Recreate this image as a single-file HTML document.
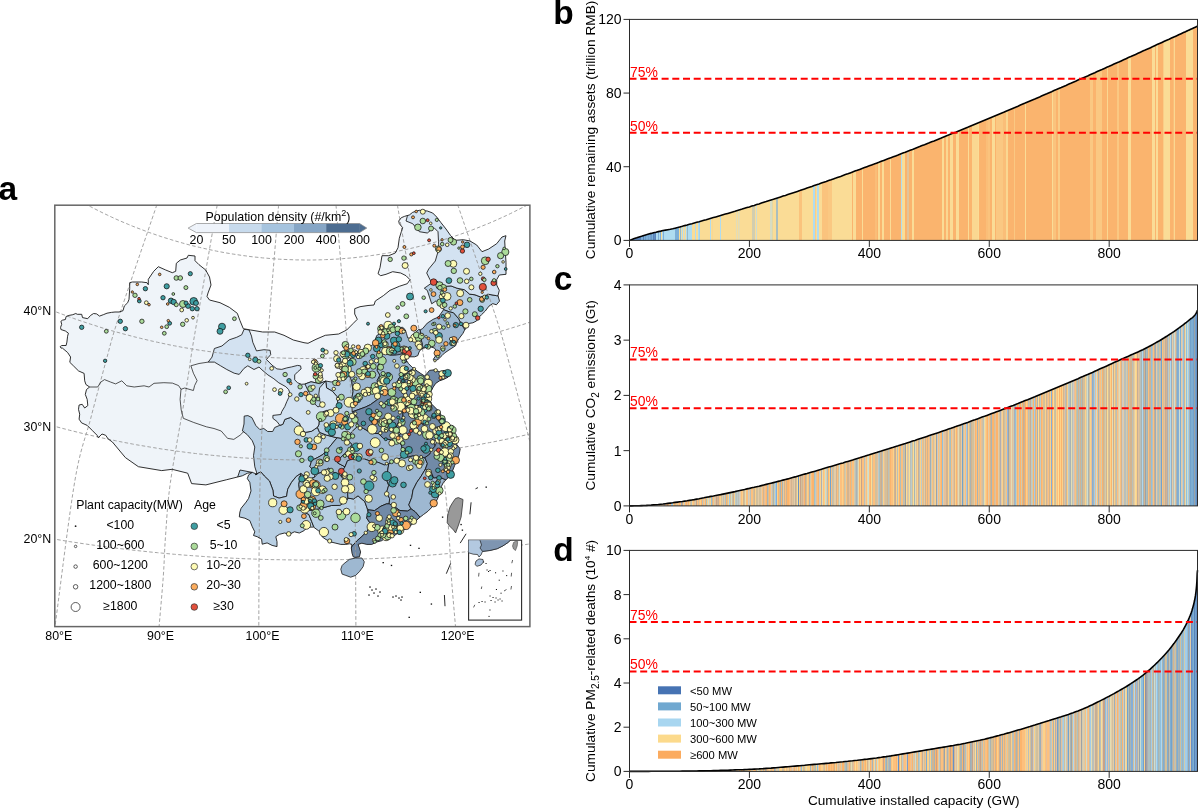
<!DOCTYPE html>
<html><head><meta charset="utf-8"><style>
html,body{margin:0;padding:0;background:#fff;}
svg{display:block;font-family:"Liberation Sans",sans-serif;will-change:transform;}
</style></head><body>
<svg width="1200" height="808" viewBox="0 0 1200 808">
<defs><clipPath id="frameclip"><rect x="54.8" y="205.2" width="475.1" height="421.4"/></clipPath>
<clipPath id="chinaclip"><path d="M61.0,348.1 L60.2,346.6 L61.7,345.5 L66.1,345.5 L66.9,342.1 L67.6,336.2 L68.4,333.2 L65.4,331.0 L60.9,329.5 L60.6,327.3 L61.7,324.3 L60.9,321.3 L62.4,320.2 L65.4,319.5 L66.1,316.5 L69.1,315.4 L72.8,314.7 L75.8,313.5 L77.3,314.3 L81.7,314.3 L82.5,317.6 L87.7,318.7 L90.6,315.4 L93.6,313.5 L96.6,313.9 L99.5,316.1 L103.3,314.7 L107.0,313.2 L111.4,312.4 L115.0,312.0 L119.0,312.0 L123.0,310.7 L124.3,306.0 L127.7,302.7 L129.0,299.3 L129.7,288.7 L129.7,282.7 L132.3,282.0 L141.7,282.0 L147.0,282.7 L148.3,284.7 L148.3,279.3 L153.7,271.3 L158.3,266.7 L165.7,270.0 L172.3,272.7 L175.7,271.3 L176.3,263.3 L180.3,260.0 L187.0,258.0 L188.3,255.3 L195.0,256.0 L195.0,260.7 L199.0,264.7 L205.7,270.0 L209.5,277.0 L211.0,285.0 L208.0,293.0 L207.0,296.5 L209.5,300.0 L220.0,302.7 L229.3,307.3 L237.3,313.3 L240.0,320.7 L243.3,328.7 L250.7,330.0 L262.7,332.0 L274.7,332.0 L284.0,335.3 L293.3,340.0 L304.0,342.7 L308.0,343.3 L316.0,339.3 L325.3,335.3 L338.7,334.0 L346.7,330.0 L353.3,323.3 L357.3,319.3 L354.7,314.0 L354.7,308.7 L360.0,306.7 L368.0,305.5 L374.0,305.0 L375.3,301.0 L383.3,295.7 L390.0,290.3 L399.3,286.3 L407.3,283.7 L410.0,279.7 L406.0,275.7 L400.7,273.0 L392.7,271.7 L386.0,274.3 L380.7,275.7 L378.0,273.7 L380.0,267.7 L382.0,255.7 L388.7,255.7 L395.3,253.0 L398.0,247.7 L399.3,238.3 L401.3,231.7 L402.7,227.7 L399.3,223.7 L398.7,221.0 L401.3,217.7 L404.7,216.3 L409.3,215.0 L412.7,212.3 L419.3,210.3 L427.3,211.0 L432.7,213.0 L436.7,217.0 L440.7,222.3 L446.0,229.0 L450.7,235.7 L455.3,240.3 L463.3,239.7 L470.0,241.0 L476.7,245.0 L482.0,251.7 L488.7,249.0 L496.7,243.7 L502.0,237.0 L506.0,235.7 L504.7,241.0 L505.3,251.7 L506.0,262.3 L506.0,274.3 L499.3,275.0 L496.7,279.7 L496.7,285.0 L499.3,290.3 L498.0,295.7 L499.5,301.1 L496.4,304.8 L492.7,303.6 L489.0,306.1 L485.3,311.0 L481.5,314.7 L479.1,317.2 L476.6,320.9 L472.9,322.8 L469.2,323.4 L466.7,327.1 L464.2,330.8 L463.0,333.3 L459.3,338.2 L456.8,342.0 L455.6,345.7 L451.9,348.1 L448.1,350.6 L444.4,353.1 L442.0,355.6 L438.2,359.3 L434.5,361.1 L433.3,359.3 L435.8,355.6 L437.0,351.9 L434.5,348.1 L430.8,346.9 L427.1,346.9 L423.4,348.1 L420.9,349.4 L419.1,351.9 L417.8,355.6 L414.7,356.8 L409.8,356.8 L406.1,357.4 L406.5,360.5 L408.5,363.6 L412.2,367.3 L417.1,371.0 L420.8,373.5 L424.5,376.0 L427.0,373.5 L429.5,370.4 L434.4,369.8 L439.4,371.7 L444.3,370.4 L448.0,372.9 L448.0,377.2 L444.3,379.1 L439.4,380.9 L435.7,383.4 L433.2,387.1 L430.7,392.1 L429.5,397.0 L430.7,402.0 L432.0,404.4 L435.7,408.1 L439.4,411.9 L441.9,416.8 L444.3,421.8 L449.3,424.2 L453.0,429.2 L454.2,436.6 L455.5,441.5 L456.8,444.5 L460.2,448.9 L459.1,454.5 L456.8,460.0 L454.6,465.6 L452.4,471.2 L450.1,475.6 L446.8,479.0 L443.5,482.3 L441.2,486.8 L440.1,492.3 L437.9,497.9 L435.7,502.4 L432.3,506.8 L427.9,511.3 L423.4,514.6 L419.0,518.0 L414.5,522.4 L408.9,526.9 L403.9,529.6 L397.7,533.3 L394.0,535.8 L386.6,537.0 L381.7,540.7 L376.7,542.0 L371.8,544.4 L366.8,544.4 L361.9,543.2 L358.1,544.4 L359.4,548.1 L360.6,551.9 L359.4,556.8 L355.1,557.4 L353.2,556.8 L352.0,553.1 L351.3,548.1 L352.0,544.4 L349.5,543.8 L345.8,544.4 L340.8,544.4 L335.9,543.2 L330.9,542.0 L326.0,539.5 L322.3,537.0 L321.7,533.3 L318.6,530.8 L313.6,527.1 L307.4,527.1 L304.3,530.5 L299.3,533.0 L294.4,531.8 L289.4,534.3 L284.5,533.0 L279.5,534.3 L275.8,536.7 L277.0,541.7 L277.0,546.6 L272.1,545.4 L267.1,542.9 L262.2,544.2 L261.6,539.2 L257.2,536.7 L253.5,535.5 L254.8,531.8 L252.3,526.8 L249.8,520.6 L244.9,518.2 L239.3,516.9 L239.9,512.0 L241.1,508.3 L246.1,502.1 L248.6,498.4 L251.0,490.9 L249.8,482.3 L247.3,478.6 L248.6,474.9 L252.3,472.4 L247.5,473.2 L242.3,475.8 L226.7,479.7 L205.9,484.9 L191.6,483.6 L187.7,473.2 L172.1,469.3 L161.7,470.6 L138.4,466.7 L125.4,457.6 L112.4,442.0 L108.2,439.0 L105.7,435.3 L102.0,434.0 L98.3,437.7 L97.1,435.3 L92.1,430.3 L87.2,425.4 L81.6,422.9 L79.1,419.2 L79.7,414.2 L78.5,409.3 L79.1,405.0 L82.2,404.3 L84.7,408.0 L87.8,405.6 L87.2,399.4 L85.3,394.4 L86.5,389.5 L89.6,387.0 L85.9,384.5 L84.7,380.8 L84.1,373.4 L78.5,370.9 L73.6,366.0 L69.8,362.3 L70.6,357.0 L67.6,352.5 L62.4,348.1 Z"/></clipPath></defs>
<path d="M61.0,348.1 L60.2,346.6 L61.7,345.5 L66.1,345.5 L66.9,342.1 L67.6,336.2 L68.4,333.2 L65.4,331.0 L60.9,329.5 L60.6,327.3 L61.7,324.3 L60.9,321.3 L62.4,320.2 L65.4,319.5 L66.1,316.5 L69.1,315.4 L72.8,314.7 L75.8,313.5 L77.3,314.3 L81.7,314.3 L82.5,317.6 L87.7,318.7 L90.6,315.4 L93.6,313.5 L96.6,313.9 L99.5,316.1 L103.3,314.7 L107.0,313.2 L111.4,312.4 L115.0,312.0 L119.0,312.0 L123.0,310.7 L124.3,306.0 L127.7,302.7 L129.0,299.3 L129.7,288.7 L129.7,282.7 L132.3,282.0 L141.7,282.0 L147.0,282.7 L148.3,284.7 L148.3,279.3 L153.7,271.3 L158.3,266.7 L165.7,270.0 L172.3,272.7 L175.7,271.3 L176.3,263.3 L180.3,260.0 L187.0,258.0 L188.3,255.3 L195.0,256.0 L195.0,260.7 L199.0,264.7 L205.7,270.0 L209.5,277.0 L211.0,285.0 L208.0,293.0 L207.0,296.5 L209.5,300.0 L220.0,302.7 L229.3,307.3 L237.3,313.3 L240.0,320.7 L243.3,328.7 L250.7,330.0 L262.7,332.0 L274.7,332.0 L284.0,335.3 L293.3,340.0 L304.0,342.7 L308.0,343.3 L316.0,339.3 L325.3,335.3 L338.7,334.0 L346.7,330.0 L353.3,323.3 L357.3,319.3 L354.7,314.0 L354.7,308.7 L360.0,306.7 L368.0,305.5 L374.0,305.0 L375.3,301.0 L383.3,295.7 L390.0,290.3 L399.3,286.3 L407.3,283.7 L410.0,279.7 L406.0,275.7 L400.7,273.0 L392.7,271.7 L386.0,274.3 L380.7,275.7 L378.0,273.7 L380.0,267.7 L382.0,255.7 L388.7,255.7 L395.3,253.0 L398.0,247.7 L399.3,238.3 L401.3,231.7 L402.7,227.7 L399.3,223.7 L398.7,221.0 L401.3,217.7 L404.7,216.3 L409.3,215.0 L412.7,212.3 L419.3,210.3 L427.3,211.0 L432.7,213.0 L436.7,217.0 L440.7,222.3 L446.0,229.0 L450.7,235.7 L455.3,240.3 L463.3,239.7 L470.0,241.0 L476.7,245.0 L482.0,251.7 L488.7,249.0 L496.7,243.7 L502.0,237.0 L506.0,235.7 L504.7,241.0 L505.3,251.7 L506.0,262.3 L506.0,274.3 L499.3,275.0 L496.7,279.7 L496.7,285.0 L499.3,290.3 L498.0,295.7 L499.5,301.1 L496.4,304.8 L492.7,303.6 L489.0,306.1 L485.3,311.0 L481.5,314.7 L479.1,317.2 L476.6,320.9 L472.9,322.8 L469.2,323.4 L466.7,327.1 L464.2,330.8 L463.0,333.3 L459.3,338.2 L456.8,342.0 L455.6,345.7 L451.9,348.1 L448.1,350.6 L444.4,353.1 L442.0,355.6 L438.2,359.3 L434.5,361.1 L433.3,359.3 L435.8,355.6 L437.0,351.9 L434.5,348.1 L430.8,346.9 L427.1,346.9 L423.4,348.1 L420.9,349.4 L419.1,351.9 L417.8,355.6 L414.7,356.8 L409.8,356.8 L406.1,357.4 L406.5,360.5 L408.5,363.6 L412.2,367.3 L417.1,371.0 L420.8,373.5 L424.5,376.0 L427.0,373.5 L429.5,370.4 L434.4,369.8 L439.4,371.7 L444.3,370.4 L448.0,372.9 L448.0,377.2 L444.3,379.1 L439.4,380.9 L435.7,383.4 L433.2,387.1 L430.7,392.1 L429.5,397.0 L430.7,402.0 L432.0,404.4 L435.7,408.1 L439.4,411.9 L441.9,416.8 L444.3,421.8 L449.3,424.2 L453.0,429.2 L454.2,436.6 L455.5,441.5 L456.8,444.5 L460.2,448.9 L459.1,454.5 L456.8,460.0 L454.6,465.6 L452.4,471.2 L450.1,475.6 L446.8,479.0 L443.5,482.3 L441.2,486.8 L440.1,492.3 L437.9,497.9 L435.7,502.4 L432.3,506.8 L427.9,511.3 L423.4,514.6 L419.0,518.0 L414.5,522.4 L408.9,526.9 L403.9,529.6 L397.7,533.3 L394.0,535.8 L386.6,537.0 L381.7,540.7 L376.7,542.0 L371.8,544.4 L366.8,544.4 L361.9,543.2 L358.1,544.4 L359.4,548.1 L360.6,551.9 L359.4,556.8 L355.1,557.4 L353.2,556.8 L352.0,553.1 L351.3,548.1 L352.0,544.4 L349.5,543.8 L345.8,544.4 L340.8,544.4 L335.9,543.2 L330.9,542.0 L326.0,539.5 L322.3,537.0 L321.7,533.3 L318.6,530.8 L313.6,527.1 L307.4,527.1 L304.3,530.5 L299.3,533.0 L294.4,531.8 L289.4,534.3 L284.5,533.0 L279.5,534.3 L275.8,536.7 L277.0,541.7 L277.0,546.6 L272.1,545.4 L267.1,542.9 L262.2,544.2 L261.6,539.2 L257.2,536.7 L253.5,535.5 L254.8,531.8 L252.3,526.8 L249.8,520.6 L244.9,518.2 L239.3,516.9 L239.9,512.0 L241.1,508.3 L246.1,502.1 L248.6,498.4 L251.0,490.9 L249.8,482.3 L247.3,478.6 L248.6,474.9 L252.3,472.4 L247.5,473.2 L242.3,475.8 L226.7,479.7 L205.9,484.9 L191.6,483.6 L187.7,473.2 L172.1,469.3 L161.7,470.6 L138.4,466.7 L125.4,457.6 L112.4,442.0 L108.2,439.0 L105.7,435.3 L102.0,434.0 L98.3,437.7 L97.1,435.3 L92.1,430.3 L87.2,425.4 L81.6,422.9 L79.1,419.2 L79.7,414.2 L78.5,409.3 L79.1,405.0 L82.2,404.3 L84.7,408.0 L87.8,405.6 L87.2,399.4 L85.3,394.4 L86.5,389.5 L89.6,387.0 L85.9,384.5 L84.7,380.8 L84.1,373.4 L78.5,370.9 L73.6,366.0 L69.8,362.3 L70.6,357.0 L67.6,352.5 L62.4,348.1 Z" fill="#eff4f9" stroke="none" stroke-width="0" stroke-linejoin="round"/>
<g clip-path="url(#chinaclip)">
<path d="M244.2,416.1 L247.9,415.6 L251.9,417.6 L255.8,425.5 L259.8,429.5 L263.8,428.5 L267.7,431.5 L272.7,431.5 L274.7,427.5 L279.8,425.3 L282.8,424.4 L284.8,419.4 L290.7,417.4 L294.7,420.4 L299.6,423.4 L301.6,429.3 L305.6,432.3 L311.5,431.3 L314.5,429.3 L317.4,427.3 L319.5,432.3 L326.5,435.1 L337.0,437.8 L330.2,446.1 L323.2,454.3 L317.9,457.4 L311.7,460.4 L309.9,466.5 L315.3,472.4 L314.4,477.4 L308.0,479.5 L300.8,473.5 L296.2,476.5 L291.5,482.4 L287.7,489.3 L286.6,496.3 L279.1,498.1 L273.6,496.0 L272.9,490.1 L269.5,481.0 L264.3,476.0 L260.8,471.9 L255.2,474.7 L257.2,474.3 L254.8,466.8 L253.5,455.7 L254.8,447.0 L252.3,440.8 L247.3,434.7 L242.4,430.9 L244.0,424.0 Z" fill="#b8cfe3" stroke="#151515" stroke-width="0.85" stroke-linejoin="round"/>
<path d="M252.3,472.4 L257.2,474.3 L255.2,474.7 L260.8,471.9 L264.3,476.0 L269.5,481.0 L272.9,490.1 L273.6,496.0 L279.1,498.1 L286.6,496.3 L287.7,489.3 L291.5,482.4 L296.2,476.5 L300.8,473.5 L298.8,484.5 L299.7,491.5 L301.4,498.5 L301.4,504.5 L303.2,511.5 L308.9,514.5 L311.7,521.6 L313.7,526.6 L315.7,539.7 L280.0,560.0 L240.0,530.0 L230.0,500.0 L240.0,470.0 Z" fill="#b8cfe3" stroke="#151515" stroke-width="0.85" stroke-linejoin="round"/>
<path d="M325.7,381.0 L331.3,382.0 L337.3,380.3 L339.9,373.3 L342.5,369.0 L348.6,373.3 L351.8,381.5 L353.1,391.6 L351.1,401.8 L352.4,411.8 L357.8,417.6 L356.3,421.8 L358.2,425.7 L351.6,432.1 L346.7,439.4 L337.0,437.8 L326.5,435.1 L319.5,432.3 L317.4,427.3 L318.8,425.0 L319.6,415.6 L322.2,412.1 L326.6,410.4 L331.8,410.4 L337.0,408.7 L337.8,403.5 L337.0,396.6 L332.6,391.4 L326.6,387.9 Z" fill="#b8cfe3" stroke="#151515" stroke-width="0.85" stroke-linejoin="round"/>
<path d="M431.7,283.0 L437.7,281.5 L442.1,286.7 L451.0,285.9 L457.0,288.2 L464.4,289.7 L469.6,294.1 L475.0,294.8 L480.7,297.0 L488.7,294.3 L496.7,295.7 L503.0,296.0 L503.0,306.0 L485.0,318.0 L472.0,328.0 L467.0,333.0 L464.4,329.0 L461.4,324.5 L458.5,318.6 L453.3,312.7 L449.5,311.9 L443.6,309.7 L439.9,304.5 L436.2,300.8 L431.7,303.8 L429.5,297.1 L427.3,290.4 L424.3,288.2 Z" fill="#b8cfe3" stroke="#151515" stroke-width="0.85" stroke-linejoin="round"/>
<path d="M303.2,511.5 L307.9,510.5 L316.4,509.5 L323.9,507.5 L331.4,505.5 L339.8,505.4 L346.2,501.2 L347.9,498.1 L353.5,499.0 L358.0,495.8 L364.8,501.7 L367.0,507.8 L368.2,512.8 L366.6,518.0 L370.7,524.0 L367.3,531.2 L361.8,536.5 L357.2,540.6 L352.5,545.7 L349.9,551.9 L335.2,551.9 L318.6,546.7 L308.9,534.6 L313.7,526.6 L311.7,521.6 L308.9,514.5 Z" fill="#b8cfe3" stroke="#151515" stroke-width="0.85" stroke-linejoin="round"/>
<path d="M244.1,329.3 L249.1,329.9 L251.5,336.1 L252.8,342.3 L256.5,350.9 L263.9,349.7 L270.1,350.3 L270.7,354.6 L266.4,359.6 L268.0,361.0 L271.9,365.0 L276.9,368.9 L281.8,369.4 L286.8,367.9 L291.7,366.9 L297.6,365.4 L300.6,365.9 L301.1,368.9 L297.6,371.9 L294.7,374.9 L294.7,379.8 L297.6,382.8 L301.6,384.3 L305.0,384.0 L311.0,381.8 L319.6,383.6 L325.7,381.0 L326.6,387.9 L332.6,391.4 L337.0,396.6 L337.8,403.5 L337.0,408.7 L331.8,410.4 L326.6,410.4 L322.2,412.1 L319.6,415.6 L318.8,425.0 L317.4,427.3 L314.5,429.3 L311.5,431.3 L305.6,432.3 L301.6,429.3 L299.6,423.4 L294.7,420.4 L290.7,417.4 L284.8,419.4 L282.8,424.4 L279.8,425.3 L276.9,421.4 L272.9,418.4 L272.9,415.4 L280.8,414.5 L281.8,411.5 L284.8,406.5 L286.8,401.6 L288.7,397.6 L289.7,392.7 L288.7,389.7 L285.8,386.7 L278.8,382.8 L273.9,378.8 L267.9,374.9 L262.0,369.9 L259.0,367.0 L254.0,369.5 L247.8,365.8 L244.1,368.3 L239.2,374.4 L234.2,373.2 L226.8,369.5 L220.6,365.8 L214.4,362.1 L208.2,362.1 L212.0,357.1 L214.4,348.5 L221.9,346.0 L229.3,339.8 L236.7,337.3 L241.7,334.8 Z" fill="#d3e2f1" stroke="#151515" stroke-width="0.85" stroke-linejoin="round"/>
<path d="M407.3,216.3 L406.0,221.0 L412.7,223.7 L419.3,231.7 L427.3,233.0 L434.0,227.7 L438.0,231.7 L438.7,245.0 L438.0,251.7 L435.3,261.0 L428.7,269.0 L426.7,273.0 L430.0,279.7 L431.7,283.0 L437.7,281.5 L442.1,286.7 L451.0,285.9 L457.0,288.2 L464.4,289.7 L469.6,294.1 L475.0,294.8 L480.7,297.0 L488.7,294.3 L496.7,295.7 L503.0,296.0 L510.0,280.0 L510.0,230.0 L500.0,232.0 L480.0,245.0 L460.0,236.0 L440.0,215.0 L425.0,205.0 L405.0,210.0 Z" fill="#d3e2f1" stroke="#151515" stroke-width="0.85" stroke-linejoin="round"/>
<path d="M305.0,384.0 L311.0,381.8 L319.6,383.6 L325.7,381.0 L319.6,387.9 L318.8,394.0 L319.6,400.0 L321.4,405.2 L317.9,407.0 L314.4,403.5 L311.0,399.2 L310.1,394.0 L307.5,389.6 Z" fill="#b8cfe3" stroke="#151515" stroke-width="0.85" stroke-linejoin="round"/>
<path d="M443.6,309.7 L449.5,311.9 L453.3,312.7 L458.5,318.6 L461.4,324.5 L464.4,329.0 L467.0,333.0 L472.0,334.0 L465.0,342.0 L450.0,356.0 L438.0,366.0 L428.0,358.0 L423.8,350.9 L422.6,346.0 L421.5,341.0 L421.0,335.0 L420.0,330.0 L422.6,328.6 L427.3,323.1 L433.2,319.3 L438.4,317.1 Z" fill="#9eb8d1" stroke="#151515" stroke-width="0.85" stroke-linejoin="round"/>
<path d="M374.3,342.2 L376.8,335.4 L379.3,334.2 L382.4,335.4 L385.5,336.6 L389.2,332.9 L393.5,331.7 L396.0,329.2 L399.7,327.4 L402.8,327.4 L405.3,329.8 L406.5,333.6 L407.7,337.9 L413.3,338.5 L414.5,333.6 L417.0,331.1 L418.9,329.2 L420.0,330.0 L421.0,335.0 L421.5,341.0 L422.6,346.0 L423.8,350.9 L428.0,356.0 L420.0,362.0 L424.0,372.0 L411.6,369.6 L405.5,373.4 L398.8,378.3 L396.3,385.8 L392.9,393.4 L389.7,393.7 L384.6,393.2 L381.1,390.4 L378.2,385.6 L377.0,380.6 L379.8,375.2 L377.0,370.3 L378.1,365.1 L382.3,358.6 L378.6,351.8 L376.0,346.0 Z" fill="#9eb8d1" stroke="#151515" stroke-width="0.85" stroke-linejoin="round"/>
<path d="M342.5,369.0 L348.0,362.0 L352.0,356.0 L356.0,352.0 L360.7,351.7 L365.0,347.3 L372.0,345.6 L374.3,342.2 L376.0,346.0 L378.6,351.8 L382.3,358.6 L378.1,365.1 L377.0,370.3 L379.8,375.2 L377.0,380.6 L378.2,385.6 L381.1,390.4 L378.4,398.8 L370.5,404.6 L365.6,407.0 L359.0,409.4 L352.4,411.8 L351.1,401.8 L353.1,391.6 L351.8,381.5 L348.6,373.3 Z" fill="#9eb8d1" stroke="#151515" stroke-width="0.85" stroke-linejoin="round"/>
<path d="M309.9,466.5 L311.7,460.4 L317.9,457.4 L323.2,454.3 L330.2,446.1 L337.0,437.8 L346.7,439.4 L352.1,444.3 L348.8,449.5 L344.5,453.7 L339.4,458.9 L337.7,463.0 L345.0,466.8 L342.4,470.9 L341.7,477.0 L338.9,474.1 L333.4,472.2 L328.8,468.2 L322.5,472.3 L318.0,473.4 L315.3,472.4 Z" fill="#9eb8d1" stroke="#151515" stroke-width="0.85" stroke-linejoin="round"/>
<path d="M300.8,473.5 L308.0,479.5 L314.4,477.4 L318.0,473.4 L322.5,472.3 L328.8,468.2 L333.4,472.2 L338.9,474.1 L341.7,477.0 L346.4,481.9 L345.6,486.0 L347.7,493.1 L347.9,498.1 L346.2,501.2 L339.8,505.4 L331.4,505.5 L323.9,507.5 L316.4,509.5 L307.9,510.5 L303.2,511.5 L301.4,504.5 L301.4,498.5 L299.7,491.5 L298.8,484.5 Z" fill="#9eb8d1" stroke="#151515" stroke-width="0.85" stroke-linejoin="round"/>
<path d="M337.7,463.0 L339.4,458.9 L344.5,453.7 L348.8,449.5 L352.1,444.3 L346.7,439.4 L351.6,432.1 L358.2,425.7 L363.5,428.5 L371.6,433.1 L378.6,433.6 L383.3,438.4 L391.3,439.9 L397.2,438.4 L401.4,445.2 L402.9,451.3 L404.1,455.4 L401.7,457.6 L395.7,460.1 L388.8,463.7 L384.4,465.0 L378.0,462.3 L371.6,461.6 L364.3,458.9 L355.4,458.3 L347.5,460.7 L345.0,466.8 Z" fill="#9eb8d1" stroke="#151515" stroke-width="0.85" stroke-linejoin="round"/>
<path d="M345.0,466.8 L347.5,460.7 L355.4,458.3 L364.3,458.9 L371.6,461.6 L378.0,462.3 L384.4,465.0 L388.8,463.7 L387.6,471.0 L386.4,479.3 L388.7,485.3 L386.5,492.6 L389.7,498.6 L389.1,503.8 L386.4,503.9 L380.9,506.2 L374.6,510.6 L368.0,509.8 L367.0,507.8 L364.8,501.7 L358.0,495.8 L353.5,499.0 L347.9,498.1 L347.7,493.1 L345.6,486.0 L346.4,481.9 L341.7,477.0 L342.4,470.9 Z" fill="#9eb8d1" stroke="#151515" stroke-width="0.85" stroke-linejoin="round"/>
<path d="M388.8,463.7 L395.7,460.1 L401.7,457.6 L404.1,455.4 L407.9,457.1 L413.1,455.7 L418.6,457.3 L424.9,457.7 L427.4,463.7 L425.3,469.2 L420.7,476.9 L416.8,482.4 L413.0,490.0 L411.8,497.3 L408.8,504.8 L411.0,508.8 L407.5,511.1 L399.9,510.5 L393.0,505.7 L389.1,503.8 L389.7,498.6 L386.5,492.6 L388.7,485.3 L386.4,479.3 L387.6,471.0 Z" fill="#9eb8d1" stroke="#151515" stroke-width="0.85" stroke-linejoin="round"/>
<path d="M411.0,508.8 L415.1,511.7 L420.3,517.6 L422.5,520.6 L429.4,523.3 L442.3,511.8 L449.8,497.4 L452.7,484.4 L449.7,482.6 L445.7,479.8 L439.9,477.3 L433.6,477.9 L431.1,471.8 L428.2,471.0 L425.3,469.2 L420.7,476.9 L416.8,482.4 L413.0,490.0 L411.8,497.3 L408.8,504.8 Z" fill="#9eb8d1" stroke="#151515" stroke-width="0.85" stroke-linejoin="round"/>
<path d="M352.4,411.8 L359.0,409.4 L365.6,407.0 L370.5,404.6 L378.4,398.8 L381.1,390.4 L384.6,393.2 L389.7,393.7 L392.9,393.4 L394.4,399.4 L399.8,403.0 L404.1,404.6 L402.9,408.9 L403.0,418.2 L397.6,423.9 L395.5,429.2 L401.1,432.9 L397.2,438.4 L391.3,439.9 L383.3,438.4 L378.6,433.6 L371.6,433.1 L363.5,428.5 L358.2,425.7 L356.3,421.8 L357.8,417.6 Z" fill="#718aa7" stroke="#151515" stroke-width="0.85" stroke-linejoin="round"/>
<path d="M392.9,393.4 L396.3,385.8 L398.8,378.3 L405.5,373.4 L411.6,369.6 L418.4,366.5 L431.4,366.8 L451.8,367.7 L454.0,380.1 L437.6,391.1 L428.8,399.7 L426.6,402.1 L421.0,404.8 L414.5,406.6 L408.4,405.2 L402.9,408.9 L404.1,404.6 L399.8,403.0 L394.4,399.4 Z" fill="#718aa7" stroke="#151515" stroke-width="0.85" stroke-linejoin="round"/>
<path d="M402.9,408.9 L409.1,411.4 L413.5,413.0 L418.1,415.6 L420.7,422.6 L425.5,426.3 L423.7,432.7 L427.1,439.7 L430.3,437.2 L433.3,440.1 L435.0,446.2 L431.9,449.7 L429.8,454.1 L424.9,457.7 L418.6,457.3 L413.1,455.7 L407.9,457.1 L404.1,455.4 L402.9,451.3 L401.4,445.2 L397.2,438.4 L401.1,432.9 L395.5,429.2 L397.6,423.9 L403.0,418.2 Z" fill="#718aa7" stroke="#151515" stroke-width="0.85" stroke-linejoin="round"/>
<path d="M402.9,408.9 L408.4,405.2 L414.5,406.6 L421.0,404.8 L426.6,402.1 L433.9,400.0 L443.7,409.3 L455.7,425.6 L453.3,432.3 L448.3,434.0 L445.6,439.7 L442.4,442.2 L436.9,440.7 L433.3,440.1 L430.3,437.2 L427.1,439.7 L423.7,432.7 L425.5,426.3 L420.7,422.6 L418.1,415.6 L413.5,413.0 L409.1,411.4 Z" fill="#718aa7" stroke="#151515" stroke-width="0.85" stroke-linejoin="round"/>
<path d="M424.9,457.7 L429.8,454.1 L431.9,449.7 L435.0,446.2 L436.9,440.7 L442.4,442.2 L446.9,442.7 L449.6,443.4 L459.7,440.0 L465.5,454.2 L460.2,466.6 L454.6,477.8 L449.7,482.6 L445.7,479.8 L439.9,477.3 L433.6,477.9 L431.1,471.8 L428.2,471.0 L425.3,469.2 L427.4,463.7 Z" fill="#718aa7" stroke="#151515" stroke-width="0.85" stroke-linejoin="round"/>
<path d="M352.5,545.7 L357.2,540.6 L361.8,536.5 L367.3,531.2 L370.7,524.0 L366.6,518.0 L368.2,512.8 L368.0,509.8 L374.6,510.6 L380.9,506.2 L386.4,503.9 L389.1,503.8 L393.0,505.7 L399.9,510.5 L407.5,511.1 L411.0,508.8 L415.1,511.7 L420.3,517.6 L422.5,520.6 L427.8,526.5 L411.8,537.9 L393.0,543.9 L374.0,549.5 L362.6,554.8 L359.0,561.0 L350.0,556.9 L349.8,549.8 Z" fill="#718aa7" stroke="#151515" stroke-width="0.85" stroke-linejoin="round"/>
<path d="M445.6,439.7 L448.3,434.0 L453.3,432.3 L456.1,439.4 L449.6,443.4 L446.9,442.7 Z" fill="#718aa7" stroke="#151515" stroke-width="0.85" stroke-linejoin="round"/>
<path d="M389.2,349.6 L393.5,344.7 L396.0,344.1 L398.4,346.5 L400.9,347.2 L402.2,349.6 L403.4,353.3 L399.1,354.6 L394.7,355.2 L390.4,355.2 L388.6,352.7 Z" fill="#718aa7" stroke="#151515" stroke-width="0.85" stroke-linejoin="round"/>
<path d="M402.2,349.6 L405.0,349.0 L407.0,352.0 L409.8,356.8 L406.1,357.4 L406.5,362.0 L404.0,363.0 L401.5,358.0 L403.4,353.3 Z" fill="#718aa7" stroke="#151515" stroke-width="0.85" stroke-linejoin="round"/>
</g>
<path d="M40.0,176.0 L44.2,178.9 L48.4,181.8 L52.6,184.5 L56.8,187.2 L61.0,189.9 L65.2,192.4 L69.4,194.9 L73.6,197.4 L77.8,199.8 L82.0,202.1 L86.2,204.4 L90.4,206.6 L94.6,208.8 L98.8,210.9 L103.0,213.0 L107.2,215.0 L111.4,217.0 L115.6,218.9 L119.8,220.8 L124.0,222.6 L128.2,224.3 L132.4,226.1 L136.6,227.7 L140.8,229.3 L145.0,230.9 L149.2,232.5 L153.4,233.9 L157.6,235.4 L161.8,236.8 L166.0,238.1 L170.2,239.4 L174.4,240.7 L178.6,241.9 L182.8,243.1 L187.0,244.3 L191.2,245.4 L195.4,246.4 L199.6,247.4 L203.8,248.4 L208.0,249.3 L212.2,250.2 L216.4,251.1 L220.6,251.9 L224.8,252.7 L229.0,253.4 L233.2,254.1 L237.4,254.7 L241.6,255.4 L245.8,255.9 L250.0,256.5 L254.2,257.0 L258.4,257.4 L262.6,257.9 L266.8,258.2 L271.0,258.6 L275.2,258.9 L279.4,259.2 L283.6,259.4 L287.8,259.6 L292.0,259.7 L296.2,259.9 L300.4,259.9 L304.6,260.0 L308.8,260.0 L313.0,260.0 L317.2,259.9 L321.4,259.8 L325.6,259.6 L329.8,259.5 L334.0,259.2 L338.2,259.0 L342.4,258.7 L346.6,258.3 L350.8,258.0 L355.0,257.6 L359.2,257.1 L363.4,256.6 L367.6,256.1 L371.8,255.5 L376.0,254.9 L380.2,254.3 L384.4,253.6 L388.6,252.9 L392.8,252.1 L397.0,251.3 L401.2,250.5 L405.4,249.6 L409.6,248.7 L413.8,247.7 L418.0,246.7 L422.2,245.7 L426.4,244.6 L430.6,243.4 L434.8,242.3 L439.0,241.1 L443.2,239.8 L447.4,238.5 L451.6,237.2 L455.8,235.8 L460.0,234.4 L464.2,232.9 L468.4,231.4 L472.6,229.8 L476.8,228.2 L481.0,226.5 L485.2,224.8 L489.4,223.1 L493.6,221.3 L497.8,219.4 L502.0,217.5 L506.2,215.6 L510.4,213.6 L514.6,211.5 L518.8,209.4 L523.0,207.3 L527.2,205.1 L531.4,202.8 L535.6,200.5 L539.8,198.1 L544.0,195.6 M40.0,305.5 L44.2,307.2 L48.4,308.9 L52.6,310.6 L56.8,312.2 L61.0,313.8 L65.2,315.3 L69.4,316.9 L73.6,318.4 L77.8,319.9 L82.0,321.3 L86.2,322.7 L90.4,324.1 L94.6,325.4 L98.8,326.8 L103.0,328.1 L107.2,329.3 L111.4,330.6 L115.6,331.8 L119.8,332.9 L124.0,334.1 L128.2,335.2 L132.4,336.3 L136.6,337.4 L140.8,338.4 L145.0,339.4 L149.2,340.4 L153.4,341.4 L157.6,342.3 L161.8,343.2 L166.0,344.1 L170.2,345.0 L174.4,345.8 L178.6,346.6 L182.8,347.4 L187.0,348.1 L191.2,348.8 L195.4,349.5 L199.6,350.2 L203.8,350.8 L208.0,351.4 L212.2,352.0 L216.4,352.6 L220.6,353.1 L224.8,353.6 L229.0,354.1 L233.2,354.6 L237.4,355.0 L241.6,355.4 L245.8,355.8 L250.0,356.2 L254.2,356.5 L258.4,356.8 L262.6,357.1 L266.8,357.3 L271.0,357.6 L275.2,357.8 L279.4,357.9 L283.6,358.1 L287.8,358.2 L292.0,358.3 L296.2,358.4 L300.4,358.5 L304.6,358.5 L308.8,358.5 L313.0,358.5 L317.2,358.4 L321.4,358.4 L325.6,358.3 L329.8,358.1 L334.0,358.0 L338.2,357.8 L342.4,357.6 L346.6,357.4 L350.8,357.1 L355.0,356.9 L359.2,356.6 L363.4,356.3 L367.6,355.9 L371.8,355.5 L376.0,355.1 L380.2,354.7 L384.4,354.2 L388.6,353.8 L392.8,353.3 L397.0,352.7 L401.2,352.2 L405.4,351.6 L409.6,351.0 L413.8,350.4 L418.0,349.7 L422.2,349.0 L426.4,348.3 L430.6,347.6 L434.8,346.8 L439.0,346.0 L443.2,345.2 L447.4,344.4 L451.6,343.5 L455.8,342.6 L460.0,341.7 L464.2,340.7 L468.4,339.7 L472.6,338.7 L476.8,337.7 L481.0,336.6 L485.2,335.5 L489.4,334.4 L493.6,333.3 L497.8,332.1 L502.0,330.9 L506.2,329.7 L510.4,328.4 L514.6,327.1 L518.8,325.8 L523.0,324.5 L527.2,323.1 L531.4,321.7 L535.6,320.3 L539.8,318.8 L544.0,317.3 M40.0,422.2 L44.2,423.4 L48.4,424.6 L52.6,425.7 L56.8,426.9 L61.0,428.0 L65.2,429.1 L69.4,430.2 L73.6,431.2 L77.8,432.3 L82.0,433.3 L86.2,434.3 L90.4,435.3 L94.6,436.2 L98.8,437.2 L103.0,438.1 L107.2,439.0 L111.4,439.9 L115.6,440.7 L119.8,441.6 L124.0,442.4 L128.2,443.2 L132.4,444.0 L136.6,444.8 L140.8,445.5 L145.0,446.2 L149.2,446.9 L153.4,447.6 L157.6,448.3 L161.8,449.0 L166.0,449.6 L170.2,450.2 L174.4,450.8 L178.6,451.4 L182.8,451.9 L187.0,452.5 L191.2,453.0 L195.4,453.5 L199.6,454.0 L203.8,454.4 L208.0,454.9 L212.2,455.3 L216.4,455.7 L220.6,456.1 L224.8,456.5 L229.0,456.8 L233.2,457.1 L237.4,457.5 L241.6,457.8 L245.8,458.0 L250.0,458.3 L254.2,458.5 L258.4,458.8 L262.6,459.0 L266.8,459.1 L271.0,459.3 L275.2,459.5 L279.4,459.6 L283.6,459.7 L287.8,459.8 L292.0,459.9 L296.2,459.9 L300.4,460.0 L304.6,460.0 L308.8,460.0 L313.0,460.0 L317.2,459.9 L321.4,459.9 L325.6,459.8 L329.8,459.7 L334.0,459.6 L338.2,459.5 L342.4,459.4 L346.6,459.2 L350.8,459.0 L355.0,458.8 L359.2,458.6 L363.4,458.4 L367.6,458.1 L371.8,457.8 L376.0,457.5 L380.2,457.2 L384.4,456.9 L388.6,456.6 L392.8,456.2 L397.0,455.8 L401.2,455.4 L405.4,455.0 L409.6,454.6 L413.8,454.1 L418.0,453.6 L422.2,453.1 L426.4,452.6 L430.6,452.1 L434.8,451.5 L439.0,451.0 L443.2,450.4 L447.4,449.8 L451.6,449.1 L455.8,448.5 L460.0,447.8 L464.2,447.1 L468.4,446.4 L472.6,445.7 L476.8,445.0 L481.0,444.2 L485.2,443.4 L489.4,442.6 L493.6,441.8 L497.8,441.0 L502.0,440.1 L506.2,439.3 L510.4,438.4 L514.6,437.4 L518.8,436.5 L523.0,435.6 L527.2,434.6 L531.4,433.6 L535.6,432.6 L539.8,431.5 L544.0,430.5 M40.0,536.7 L44.2,537.4 L48.4,538.1 L52.6,538.8 L56.8,539.5 L61.0,540.2 L65.2,540.9 L69.4,541.6 L73.6,542.2 L77.8,542.8 L82.0,543.5 L86.2,544.1 L90.4,544.7 L94.6,545.3 L98.8,545.9 L103.0,546.4 L107.2,547.0 L111.4,547.5 L115.6,548.1 L119.8,548.6 L124.0,549.1 L128.2,549.6 L132.4,550.1 L136.6,550.5 L140.8,551.0 L145.0,551.4 L149.2,551.9 L153.4,552.3 L157.6,552.7 L161.8,553.1 L166.0,553.5 L170.2,553.9 L174.4,554.3 L178.6,554.6 L182.8,555.0 L187.0,555.3 L191.2,555.6 L195.4,555.9 L199.6,556.2 L203.8,556.5 L208.0,556.8 L212.2,557.1 L216.4,557.3 L220.6,557.6 L224.8,557.8 L229.0,558.0 L233.2,558.2 L237.4,558.4 L241.6,558.6 L245.8,558.8 L250.0,558.9 L254.2,559.1 L258.4,559.2 L262.6,559.4 L266.8,559.5 L271.0,559.6 L275.2,559.7 L279.4,559.7 L283.6,559.8 L287.8,559.9 L292.0,559.9 L296.2,560.0 L300.4,560.0 L304.6,560.0 L308.8,560.0 L313.0,560.0 L317.2,560.0 L321.4,559.9 L325.6,559.9 L329.8,559.8 L334.0,559.8 L338.2,559.7 L342.4,559.6 L346.6,559.5 L350.8,559.4 L355.0,559.3 L359.2,559.1 L363.4,559.0 L367.6,558.8 L371.8,558.7 L376.0,558.5 L380.2,558.3 L384.4,558.1 L388.6,557.9 L392.8,557.6 L397.0,557.4 L401.2,557.1 L405.4,556.9 L409.6,556.6 L413.8,556.3 L418.0,556.0 L422.2,555.7 L426.4,555.4 L430.6,555.1 L434.8,554.7 L439.0,554.4 L443.2,554.0 L447.4,553.6 L451.6,553.2 L455.8,552.8 L460.0,552.4 L464.2,552.0 L468.4,551.6 L472.6,551.1 L476.8,550.7 L481.0,550.2 L485.2,549.7 L489.4,549.2 L493.6,548.7 L497.8,548.2 L502.0,547.7 L506.2,547.1 L510.4,546.6 L514.6,546.0 L518.8,545.4 L523.0,544.9 L527.2,544.3 L531.4,543.7 L535.6,543.0 L539.8,542.4 L544.0,541.7 M156.8,205.0 C152.4,217.9 137.4,261.8 130.4,282.4 C123.4,303.0 119.2,315.4 115.0,328.8 C110.8,342.2 109.6,347.9 105.5,362.9 C101.4,377.9 95.7,399.3 90.6,418.8 C85.5,438.3 80.8,446.6 75.0,480.0 C69.2,513.4 59.3,594.6 56.0,619.0 C52.7,643.4 55.2,625.2 55.0,626.5 M217.2,205.0 C214.4,220.8 204.8,276.6 200.7,300.0 C196.6,323.4 194.8,333.6 192.8,345.5 C190.8,357.4 190.4,361.7 188.9,371.3 C187.4,380.9 187.0,384.5 183.9,403.0 C180.8,421.5 173.5,460.5 170.4,482.5 C167.3,504.5 166.8,519.4 165.6,535.0 C164.4,550.6 164.4,561.0 163.3,576.3 C162.2,591.5 159.8,618.1 159.1,626.5 M278.6,205.0 C277.2,222.5 272.5,277.5 270.0,310.0 C267.5,342.5 265.1,368.5 263.4,400.0 C261.7,431.5 260.5,461.2 259.7,499.0 C258.9,536.8 258.9,605.2 258.8,626.5 M336.0,205.0 C337.4,222.5 342.1,277.5 344.6,310.0 C347.1,342.5 349.5,368.5 351.2,400.0 C352.9,431.5 354.1,461.2 354.9,499.0 C355.7,536.8 355.7,605.2 355.9,626.5 M397.4,205.0 C400.1,220.8 409.8,276.6 413.9,300.0 C418.0,323.4 419.8,333.6 421.8,345.5 C423.8,357.4 424.2,361.7 425.7,371.3 C427.2,380.9 427.6,384.5 430.7,403.0 C433.8,421.5 441.1,460.5 444.2,482.5 C447.2,504.5 447.8,519.4 449.0,535.0 C450.2,550.6 450.2,561.0 451.3,576.3 C452.4,591.5 454.8,618.1 455.5,626.5 M457.8,205.0 C462.2,217.9 477.2,261.8 484.2,282.4 C491.2,303.0 495.5,315.4 499.6,328.8 C503.8,342.2 505.0,347.9 509.1,362.9 C513.2,377.9 518.9,399.3 524.0,418.8 C529.1,438.3 537.0,469.8 539.6,480.0" fill="none" stroke="#9a9a9a" stroke-width="0.9" stroke-dasharray="3.6 2.2" clip-path="url(#frameclip)"/>
<path d="M89.6,387.0 L97.7,387.0 L100.8,382.1 L104.5,379.6 L110.7,382.1 L115.6,383.9 L121.8,380.8 L126.8,385.8 L134.2,387.0 L144.1,385.8 L149.0,387.0 L154.0,383.3 L163.9,382.7 L172.4,383.1 L178.6,385.6 L181.0,389.3" fill="none" stroke="#1e1e1e" stroke-width="0.75"/>
<path d="M181.0,389.3 L184.7,388.0 L193.4,390.5 L194.6,385.6 L197.1,380.6 L193.4,373.2 L190.9,365.8 L199.0,363.5 L208.2,362.1" fill="none" stroke="#1e1e1e" stroke-width="0.75"/>
<path d="M181.0,389.3 L180.1,399.4 L181.2,409.9 L183.3,418.3 L193.8,422.5 L206.4,426.8 L214.0,428.5 L221.2,431.0 L227.5,438.3 L233.8,439.4 L240.1,435.2 L244.3,431.0" fill="none" stroke="#1e1e1e" stroke-width="0.75"/>
<path d="M61.0,348.1 L60.2,346.6 L61.7,345.5 L66.1,345.5 L66.9,342.1 L67.6,336.2 L68.4,333.2 L65.4,331.0 L60.9,329.5 L60.6,327.3 L61.7,324.3 L60.9,321.3 L62.4,320.2 L65.4,319.5 L66.1,316.5 L69.1,315.4 L72.8,314.7 L75.8,313.5 L77.3,314.3 L81.7,314.3 L82.5,317.6 L87.7,318.7 L90.6,315.4 L93.6,313.5 L96.6,313.9 L99.5,316.1 L103.3,314.7 L107.0,313.2 L111.4,312.4 L115.0,312.0 L119.0,312.0 L123.0,310.7 L124.3,306.0 L127.7,302.7 L129.0,299.3 L129.7,288.7 L129.7,282.7 L132.3,282.0 L141.7,282.0 L147.0,282.7 L148.3,284.7 L148.3,279.3 L153.7,271.3 L158.3,266.7 L165.7,270.0 L172.3,272.7 L175.7,271.3 L176.3,263.3 L180.3,260.0 L187.0,258.0 L188.3,255.3 L195.0,256.0 L195.0,260.7 L199.0,264.7 L205.7,270.0 L209.5,277.0 L211.0,285.0 L208.0,293.0 L207.0,296.5 L209.5,300.0 L220.0,302.7 L229.3,307.3 L237.3,313.3 L240.0,320.7 L243.3,328.7 L250.7,330.0 L262.7,332.0 L274.7,332.0 L284.0,335.3 L293.3,340.0 L304.0,342.7 L308.0,343.3 L316.0,339.3 L325.3,335.3 L338.7,334.0 L346.7,330.0 L353.3,323.3 L357.3,319.3 L354.7,314.0 L354.7,308.7 L360.0,306.7 L368.0,305.5 L374.0,305.0 L375.3,301.0 L383.3,295.7 L390.0,290.3 L399.3,286.3 L407.3,283.7 L410.0,279.7 L406.0,275.7 L400.7,273.0 L392.7,271.7 L386.0,274.3 L380.7,275.7 L378.0,273.7 L380.0,267.7 L382.0,255.7 L388.7,255.7 L395.3,253.0 L398.0,247.7 L399.3,238.3 L401.3,231.7 L402.7,227.7 L399.3,223.7 L398.7,221.0 L401.3,217.7 L404.7,216.3 L409.3,215.0 L412.7,212.3 L419.3,210.3 L427.3,211.0 L432.7,213.0 L436.7,217.0 L440.7,222.3 L446.0,229.0 L450.7,235.7 L455.3,240.3 L463.3,239.7 L470.0,241.0 L476.7,245.0 L482.0,251.7 L488.7,249.0 L496.7,243.7 L502.0,237.0 L506.0,235.7 L504.7,241.0 L505.3,251.7 L506.0,262.3 L506.0,274.3 L499.3,275.0 L496.7,279.7 L496.7,285.0 L499.3,290.3 L498.0,295.7 L499.5,301.1 L496.4,304.8 L492.7,303.6 L489.0,306.1 L485.3,311.0 L481.5,314.7 L479.1,317.2 L476.6,320.9 L472.9,322.8 L469.2,323.4 L466.7,327.1 L464.2,330.8 L463.0,333.3 L459.3,338.2 L456.8,342.0 L455.6,345.7 L451.9,348.1 L448.1,350.6 L444.4,353.1 L442.0,355.6 L438.2,359.3 L434.5,361.1 L433.3,359.3 L435.8,355.6 L437.0,351.9 L434.5,348.1 L430.8,346.9 L427.1,346.9 L423.4,348.1 L420.9,349.4 L419.1,351.9 L417.8,355.6 L414.7,356.8 L409.8,356.8 L406.1,357.4 L406.5,360.5 L408.5,363.6 L412.2,367.3 L417.1,371.0 L420.8,373.5 L424.5,376.0 L427.0,373.5 L429.5,370.4 L434.4,369.8 L439.4,371.7 L444.3,370.4 L448.0,372.9 L448.0,377.2 L444.3,379.1 L439.4,380.9 L435.7,383.4 L433.2,387.1 L430.7,392.1 L429.5,397.0 L430.7,402.0 L432.0,404.4 L435.7,408.1 L439.4,411.9 L441.9,416.8 L444.3,421.8 L449.3,424.2 L453.0,429.2 L454.2,436.6 L455.5,441.5 L456.8,444.5 L460.2,448.9 L459.1,454.5 L456.8,460.0 L454.6,465.6 L452.4,471.2 L450.1,475.6 L446.8,479.0 L443.5,482.3 L441.2,486.8 L440.1,492.3 L437.9,497.9 L435.7,502.4 L432.3,506.8 L427.9,511.3 L423.4,514.6 L419.0,518.0 L414.5,522.4 L408.9,526.9 L403.9,529.6 L397.7,533.3 L394.0,535.8 L386.6,537.0 L381.7,540.7 L376.7,542.0 L371.8,544.4 L366.8,544.4 L361.9,543.2 L358.1,544.4 L359.4,548.1 L360.6,551.9 L359.4,556.8 L355.1,557.4 L353.2,556.8 L352.0,553.1 L351.3,548.1 L352.0,544.4 L349.5,543.8 L345.8,544.4 L340.8,544.4 L335.9,543.2 L330.9,542.0 L326.0,539.5 L322.3,537.0 L321.7,533.3 L318.6,530.8 L313.6,527.1 L307.4,527.1 L304.3,530.5 L299.3,533.0 L294.4,531.8 L289.4,534.3 L284.5,533.0 L279.5,534.3 L275.8,536.7 L277.0,541.7 L277.0,546.6 L272.1,545.4 L267.1,542.9 L262.2,544.2 L261.6,539.2 L257.2,536.7 L253.5,535.5 L254.8,531.8 L252.3,526.8 L249.8,520.6 L244.9,518.2 L239.3,516.9 L239.9,512.0 L241.1,508.3 L246.1,502.1 L248.6,498.4 L251.0,490.9 L249.8,482.3 L247.3,478.6 L248.6,474.9 L252.3,472.4 L247.5,473.2 L242.3,475.8 L226.7,479.7 L205.9,484.9 L191.6,483.6 L187.7,473.2 L172.1,469.3 L161.7,470.6 L138.4,466.7 L125.4,457.6 L112.4,442.0 L108.2,439.0 L105.7,435.3 L102.0,434.0 L98.3,437.7 L97.1,435.3 L92.1,430.3 L87.2,425.4 L81.6,422.9 L79.1,419.2 L79.7,414.2 L78.5,409.3 L79.1,405.0 L82.2,404.3 L84.7,408.0 L87.8,405.6 L87.2,399.4 L85.3,394.4 L86.5,389.5 L89.6,387.0 L85.9,384.5 L84.7,380.8 L84.1,373.4 L78.5,370.9 L73.6,366.0 L69.8,362.3 L70.6,357.0 L67.6,352.5 L62.4,348.1 Z" fill="none" stroke="#1a1a1a" stroke-width="0.9" stroke-linejoin="round"/>
<path d="M343.3,564.2 L349.5,559.3 L355.7,558.0 L361.9,558.0 L364.3,561.8 L363.1,566.7 L359.4,571.7 L355.7,575.4 L350.7,577.2 L345.8,575.4 L342.1,574.1 L340.8,569.2 L342.1,565.5 Z" fill="#9eb8d1" stroke="#1a1a1a" stroke-width="0.8" stroke-linejoin="round"/>
<path d="M458.3,497.6 L463.0,499.5 L462.5,505.0 L461.1,517.1 L458.5,525.0 L455.6,532.9 L453.5,530.0 L449.5,526.0 L447.2,522.7 L447.5,517.0 L448.1,513.4 L450.0,507.0 L452.8,502.3 L455.5,498.5 Z" fill="#999999" stroke="#333" stroke-width="0.8" stroke-linejoin="round"/>
<rect x="485.5" y="486.5" width="1.4" height="1.3" fill="#111"/>
<rect x="441.9" y="516.5" width="1.4" height="1.3" fill="#111"/>
<rect x="460.4" y="523.9" width="1.4" height="1.3" fill="#111"/>
<rect x="461.7" y="529.5" width="1.4" height="1.3" fill="#111"/>
<rect x="409.8" y="544.7" width="1.4" height="1.3" fill="#111"/>
<rect x="418.3" y="547.7" width="1.4" height="1.3" fill="#111"/>
<rect x="382.5" y="562.0" width="1.4" height="1.3" fill="#111"/>
<rect x="390.8" y="564.8" width="1.4" height="1.3" fill="#111"/>
<rect x="369.3" y="586.4" width="1.4" height="1.3" fill="#111"/>
<rect x="371.3" y="589.4" width="1.4" height="1.3" fill="#111"/>
<rect x="375.3" y="588.4" width="1.4" height="1.3" fill="#111"/>
<rect x="373.3" y="592.4" width="1.4" height="1.3" fill="#111"/>
<rect x="377.3" y="595.4" width="1.4" height="1.3" fill="#111"/>
<rect x="379.3" y="591.4" width="1.4" height="1.3" fill="#111"/>
<rect x="368.3" y="594.4" width="1.4" height="1.3" fill="#111"/>
<rect x="392.3" y="596.4" width="1.4" height="1.3" fill="#111"/>
<rect x="395.3" y="595.4" width="1.4" height="1.3" fill="#111"/>
<rect x="398.3" y="597.4" width="1.4" height="1.3" fill="#111"/>
<rect x="401.3" y="596.4" width="1.4" height="1.3" fill="#111"/>
<rect x="400.3" y="599.4" width="1.4" height="1.3" fill="#111"/>
<rect x="419.6" y="591.7" width="1.4" height="1.3" fill="#111"/>
<rect x="430.7" y="603.4" width="1.4" height="1.3" fill="#111"/>
<rect x="408.5" y="616.7" width="1.4" height="1.3" fill="#111"/>
<line x1="475.5" y1="488.8" x2="478.0" y2="487.6" stroke="#111" stroke-width="0.9"/>
<line x1="471.1" y1="502.3" x2="469.9" y2="514.3" stroke="#111" stroke-width="0.9"/>
<line x1="466.1" y1="533.8" x2="460.2" y2="543.1" stroke="#111" stroke-width="0.9"/>
<line x1="450.6" y1="563.5" x2="446.3" y2="573.7" stroke="#111" stroke-width="0.9"/>
<line x1="444.4" y1="595.0" x2="445.0" y2="606.2" stroke="#111" stroke-width="0.9"/>
<g stroke="#141414" stroke-width="0.75"><circle cx="309.6" cy="482.5" r="4.9" fill="#fefbb4"/><circle cx="369.0" cy="485.9" r="4.9" fill="#3f9ea2"/><circle cx="375.2" cy="442.6" r="4.9" fill="#fefbb4"/><circle cx="445.8" cy="426.6" r="4.9" fill="#fefbb4"/><circle cx="304.8" cy="508.2" r="4.9" fill="#fefbb4"/><circle cx="425.1" cy="402.6" r="4.9" fill="#fefbb4"/><circle cx="349.1" cy="402.2" r="4.9" fill="#fefbb4"/><circle cx="315.4" cy="485.3" r="4.8" fill="#fbac5e"/><circle cx="406.6" cy="400.9" r="4.8" fill="#fefbb4"/><circle cx="424.0" cy="418.8" r="4.8" fill="#fefbb4"/><circle cx="413.2" cy="413.6" r="4.8" fill="#fefbb4"/><circle cx="417.3" cy="387.2" r="4.8" fill="#abdb9a"/><circle cx="388.8" cy="529.7" r="4.8" fill="#fbac5e"/><circle cx="387.8" cy="420.2" r="4.8" fill="#abdb9a"/><circle cx="321.2" cy="416.6" r="4.8" fill="#abdb9a"/><circle cx="346.5" cy="369.0" r="4.8" fill="#fefbb4"/><circle cx="343.8" cy="365.8" r="4.8" fill="#fefbb4"/><circle cx="372.3" cy="429.3" r="4.8" fill="#fefbb4"/><circle cx="371.8" cy="526.9" r="4.7" fill="#fefbb4"/><circle cx="447.8" cy="461.2" r="4.7" fill="#fefbb4"/><circle cx="340.2" cy="418.4" r="4.7" fill="#fbac5e"/><circle cx="355.5" cy="517.9" r="4.7" fill="#abdb9a"/><circle cx="381.6" cy="384.2" r="4.7" fill="#fefbb4"/><circle cx="417.1" cy="383.5" r="4.7" fill="#abdb9a"/><circle cx="415.3" cy="410.5" r="4.7" fill="#abdb9a"/><circle cx="415.5" cy="390.5" r="4.7" fill="#fefbb4"/><circle cx="419.3" cy="461.7" r="4.7" fill="#abdb9a"/><circle cx="401.9" cy="401.6" r="4.6" fill="#abdb9a"/><circle cx="316.0" cy="491.2" r="4.6" fill="#fefbb4"/><circle cx="323.9" cy="532.0" r="4.6" fill="#fefbb4"/><circle cx="382.3" cy="530.6" r="4.6" fill="#fefbb4"/><circle cx="386.7" cy="476.1" r="4.6" fill="#3f9ea2"/><circle cx="448.7" cy="461.2" r="4.6" fill="#abdb9a"/><circle cx="298.8" cy="430.5" r="4.6" fill="#fefbb4"/><circle cx="400.6" cy="406.8" r="4.5" fill="#fefbb4"/><circle cx="411.4" cy="408.8" r="4.5" fill="#abdb9a"/><circle cx="381.1" cy="389.9" r="4.5" fill="#3f9ea2"/><circle cx="427.1" cy="434.6" r="4.5" fill="#abdb9a"/><circle cx="386.1" cy="536.2" r="4.5" fill="#fefbb4"/><circle cx="427.3" cy="398.7" r="4.4" fill="#fefbb4"/><circle cx="346.4" cy="435.6" r="4.4" fill="#fefbb4"/><circle cx="345.7" cy="354.8" r="4.4" fill="#abdb9a"/><circle cx="420.9" cy="391.3" r="4.4" fill="#fbac5e"/><circle cx="390.0" cy="522.3" r="4.4" fill="#fefbb4"/><circle cx="306.2" cy="524.9" r="4.4" fill="#fefbb4"/><circle cx="283.4" cy="510.0" r="4.4" fill="#fefbb4"/><circle cx="350.3" cy="488.7" r="4.4" fill="#fefbb4"/><circle cx="300.4" cy="494.1" r="4.4" fill="#fbac5e"/><circle cx="450.2" cy="439.2" r="4.4" fill="#fefbb4"/><circle cx="388.1" cy="377.0" r="4.4" fill="#abdb9a"/><circle cx="444.8" cy="452.1" r="4.3" fill="#fefbb4"/><circle cx="451.8" cy="430.1" r="4.3" fill="#abdb9a"/><circle cx="414.9" cy="337.9" r="4.3" fill="#fefbb4"/><circle cx="341.4" cy="515.6" r="4.3" fill="#abdb9a"/><circle cx="392.8" cy="524.3" r="4.3" fill="#3f9ea2"/><circle cx="425.8" cy="448.9" r="4.3" fill="#3f9ea2"/><circle cx="446.5" cy="436.1" r="4.3" fill="#3f9ea2"/><circle cx="452.8" cy="438.5" r="4.3" fill="#fefbb4"/><circle cx="395.6" cy="345.6" r="4.3" fill="#3f9ea2"/><circle cx="402.9" cy="430.1" r="4.2" fill="#fefbb4"/><circle cx="363.3" cy="370.8" r="4.2" fill="#fefbb4"/><circle cx="382.0" cy="360.7" r="4.2" fill="#abdb9a"/><circle cx="406.2" cy="525.4" r="4.2" fill="#fbac5e"/><circle cx="387.9" cy="535.5" r="4.2" fill="#abdb9a"/><circle cx="427.5" cy="405.0" r="4.2" fill="#fbac5e"/><circle cx="315.9" cy="513.2" r="4.2" fill="#abdb9a"/><circle cx="388.6" cy="530.5" r="4.2" fill="#3f9ea2"/><circle cx="423.7" cy="409.0" r="4.2" fill="#3f9ea2"/><circle cx="356.2" cy="447.2" r="4.2" fill="#3f9ea2"/><circle cx="389.3" cy="350.7" r="4.2" fill="#fbac5e"/><circle cx="414.9" cy="424.4" r="4.2" fill="#fbac5e"/><circle cx="404.5" cy="386.7" r="4.1" fill="#fefbb4"/><circle cx="388.1" cy="325.4" r="4.1" fill="#fefbb4"/><circle cx="403.9" cy="369.9" r="4.1" fill="#fefbb4"/><circle cx="383.2" cy="379.7" r="4.1" fill="#abdb9a"/><circle cx="272.7" cy="502.7" r="4.1" fill="#fefbb4"/><circle cx="428.2" cy="383.4" r="4.1" fill="#fefbb4"/><circle cx="399.7" cy="530.1" r="4.1" fill="#fefbb4"/><circle cx="316.2" cy="367.9" r="4.1" fill="#abdb9a"/><circle cx="455.0" cy="440.0" r="4.0" fill="#fefbb4"/><circle cx="391.8" cy="392.4" r="4.0" fill="#abdb9a"/><circle cx="421.0" cy="412.6" r="3.9" fill="#abdb9a"/><circle cx="447.7" cy="464.4" r="3.9" fill="#fefbb4"/><circle cx="485.2" cy="260.8" r="3.9" fill="#abdb9a"/><circle cx="393.7" cy="400.3" r="3.9" fill="#abdb9a"/><circle cx="311.8" cy="499.9" r="3.9" fill="#fbac5e"/><circle cx="383.9" cy="423.0" r="3.9" fill="#fefbb4"/><circle cx="314.8" cy="470.9" r="3.9" fill="#3f9ea2"/><circle cx="322.4" cy="489.7" r="3.9" fill="#fefbb4"/><circle cx="440.6" cy="302.6" r="3.9" fill="#abdb9a"/><circle cx="380.9" cy="343.8" r="3.9" fill="#3f9ea2"/><circle cx="350.8" cy="354.2" r="3.9" fill="#fefbb4"/><circle cx="425.1" cy="402.6" r="3.9" fill="#abdb9a"/><circle cx="357.0" cy="399.1" r="3.9" fill="#3f9ea2"/><circle cx="404.2" cy="454.5" r="3.9" fill="#3f9ea2"/><circle cx="374.3" cy="419.4" r="3.9" fill="#3f9ea2"/><circle cx="450.6" cy="474.5" r="3.9" fill="#3f9ea2"/><circle cx="345.0" cy="482.6" r="3.9" fill="#fefbb4"/><circle cx="320.2" cy="503.9" r="3.9" fill="#abdb9a"/><circle cx="447.1" cy="296.4" r="3.9" fill="#fefbb4"/><circle cx="342.5" cy="366.1" r="3.9" fill="#fefbb4"/><circle cx="396.4" cy="440.5" r="3.9" fill="#abdb9a"/><circle cx="328.6" cy="428.5" r="3.8" fill="#3f9ea2"/><circle cx="435.1" cy="494.1" r="3.8" fill="#3f9ea2"/><circle cx="439.3" cy="490.5" r="3.8" fill="#abdb9a"/><circle cx="429.5" cy="435.2" r="3.8" fill="#fefbb4"/><circle cx="384.1" cy="380.6" r="3.8" fill="#fefbb4"/><circle cx="385.4" cy="351.1" r="3.8" fill="#fefbb4"/><circle cx="443.0" cy="439.9" r="3.8" fill="#abdb9a"/><circle cx="420.4" cy="389.8" r="3.8" fill="#fefbb4"/><circle cx="356.6" cy="386.7" r="3.8" fill="#fefbb4"/><circle cx="317.7" cy="439.7" r="3.8" fill="#fefbb4"/><circle cx="343.2" cy="500.4" r="3.8" fill="#fefbb4"/><circle cx="392.6" cy="483.3" r="3.8" fill="#3f9ea2"/><circle cx="404.0" cy="349.7" r="3.8" fill="#fefbb4"/><circle cx="390.0" cy="351.2" r="3.8" fill="#abdb9a"/><circle cx="193.7" cy="301.3" r="3.8" fill="#3f9ea2"/><circle cx="368.6" cy="498.6" r="3.8" fill="#fefbb4"/><circle cx="447.1" cy="438.3" r="3.8" fill="#fefbb4"/><circle cx="427.0" cy="403.9" r="3.8" fill="#3f9ea2"/><circle cx="392.4" cy="425.7" r="3.8" fill="#3f9ea2"/><circle cx="428.0" cy="388.8" r="3.8" fill="#abdb9a"/><circle cx="386.0" cy="530.6" r="3.8" fill="#abdb9a"/><circle cx="427.9" cy="405.3" r="3.8" fill="#fefbb4"/><circle cx="372.4" cy="390.6" r="3.8" fill="#abdb9a"/><circle cx="455.7" cy="460.2" r="3.8" fill="#fbac5e"/><circle cx="433.7" cy="503.2" r="3.7" fill="#fbac5e"/><circle cx="420.6" cy="379.2" r="3.7" fill="#abdb9a"/><circle cx="367.8" cy="347.8" r="3.7" fill="#fefbb4"/><circle cx="447.7" cy="373.1" r="3.7" fill="#3f9ea2"/><circle cx="351.0" cy="450.5" r="3.7" fill="#abdb9a"/><circle cx="438.9" cy="439.7" r="3.7" fill="#fefbb4"/><circle cx="441.6" cy="419.0" r="3.7" fill="#abdb9a"/><circle cx="333.4" cy="424.5" r="3.7" fill="#fefbb4"/><circle cx="374.8" cy="386.4" r="3.7" fill="#abdb9a"/><circle cx="359.2" cy="396.7" r="3.7" fill="#abdb9a"/><circle cx="303.4" cy="489.2" r="3.7" fill="#fefbb4"/><circle cx="303.4" cy="506.0" r="3.7" fill="#fbac5e"/><circle cx="382.5" cy="534.4" r="3.7" fill="#abdb9a"/><circle cx="388.2" cy="527.3" r="3.7" fill="#fefbb4"/><circle cx="394.3" cy="480.3" r="3.7" fill="#3f9ea2"/><circle cx="395.5" cy="430.6" r="3.7" fill="#abdb9a"/><circle cx="345.1" cy="489.3" r="3.7" fill="#fefbb4"/><circle cx="439.5" cy="285.4" r="3.7" fill="#abdb9a"/><circle cx="505.3" cy="252.0" r="3.6" fill="#abdb9a"/><circle cx="438.8" cy="336.1" r="3.6" fill="#3f9ea2"/><circle cx="402.0" cy="463.4" r="3.6" fill="#fefbb4"/><circle cx="440.7" cy="457.9" r="3.6" fill="#abdb9a"/><circle cx="364.6" cy="372.6" r="3.6" fill="#abdb9a"/><circle cx="448.9" cy="443.2" r="3.6" fill="#3f9ea2"/><circle cx="313.1" cy="483.3" r="3.6" fill="#fbac5e"/><circle cx="408.8" cy="450.0" r="3.6" fill="#3f9ea2"/><circle cx="361.7" cy="353.4" r="3.6" fill="#abdb9a"/><circle cx="330.6" cy="413.0" r="3.6" fill="#fefbb4"/><circle cx="309.6" cy="397.9" r="3.6" fill="#fefbb4"/><circle cx="413.4" cy="425.5" r="3.6" fill="#fefbb4"/><circle cx="482.8" cy="287.0" r="3.6" fill="#e2503c"/><circle cx="331.9" cy="432.3" r="3.6" fill="#3f9ea2"/><circle cx="372.2" cy="374.6" r="3.6" fill="#abdb9a"/><circle cx="405.3" cy="351.3" r="3.6" fill="#abdb9a"/><circle cx="388.2" cy="416.7" r="3.6" fill="#fefbb4"/><circle cx="375.9" cy="390.8" r="3.6" fill="#fefbb4"/><circle cx="417.9" cy="421.7" r="3.5" fill="#fbac5e"/><circle cx="453.8" cy="340.0" r="3.5" fill="#fbac5e"/><circle cx="449.0" cy="439.1" r="3.5" fill="#fefbb4"/><circle cx="419.3" cy="387.5" r="3.5" fill="#fefbb4"/><circle cx="416.0" cy="461.1" r="3.5" fill="#abdb9a"/><circle cx="437.6" cy="430.2" r="3.5" fill="#abdb9a"/><circle cx="319.8" cy="462.5" r="3.5" fill="#fefbb4"/><circle cx="381.5" cy="423.3" r="3.5" fill="#abdb9a"/><circle cx="352.7" cy="361.9" r="3.5" fill="#abdb9a"/><circle cx="395.8" cy="513.1" r="3.5" fill="#fbac5e"/><circle cx="369.3" cy="452.6" r="3.5" fill="#e2503c"/><circle cx="183.0" cy="304.0" r="3.5" fill="#abdb9a"/><circle cx="222.0" cy="326.7" r="3.5" fill="#3f9ea2"/><circle cx="410.0" cy="296.5" r="3.5" fill="#3f9ea2"/><circle cx="391.5" cy="327.5" r="3.5" fill="#abdb9a"/><circle cx="344.6" cy="369.5" r="3.5" fill="#fefbb4"/><circle cx="329.2" cy="498.1" r="3.5" fill="#fefbb4"/><circle cx="453.3" cy="263.8" r="3.5" fill="#fefbb4"/><circle cx="401.7" cy="422.1" r="3.5" fill="#abdb9a"/><circle cx="345.9" cy="374.1" r="3.5" fill="#3f9ea2"/><circle cx="460.2" cy="293.2" r="3.5" fill="#fefbb4"/><circle cx="385.0" cy="457.1" r="3.5" fill="#fefbb4"/><circle cx="410.7" cy="410.7" r="3.5" fill="#fefbb4"/><circle cx="335.3" cy="476.0" r="3.5" fill="#3f9ea2"/><circle cx="374.2" cy="417.8" r="3.5" fill="#fefbb4"/><circle cx="346.5" cy="511.6" r="3.4" fill="#fefbb4"/><circle cx="412.0" cy="379.5" r="3.4" fill="#fefbb4"/><circle cx="355.4" cy="456.6" r="3.4" fill="#abdb9a"/><circle cx="417.4" cy="416.0" r="3.4" fill="#abdb9a"/><circle cx="408.1" cy="353.5" r="3.4" fill="#e2503c"/><circle cx="378.5" cy="340.5" r="3.4" fill="#3f9ea2"/><circle cx="433.0" cy="489.2" r="3.4" fill="#3f9ea2"/><circle cx="345.4" cy="344.8" r="3.4" fill="#abdb9a"/><circle cx="312.1" cy="506.8" r="3.4" fill="#fbac5e"/><circle cx="418.6" cy="338.0" r="3.4" fill="#abdb9a"/><circle cx="376.9" cy="416.4" r="3.4" fill="#fefbb4"/><circle cx="393.8" cy="340.5" r="3.4" fill="#3f9ea2"/><circle cx="389.6" cy="402.4" r="3.4" fill="#3f9ea2"/><circle cx="362.0" cy="376.4" r="3.4" fill="#fefbb4"/><circle cx="442.5" cy="442.3" r="3.4" fill="#fefbb4"/><circle cx="376.8" cy="348.5" r="3.4" fill="#3f9ea2"/><circle cx="439.1" cy="339.9" r="3.4" fill="#fefbb4"/><circle cx="399.7" cy="439.8" r="3.4" fill="#fefbb4"/><circle cx="443.2" cy="287.7" r="3.3" fill="#abdb9a"/><circle cx="395.2" cy="435.2" r="3.3" fill="#fefbb4"/><circle cx="436.0" cy="431.0" r="3.3" fill="#fefbb4"/><circle cx="333.1" cy="426.2" r="3.3" fill="#3f9ea2"/><circle cx="398.5" cy="384.5" r="3.3" fill="#abdb9a"/><circle cx="417.9" cy="227.3" r="3.3" fill="#abdb9a"/><circle cx="343.6" cy="376.8" r="3.3" fill="#abdb9a"/><circle cx="345.1" cy="369.3" r="3.3" fill="#abdb9a"/><circle cx="380.9" cy="328.7" r="3.3" fill="#abdb9a"/><circle cx="422.2" cy="394.2" r="3.3" fill="#fefbb4"/><circle cx="431.8" cy="343.4" r="3.3" fill="#abdb9a"/><circle cx="367.7" cy="390.7" r="3.3" fill="#fefbb4"/><circle cx="354.9" cy="419.9" r="3.3" fill="#abdb9a"/><circle cx="306.3" cy="483.4" r="3.3" fill="#fefbb4"/><circle cx="418.2" cy="463.0" r="3.3" fill="#abdb9a"/><circle cx="424.5" cy="428.8" r="3.3" fill="#fefbb4"/><circle cx="433.6" cy="282.1" r="3.3" fill="#e2503c"/><circle cx="400.2" cy="528.4" r="3.3" fill="#fefbb4"/><circle cx="382.7" cy="421.8" r="3.3" fill="#fefbb4"/><circle cx="379.2" cy="518.1" r="3.3" fill="#fefbb4"/><circle cx="384.3" cy="389.5" r="3.3" fill="#fefbb4"/><circle cx="403.5" cy="349.8" r="3.2" fill="#fefbb4"/><circle cx="389.0" cy="331.1" r="3.2" fill="#fefbb4"/><circle cx="386.7" cy="381.0" r="3.2" fill="#3f9ea2"/><circle cx="386.7" cy="336.1" r="3.2" fill="#3f9ea2"/><circle cx="418.3" cy="344.2" r="3.2" fill="#fefbb4"/><circle cx="301.9" cy="478.9" r="3.2" fill="#3f9ea2"/><circle cx="367.6" cy="390.5" r="3.2" fill="#fefbb4"/><circle cx="395.2" cy="406.8" r="3.2" fill="#fefbb4"/><circle cx="307.7" cy="494.6" r="3.2" fill="#abdb9a"/><circle cx="413.5" cy="521.2" r="3.2" fill="#fefbb4"/><circle cx="375.6" cy="342.9" r="3.2" fill="#fbac5e"/><circle cx="384.7" cy="392.5" r="3.2" fill="#fbac5e"/><circle cx="410.0" cy="377.5" r="3.2" fill="#fefbb4"/><circle cx="405.7" cy="436.5" r="3.2" fill="#fefbb4"/><circle cx="435.5" cy="485.3" r="3.2" fill="#fefbb4"/><circle cx="336.8" cy="358.7" r="3.2" fill="#fefbb4"/><circle cx="386.2" cy="529.3" r="3.2" fill="#3f9ea2"/><circle cx="368.9" cy="411.7" r="3.2" fill="#3f9ea2"/><circle cx="384.9" cy="425.5" r="3.2" fill="#abdb9a"/><circle cx="386.9" cy="530.1" r="3.1" fill="#fefbb4"/><circle cx="420.7" cy="380.9" r="3.1" fill="#abdb9a"/><circle cx="373.4" cy="461.7" r="3.1" fill="#abdb9a"/><circle cx="344.8" cy="434.5" r="3.1" fill="#abdb9a"/><circle cx="453.5" cy="242.0" r="3.1" fill="#abdb9a"/><circle cx="396.4" cy="430.3" r="3.1" fill="#abdb9a"/><circle cx="428.7" cy="407.2" r="3.1" fill="#fbac5e"/><circle cx="306.1" cy="501.1" r="3.1" fill="#fefbb4"/><circle cx="339.1" cy="405.7" r="3.1" fill="#3f9ea2"/><circle cx="344.8" cy="422.1" r="3.1" fill="#fbac5e"/><circle cx="392.3" cy="401.9" r="3.1" fill="#fefbb4"/><circle cx="397.7" cy="348.9" r="3.1" fill="#3f9ea2"/><circle cx="383.9" cy="429.1" r="3.1" fill="#fefbb4"/><circle cx="394.2" cy="529.7" r="3.1" fill="#3f9ea2"/><circle cx="310.6" cy="505.9" r="3.1" fill="#3f9ea2"/><circle cx="426.4" cy="405.6" r="3.1" fill="#fbac5e"/><circle cx="365.6" cy="351.0" r="3.1" fill="#abdb9a"/><circle cx="347.7" cy="426.8" r="3.1" fill="#3f9ea2"/><circle cx="437.1" cy="353.1" r="3.1" fill="#fbac5e"/><circle cx="377.5" cy="396.1" r="3.1" fill="#fefbb4"/><circle cx="443.4" cy="444.6" r="3.1" fill="#fefbb4"/><circle cx="330.1" cy="476.8" r="3.1" fill="#fefbb4"/><circle cx="350.1" cy="363.2" r="3.1" fill="#3f9ea2"/><circle cx="298.5" cy="453.8" r="3.1" fill="#abdb9a"/><circle cx="500.6" cy="255.7" r="3.1" fill="#abdb9a"/><circle cx="318.4" cy="380.2" r="3.1" fill="#abdb9a"/><circle cx="290.1" cy="509.8" r="3.1" fill="#3f9ea2"/><circle cx="326.3" cy="472.4" r="3.1" fill="#fefbb4"/><circle cx="315.2" cy="485.0" r="3.1" fill="#abdb9a"/><circle cx="412.9" cy="388.5" r="3.1" fill="#3f9ea2"/><circle cx="327.2" cy="478.3" r="3.1" fill="#fefbb4"/><circle cx="340.3" cy="378.1" r="3.1" fill="#fefbb4"/><circle cx="379.5" cy="354.9" r="3.1" fill="#abdb9a"/><circle cx="383.8" cy="332.3" r="3.1" fill="#fefbb4"/><circle cx="351.8" cy="374.3" r="3.0" fill="#fefbb4"/><circle cx="335.0" cy="527.1" r="3.0" fill="#abdb9a"/><circle cx="438.4" cy="248.9" r="3.0" fill="#abdb9a"/><circle cx="441.8" cy="373.8" r="3.0" fill="#fefbb4"/><circle cx="448.1" cy="263.5" r="3.0" fill="#abdb9a"/><circle cx="336.0" cy="410.2" r="3.0" fill="#fefbb4"/><circle cx="377.2" cy="527.4" r="3.0" fill="#abdb9a"/><circle cx="310.7" cy="388.6" r="3.0" fill="#abdb9a"/><circle cx="337.5" cy="459.1" r="3.0" fill="#e2503c"/><circle cx="432.4" cy="426.5" r="3.0" fill="#fefbb4"/><circle cx="326.5" cy="458.4" r="3.0" fill="#abdb9a"/><circle cx="284.1" cy="503.8" r="3.0" fill="#fbac5e"/><circle cx="466.5" cy="271.3" r="3.0" fill="#fefbb4"/><circle cx="220.0" cy="331.3" r="3.0" fill="#3f9ea2"/><circle cx="405.1" cy="265.5" r="3.0" fill="#fefbb4"/><circle cx="413.8" cy="328.2" r="3.0" fill="#fbac5e"/><circle cx="442.4" cy="421.2" r="3.0" fill="#3f9ea2"/><circle cx="385.3" cy="344.3" r="3.0" fill="#abdb9a"/><circle cx="439.0" cy="432.4" r="3.0" fill="#3f9ea2"/><circle cx="403.2" cy="357.5" r="3.0" fill="#fefbb4"/><circle cx="364.0" cy="392.2" r="3.0" fill="#fefbb4"/><circle cx="416.4" cy="335.0" r="3.0" fill="#abdb9a"/><circle cx="413.9" cy="401.8" r="3.0" fill="#abdb9a"/><circle cx="393.7" cy="408.4" r="3.0" fill="#abdb9a"/><circle cx="380.6" cy="367.2" r="3.0" fill="#abdb9a"/><circle cx="459.9" cy="302.6" r="3.0" fill="#fbac5e"/><circle cx="466.0" cy="325.2" r="3.0" fill="#fefbb4"/><circle cx="384.3" cy="421.4" r="3.0" fill="#fefbb4"/><circle cx="341.4" cy="471.3" r="3.0" fill="#e2503c"/><circle cx="407.1" cy="376.4" r="3.0" fill="#abdb9a"/><circle cx="341.3" cy="397.2" r="3.0" fill="#abdb9a"/><circle cx="391.8" cy="443.1" r="3.0" fill="#fefbb4"/><circle cx="440.4" cy="437.8" r="3.0" fill="#3f9ea2"/><circle cx="412.1" cy="396.0" r="2.9" fill="#fefbb4"/><circle cx="343.9" cy="374.3" r="2.9" fill="#fbac5e"/><circle cx="349.8" cy="477.2" r="2.9" fill="#abdb9a"/><circle cx="339.2" cy="450.5" r="2.9" fill="#abdb9a"/><circle cx="448.9" cy="280.6" r="2.9" fill="#3f9ea2"/><circle cx="373.3" cy="366.4" r="2.9" fill="#abdb9a"/><circle cx="445.0" cy="461.9" r="2.9" fill="#3f9ea2"/><circle cx="385.2" cy="331.7" r="2.9" fill="#abdb9a"/><circle cx="451.4" cy="435.3" r="2.9" fill="#e2503c"/><circle cx="419.0" cy="409.9" r="2.9" fill="#fefbb4"/><circle cx="427.5" cy="484.5" r="2.9" fill="#fefbb4"/><circle cx="346.9" cy="354.3" r="2.9" fill="#3f9ea2"/><circle cx="421.3" cy="336.2" r="2.9" fill="#abdb9a"/><circle cx="358.4" cy="397.3" r="2.9" fill="#fefbb4"/><circle cx="313.9" cy="446.9" r="2.9" fill="#fbac5e"/><circle cx="392.9" cy="329.7" r="2.9" fill="#abdb9a"/><circle cx="397.8" cy="329.0" r="2.9" fill="#abdb9a"/><circle cx="299.6" cy="507.7" r="2.9" fill="#abdb9a"/><circle cx="348.4" cy="453.8" r="2.9" fill="#fefbb4"/><circle cx="423.8" cy="388.2" r="2.9" fill="#fefbb4"/><circle cx="428.7" cy="472.1" r="2.9" fill="#fefbb4"/><circle cx="390.5" cy="532.2" r="2.8" fill="#fbac5e"/><circle cx="359.4" cy="373.9" r="2.8" fill="#fefbb4"/><circle cx="359.4" cy="456.5" r="2.8" fill="#fefbb4"/><circle cx="360.9" cy="352.1" r="2.8" fill="#fefbb4"/><circle cx="384.9" cy="531.2" r="2.8" fill="#3f9ea2"/><circle cx="352.1" cy="416.0" r="2.8" fill="#fefbb4"/><circle cx="403.5" cy="484.9" r="2.8" fill="#3f9ea2"/><circle cx="467.0" cy="244.8" r="2.8" fill="#3f9ea2"/><circle cx="437.5" cy="412.7" r="2.8" fill="#abdb9a"/><circle cx="422.8" cy="221.0" r="2.8" fill="#abdb9a"/><circle cx="393.6" cy="510.4" r="2.8" fill="#abdb9a"/><circle cx="436.8" cy="456.6" r="2.8" fill="#abdb9a"/><circle cx="442.0" cy="441.1" r="2.8" fill="#fefbb4"/><circle cx="347.0" cy="540.9" r="2.8" fill="#fbac5e"/><circle cx="353.0" cy="405.0" r="2.8" fill="#fefbb4"/><circle cx="401.8" cy="331.0" r="2.8" fill="#fbac5e"/><circle cx="313.0" cy="401.7" r="2.8" fill="#abdb9a"/><circle cx="419.5" cy="346.9" r="2.8" fill="#fefbb4"/><circle cx="404.0" cy="391.2" r="2.8" fill="#fefbb4"/><circle cx="428.4" cy="473.8" r="2.8" fill="#fefbb4"/><circle cx="392.5" cy="435.6" r="2.8" fill="#fefbb4"/><circle cx="374.6" cy="421.9" r="2.8" fill="#fbac5e"/><circle cx="359.2" cy="371.5" r="2.8" fill="#abdb9a"/><circle cx="342.2" cy="375.5" r="2.8" fill="#abdb9a"/><circle cx="358.7" cy="458.6" r="2.8" fill="#3f9ea2"/><circle cx="309.8" cy="446.3" r="2.8" fill="#3f9ea2"/><circle cx="322.4" cy="404.6" r="2.8" fill="#fefbb4"/><circle cx="342.7" cy="354.0" r="2.8" fill="#fefbb4"/><circle cx="444.4" cy="435.8" r="2.8" fill="#fefbb4"/><circle cx="460.0" cy="280.5" r="2.8" fill="#abdb9a"/><circle cx="353.1" cy="354.6" r="2.8" fill="#3f9ea2"/><circle cx="447.1" cy="466.1" r="2.8" fill="#abdb9a"/><circle cx="429.5" cy="394.3" r="2.8" fill="#fefbb4"/><circle cx="363.4" cy="481.6" r="2.8" fill="#abdb9a"/><circle cx="351.2" cy="456.9" r="2.8" fill="#e2503c"/><circle cx="419.2" cy="465.7" r="2.8" fill="#fefbb4"/><circle cx="447.7" cy="315.6" r="2.8" fill="#fefbb4"/><circle cx="346.1" cy="418.6" r="2.8" fill="#3f9ea2"/><circle cx="450.9" cy="451.3" r="2.8" fill="#fefbb4"/><circle cx="338.9" cy="512.0" r="2.8" fill="#fefbb4"/><circle cx="359.9" cy="446.0" r="2.8" fill="#fefbb4"/><circle cx="396.8" cy="460.7" r="2.8" fill="#fefbb4"/><circle cx="450.0" cy="428.8" r="2.7" fill="#3f9ea2"/><circle cx="367.8" cy="374.9" r="2.7" fill="#fbac5e"/><circle cx="315.7" cy="376.3" r="2.7" fill="#abdb9a"/><circle cx="310.7" cy="458.7" r="2.7" fill="#3f9ea2"/><circle cx="348.6" cy="436.7" r="2.7" fill="#abdb9a"/><circle cx="383.8" cy="423.9" r="2.7" fill="#abdb9a"/><circle cx="391.9" cy="350.6" r="2.7" fill="#fefbb4"/><circle cx="423.5" cy="448.5" r="2.7" fill="#3f9ea2"/><circle cx="420.8" cy="417.8" r="2.7" fill="#fefbb4"/><circle cx="335.3" cy="382.9" r="2.7" fill="#abdb9a"/><circle cx="454.4" cy="438.8" r="2.7" fill="#fefbb4"/><circle cx="434.8" cy="331.1" r="2.7" fill="#abdb9a"/><circle cx="416.1" cy="411.2" r="2.7" fill="#abdb9a"/><circle cx="379.4" cy="414.0" r="2.7" fill="#abdb9a"/><circle cx="337.8" cy="365.8" r="2.7" fill="#fefbb4"/><circle cx="316.1" cy="484.4" r="2.7" fill="#abdb9a"/><circle cx="374.3" cy="478.8" r="2.7" fill="#fefbb4"/><circle cx="320.3" cy="378.7" r="2.7" fill="#fefbb4"/><circle cx="171.0" cy="300.7" r="2.7" fill="#3f9ea2"/><circle cx="173.7" cy="302.0" r="2.7" fill="#3f9ea2"/><circle cx="297.5" cy="441.9" r="2.7" fill="#fbac5e"/><circle cx="310.8" cy="500.0" r="2.7" fill="#abdb9a"/><circle cx="455.8" cy="325.1" r="2.7" fill="#3f9ea2"/><circle cx="345.1" cy="360.9" r="2.7" fill="#fefbb4"/><circle cx="347.0" cy="442.5" r="2.7" fill="#fefbb4"/><circle cx="445.4" cy="443.0" r="2.7" fill="#fefbb4"/><circle cx="324.0" cy="472.4" r="2.7" fill="#fefbb4"/><circle cx="443.8" cy="444.7" r="2.7" fill="#fefbb4"/><circle cx="416.1" cy="430.7" r="2.7" fill="#fefbb4"/><circle cx="436.6" cy="453.0" r="2.7" fill="#fefbb4"/><circle cx="390.8" cy="527.6" r="2.7" fill="#fefbb4"/><circle cx="439.1" cy="326.7" r="2.7" fill="#fefbb4"/><circle cx="334.6" cy="486.8" r="2.7" fill="#fefbb4"/><circle cx="409.1" cy="468.0" r="2.7" fill="#fefbb4"/><circle cx="393.8" cy="505.0" r="2.7" fill="#fefbb4"/><circle cx="493.6" cy="283.0" r="2.7" fill="#e2503c"/><circle cx="398.9" cy="339.3" r="2.7" fill="#3f9ea2"/><circle cx="359.8" cy="355.9" r="2.7" fill="#abdb9a"/><circle cx="416.0" cy="457.8" r="2.7" fill="#fefbb4"/><circle cx="453.8" cy="270.9" r="2.7" fill="#abdb9a"/><circle cx="303.0" cy="434.0" r="2.7" fill="#fefbb4"/><circle cx="480.7" cy="308.8" r="2.7" fill="#3f9ea2"/><circle cx="412.7" cy="372.9" r="2.7" fill="#fefbb4"/><circle cx="450.6" cy="455.5" r="2.7" fill="#fefbb4"/><circle cx="306.8" cy="474.3" r="2.6" fill="#fefbb4"/><circle cx="452.2" cy="343.2" r="2.6" fill="#3f9ea2"/><circle cx="351.3" cy="424.4" r="2.6" fill="#fefbb4"/><circle cx="465.4" cy="311.4" r="2.6" fill="#abdb9a"/><circle cx="410.3" cy="382.9" r="2.6" fill="#fefbb4"/><circle cx="423.6" cy="389.1" r="2.6" fill="#fefbb4"/><circle cx="429.4" cy="408.5" r="2.6" fill="#abdb9a"/><circle cx="307.4" cy="484.8" r="2.6" fill="#fefbb4"/><circle cx="453.9" cy="435.7" r="2.6" fill="#abdb9a"/><circle cx="166.7" cy="286.3" r="2.6" fill="#3f9ea2"/><circle cx="255.3" cy="359.8" r="2.6" fill="#3f9ea2"/><circle cx="461.4" cy="316.1" r="2.6" fill="#fefbb4"/><circle cx="431.0" cy="228.5" r="2.5" fill="#abdb9a"/><circle cx="422.8" cy="211.7" r="2.5" fill="#fefbb4"/><circle cx="474.8" cy="314.2" r="2.5" fill="#abdb9a"/><circle cx="442.6" cy="306.1" r="2.5" fill="#fefbb4"/><circle cx="450.5" cy="240.0" r="2.5" fill="#abdb9a"/><circle cx="471.4" cy="287.3" r="2.5" fill="#fefbb4"/><circle cx="196.0" cy="303.0" r="2.5" fill="#3f9ea2"/><circle cx="482.2" cy="300.0" r="2.4" fill="#abdb9a"/><circle cx="442.8" cy="348.4" r="2.4" fill="#fefbb4"/><circle cx="444.6" cy="304.9" r="2.4" fill="#abdb9a"/><circle cx="452.2" cy="439.0" r="2.4" fill="#fefbb4"/><circle cx="405.4" cy="349.0" r="2.4" fill="#fefbb4"/><circle cx="344.6" cy="475.9" r="2.4" fill="#fefbb4"/><circle cx="338.2" cy="374.8" r="2.4" fill="#fefbb4"/><circle cx="441.7" cy="296.5" r="2.4" fill="#fefbb4"/><circle cx="326.7" cy="450.3" r="2.4" fill="#abdb9a"/><circle cx="441.9" cy="421.3" r="2.4" fill="#abdb9a"/><circle cx="439.0" cy="478.0" r="2.4" fill="#3f9ea2"/><circle cx="377.9" cy="538.4" r="2.4" fill="#abdb9a"/><circle cx="320.8" cy="517.9" r="2.4" fill="#abdb9a"/><circle cx="442.9" cy="300.4" r="2.4" fill="#3f9ea2"/><circle cx="188.0" cy="306.0" r="2.4" fill="#3f9ea2"/><circle cx="402.6" cy="303.9" r="2.4" fill="#abdb9a"/><circle cx="387.8" cy="315.0" r="2.4" fill="#fefbb4"/><circle cx="406.3" cy="316.3" r="2.4" fill="#abdb9a"/><circle cx="431.6" cy="310.1" r="2.4" fill="#fbac5e"/><circle cx="356.3" cy="400.1" r="2.4" fill="#abdb9a"/><circle cx="428.2" cy="346.8" r="2.4" fill="#abdb9a"/><circle cx="303.9" cy="516.2" r="2.4" fill="#fbac5e"/><circle cx="354.3" cy="352.2" r="2.4" fill="#fefbb4"/><circle cx="400.9" cy="519.7" r="2.4" fill="#fbac5e"/><circle cx="449.7" cy="429.7" r="2.4" fill="#fefbb4"/><circle cx="318.1" cy="490.6" r="2.4" fill="#3f9ea2"/><circle cx="383.5" cy="405.7" r="2.4" fill="#abdb9a"/><circle cx="437.2" cy="485.4" r="2.4" fill="#3f9ea2"/><circle cx="410.0" cy="384.1" r="2.4" fill="#fbac5e"/><circle cx="453.5" cy="343.0" r="2.4" fill="#fefbb4"/><circle cx="404.7" cy="351.1" r="2.4" fill="#e2503c"/><circle cx="433.5" cy="294.1" r="2.4" fill="#fbac5e"/><circle cx="389.6" cy="421.3" r="2.4" fill="#abdb9a"/><circle cx="362.4" cy="354.0" r="2.4" fill="#abdb9a"/><circle cx="346.2" cy="347.9" r="2.4" fill="#fbac5e"/><circle cx="326.3" cy="424.9" r="2.3" fill="#fefbb4"/><circle cx="306.3" cy="439.9" r="2.3" fill="#3f9ea2"/><circle cx="449.9" cy="434.8" r="2.3" fill="#fbac5e"/><circle cx="354.1" cy="533.8" r="2.3" fill="#3f9ea2"/><circle cx="403.8" cy="400.0" r="2.3" fill="#fbac5e"/><circle cx="370.8" cy="451.9" r="2.3" fill="#fefbb4"/><circle cx="372.2" cy="477.3" r="2.3" fill="#fefbb4"/><circle cx="439.9" cy="287.7" r="2.3" fill="#abdb9a"/><circle cx="380.8" cy="331.5" r="2.3" fill="#fefbb4"/><circle cx="288.7" cy="533.9" r="2.3" fill="#fefbb4"/><circle cx="427.2" cy="377.1" r="2.3" fill="#fefbb4"/><circle cx="389.8" cy="534.8" r="2.3" fill="#abdb9a"/><circle cx="429.1" cy="404.4" r="2.3" fill="#fefbb4"/><circle cx="387.1" cy="526.0" r="2.3" fill="#abdb9a"/><circle cx="393.3" cy="496.9" r="2.3" fill="#fefbb4"/><circle cx="386.7" cy="493.9" r="2.3" fill="#fefbb4"/><circle cx="363.4" cy="423.4" r="2.3" fill="#3f9ea2"/><circle cx="350.9" cy="350.4" r="2.3" fill="#abdb9a"/><circle cx="466.7" cy="281.3" r="2.3" fill="#fefbb4"/><circle cx="424.9" cy="407.2" r="2.3" fill="#fefbb4"/><circle cx="437.9" cy="470.3" r="2.3" fill="#3f9ea2"/><circle cx="288.5" cy="520.2" r="2.3" fill="#fbac5e"/><circle cx="381.4" cy="450.4" r="2.3" fill="#abdb9a"/><circle cx="420.2" cy="462.2" r="2.3" fill="#fbac5e"/><circle cx="176.3" cy="278.0" r="2.3" fill="#abdb9a"/><circle cx="180.3" cy="278.0" r="2.3" fill="#abdb9a"/><circle cx="344.9" cy="474.1" r="2.3" fill="#fefbb4"/><circle cx="435.8" cy="332.7" r="2.3" fill="#fefbb4"/><circle cx="448.0" cy="467.7" r="2.3" fill="#fefbb4"/><circle cx="410.8" cy="467.3" r="2.3" fill="#fefbb4"/><circle cx="469.7" cy="299.8" r="2.3" fill="#abdb9a"/><circle cx="380.2" cy="332.1" r="2.3" fill="#fefbb4"/><circle cx="405.7" cy="518.4" r="2.3" fill="#abdb9a"/><circle cx="371.4" cy="418.8" r="2.3" fill="#3f9ea2"/><circle cx="438.5" cy="417.7" r="2.3" fill="#fbac5e"/><circle cx="396.9" cy="366.0" r="2.3" fill="#fefbb4"/><circle cx="344.8" cy="419.3" r="2.3" fill="#fefbb4"/><circle cx="309.8" cy="440.0" r="2.3" fill="#fefbb4"/><circle cx="406.9" cy="356.9" r="2.3" fill="#fefbb4"/><circle cx="389.2" cy="535.3" r="2.3" fill="#fefbb4"/><circle cx="438.9" cy="249.1" r="2.3" fill="#fbac5e"/><circle cx="368.0" cy="373.8" r="2.3" fill="#3f9ea2"/><circle cx="365.2" cy="363.6" r="2.3" fill="#3f9ea2"/><circle cx="399.4" cy="532.2" r="2.3" fill="#3f9ea2"/><circle cx="301.9" cy="460.4" r="2.2" fill="#abdb9a"/><circle cx="314.4" cy="501.0" r="2.2" fill="#3f9ea2"/><circle cx="395.6" cy="524.8" r="2.2" fill="#abdb9a"/><circle cx="488.1" cy="259.3" r="2.2" fill="#e2503c"/><circle cx="433.7" cy="416.4" r="2.2" fill="#3f9ea2"/><circle cx="432.6" cy="441.9" r="2.2" fill="#fefbb4"/><circle cx="430.7" cy="477.7" r="2.2" fill="#3f9ea2"/><circle cx="407.7" cy="410.1" r="2.2" fill="#fefbb4"/><circle cx="402.7" cy="443.1" r="2.2" fill="#abdb9a"/><circle cx="388.3" cy="519.1" r="2.2" fill="#fefbb4"/><circle cx="366.1" cy="491.5" r="2.2" fill="#abdb9a"/><circle cx="384.1" cy="341.9" r="2.2" fill="#abdb9a"/><circle cx="439.4" cy="428.5" r="2.2" fill="#fefbb4"/><circle cx="438.2" cy="482.0" r="2.2" fill="#fefbb4"/><circle cx="450.0" cy="434.1" r="2.2" fill="#fefbb4"/><circle cx="397.4" cy="333.5" r="2.2" fill="#3f9ea2"/><circle cx="373.3" cy="415.3" r="2.2" fill="#fbac5e"/><circle cx="314.8" cy="361.4" r="2.2" fill="#fbac5e"/><circle cx="373.9" cy="472.6" r="2.2" fill="#abdb9a"/><circle cx="145.4" cy="288.7" r="2.2" fill="#3f9ea2"/><circle cx="135.0" cy="295.3" r="2.2" fill="#abdb9a"/><circle cx="163.0" cy="297.7" r="2.2" fill="#3f9ea2"/><circle cx="197.0" cy="308.7" r="2.2" fill="#3f9ea2"/><circle cx="192.3" cy="308.7" r="2.2" fill="#3f9ea2"/><circle cx="120.3" cy="321.3" r="2.2" fill="#3f9ea2"/><circle cx="125.4" cy="328.7" r="2.2" fill="#3f9ea2"/><circle cx="141.9" cy="321.3" r="2.2" fill="#abdb9a"/><circle cx="81.7" cy="327.3" r="2.2" fill="#3f9ea2"/><circle cx="182.7" cy="324.3" r="2.2" fill="#abdb9a"/><circle cx="247.8" cy="355.3" r="2.2" fill="#3f9ea2"/><circle cx="280.7" cy="390.7" r="2.2" fill="#fefbb4"/><circle cx="285.1" cy="374.5" r="2.2" fill="#abdb9a"/><circle cx="289.0" cy="380.7" r="2.2" fill="#3f9ea2"/><circle cx="300.1" cy="386.8" r="2.2" fill="#abdb9a"/><circle cx="301.0" cy="394.6" r="2.2" fill="#3f9ea2"/><circle cx="305.7" cy="393.5" r="2.2" fill="#fbac5e"/><circle cx="296.8" cy="399.0" r="2.2" fill="#fefbb4"/><circle cx="325.8" cy="414.6" r="2.2" fill="#fefbb4"/><circle cx="390.2" cy="259.4" r="2.2" fill="#abdb9a"/><circle cx="403.9" cy="258.1" r="2.2" fill="#abdb9a"/><circle cx="326.0" cy="352.0" r="2.2" fill="#fefbb4"/><circle cx="336.0" cy="352.7" r="2.2" fill="#fefbb4"/><circle cx="338.7" cy="360.0" r="2.2" fill="#3f9ea2"/><circle cx="395.1" cy="344.0" r="2.2" fill="#fbac5e"/><circle cx="449.5" cy="456.2" r="2.2" fill="#fefbb4"/><circle cx="331.1" cy="470.4" r="2.2" fill="#abdb9a"/><circle cx="426.1" cy="395.6" r="2.2" fill="#3f9ea2"/><circle cx="481.7" cy="299.1" r="2.2" fill="#fbac5e"/><circle cx="438.6" cy="450.2" r="2.2" fill="#e2503c"/><circle cx="477.7" cy="318.0" r="2.2" fill="#e2503c"/><circle cx="352.6" cy="436.1" r="2.2" fill="#abdb9a"/><circle cx="372.7" cy="356.5" r="2.2" fill="#3f9ea2"/><circle cx="382.8" cy="335.7" r="2.2" fill="#fbac5e"/><circle cx="429.1" cy="407.9" r="2.2" fill="#fefbb4"/><circle cx="445.9" cy="343.8" r="2.2" fill="#fbac5e"/><circle cx="462.4" cy="251.0" r="2.2" fill="#e2503c"/><circle cx="367.5" cy="367.0" r="2.2" fill="#fbac5e"/><circle cx="395.2" cy="523.8" r="2.1" fill="#3f9ea2"/><circle cx="441.7" cy="435.7" r="2.1" fill="#abdb9a"/><circle cx="406.3" cy="368.5" r="2.1" fill="#3f9ea2"/><circle cx="402.0" cy="377.2" r="2.1" fill="#3f9ea2"/><circle cx="353.8" cy="353.3" r="2.1" fill="#fbac5e"/><circle cx="406.9" cy="349.1" r="2.1" fill="#fefbb4"/><circle cx="445.9" cy="469.2" r="2.1" fill="#fefbb4"/><circle cx="346.8" cy="413.4" r="2.1" fill="#abdb9a"/><circle cx="454.9" cy="446.6" r="2.1" fill="#fefbb4"/><circle cx="404.3" cy="410.8" r="2.1" fill="#fbac5e"/><circle cx="359.3" cy="471.0" r="2.1" fill="#3f9ea2"/><circle cx="345.2" cy="418.9" r="2.1" fill="#abdb9a"/><circle cx="424.8" cy="422.1" r="2.1" fill="#3f9ea2"/><circle cx="326.6" cy="413.3" r="2.1" fill="#fefbb4"/><circle cx="428.6" cy="408.7" r="2.1" fill="#abdb9a"/><circle cx="386.3" cy="429.6" r="2.1" fill="#abdb9a"/><circle cx="405.5" cy="395.4" r="2.1" fill="#fefbb4"/><circle cx="358.3" cy="347.1" r="2.1" fill="#fbac5e"/><circle cx="320.4" cy="376.1" r="2.1" fill="#fefbb4"/><circle cx="313.8" cy="399.2" r="2.1" fill="#abdb9a"/><circle cx="393.1" cy="418.2" r="2.1" fill="#fefbb4"/><circle cx="371.2" cy="361.8" r="2.1" fill="#fefbb4"/><circle cx="483.1" cy="267.3" r="2.1" fill="#fbac5e"/><circle cx="392.1" cy="535.8" r="2.1" fill="#fefbb4"/><circle cx="438.3" cy="411.9" r="2.1" fill="#fefbb4"/><circle cx="383.1" cy="373.5" r="2.1" fill="#abdb9a"/><circle cx="337.2" cy="365.3" r="2.1" fill="#fefbb4"/><circle cx="388.4" cy="374.9" r="2.1" fill="#3f9ea2"/><circle cx="434.0" cy="415.2" r="2.1" fill="#3f9ea2"/><circle cx="190.3" cy="273.7" r="2.1" fill="#3f9ea2"/><circle cx="436.1" cy="436.4" r="2.1" fill="#abdb9a"/><circle cx="394.3" cy="384.8" r="2.1" fill="#fefbb4"/><circle cx="423.2" cy="399.0" r="2.1" fill="#3f9ea2"/><circle cx="376.4" cy="360.8" r="2.1" fill="#fefbb4"/><circle cx="320.6" cy="461.8" r="2.1" fill="#abdb9a"/><circle cx="405.8" cy="377.2" r="2.1" fill="#fefbb4"/><circle cx="355.5" cy="403.5" r="2.1" fill="#fbac5e"/><circle cx="368.9" cy="514.7" r="2.1" fill="#3f9ea2"/><circle cx="401.1" cy="374.5" r="2.1" fill="#abdb9a"/><circle cx="313.1" cy="387.2" r="2.1" fill="#fefbb4"/><circle cx="365.4" cy="394.4" r="2.1" fill="#fefbb4"/><circle cx="371.0" cy="462.3" r="2.1" fill="#fbac5e"/><circle cx="342.0" cy="427.1" r="2.1" fill="#abdb9a"/><circle cx="419.6" cy="433.1" r="2.1" fill="#fefbb4"/><circle cx="410.7" cy="339.7" r="2.1" fill="#fefbb4"/><circle cx="414.4" cy="422.9" r="2.1" fill="#abdb9a"/><circle cx="325.1" cy="490.1" r="2.1" fill="#abdb9a"/><circle cx="419.3" cy="388.4" r="2.1" fill="#abdb9a"/><circle cx="303.2" cy="508.2" r="2.1" fill="#fefbb4"/><circle cx="329.7" cy="541.0" r="2.1" fill="#fefbb4"/><circle cx="394.6" cy="352.2" r="2.1" fill="#3f9ea2"/><circle cx="320.5" cy="365.6" r="2.1" fill="#3f9ea2"/><circle cx="402.9" cy="449.5" r="2.1" fill="#abdb9a"/><circle cx="303.4" cy="499.3" r="2.1" fill="#fbac5e"/><circle cx="351.1" cy="534.6" r="2.1" fill="#fefbb4"/><circle cx="447.8" cy="439.3" r="2.0" fill="#3f9ea2"/><circle cx="368.2" cy="366.5" r="2.0" fill="#fefbb4"/><circle cx="385.0" cy="343.8" r="2.0" fill="#fefbb4"/><circle cx="346.2" cy="539.5" r="2.0" fill="#fefbb4"/><circle cx="428.9" cy="419.0" r="2.0" fill="#abdb9a"/><circle cx="381.1" cy="403.5" r="2.0" fill="#fefbb4"/><circle cx="437.5" cy="482.8" r="2.0" fill="#3f9ea2"/><circle cx="391.5" cy="461.7" r="2.0" fill="#abdb9a"/><circle cx="389.2" cy="516.8" r="2.0" fill="#fefbb4"/><circle cx="451.5" cy="427.2" r="2.0" fill="#abdb9a"/><circle cx="399.7" cy="424.7" r="2.0" fill="#fefbb4"/><circle cx="444.9" cy="461.3" r="2.0" fill="#abdb9a"/><circle cx="398.1" cy="438.1" r="2.0" fill="#fbac5e"/><circle cx="381.8" cy="533.0" r="2.0" fill="#fefbb4"/><circle cx="400.8" cy="388.9" r="2.0" fill="#abdb9a"/><circle cx="320.3" cy="374.1" r="2.0" fill="#fefbb4"/><circle cx="377.4" cy="513.5" r="2.0" fill="#fbac5e"/><circle cx="302.3" cy="525.7" r="2.0" fill="#abdb9a"/><circle cx="441.4" cy="452.3" r="2.0" fill="#fefbb4"/><circle cx="391.3" cy="429.6" r="2.0" fill="#fefbb4"/><circle cx="381.2" cy="326.5" r="2.0" fill="#fbac5e"/><circle cx="410.5" cy="459.8" r="2.0" fill="#fefbb4"/><circle cx="343.1" cy="378.8" r="2.0" fill="#fefbb4"/><circle cx="323.4" cy="436.8" r="2.0" fill="#fefbb4"/><circle cx="360.1" cy="428.1" r="2.0" fill="#fefbb4"/><circle cx="185.9" cy="287.6" r="2.0" fill="#abdb9a"/><circle cx="176.3" cy="304.7" r="2.0" fill="#abdb9a"/><circle cx="186.0" cy="303.0" r="2.0" fill="#3f9ea2"/><circle cx="343.2" cy="438.8" r="2.0" fill="#abdb9a"/><circle cx="305.8" cy="476.7" r="2.0" fill="#fefbb4"/><circle cx="406.8" cy="388.5" r="2.0" fill="#3f9ea2"/><circle cx="379.8" cy="535.1" r="2.0" fill="#abdb9a"/><circle cx="338.1" cy="383.7" r="2.0" fill="#fbac5e"/><circle cx="343.4" cy="352.8" r="2.0" fill="#abdb9a"/><circle cx="327.1" cy="459.6" r="2.0" fill="#fefbb4"/><circle cx="452.7" cy="438.0" r="2.0" fill="#fefbb4"/><circle cx="139.3" cy="301.0" r="1.9" fill="#3f9ea2"/><circle cx="146.3" cy="302.7" r="1.9" fill="#fefbb4"/><circle cx="181.7" cy="310.0" r="1.9" fill="#fefbb4"/><circle cx="106.3" cy="331.3" r="1.9" fill="#abdb9a"/><circle cx="169.7" cy="323.3" r="1.9" fill="#3f9ea2"/><circle cx="166.7" cy="326.7" r="1.9" fill="#abdb9a"/><circle cx="164.3" cy="333.3" r="1.9" fill="#abdb9a"/><circle cx="234.4" cy="318.7" r="1.9" fill="#abdb9a"/><circle cx="259.0" cy="361.4" r="1.9" fill="#abdb9a"/><circle cx="228.7" cy="387.8" r="1.9" fill="#3f9ea2"/><circle cx="225.6" cy="391.8" r="1.9" fill="#abdb9a"/><circle cx="271.7" cy="368.4" r="1.9" fill="#fefbb4"/><circle cx="274.5" cy="389.6" r="1.9" fill="#fefbb4"/><circle cx="280.1" cy="393.5" r="1.9" fill="#3f9ea2"/><circle cx="290.1" cy="394.6" r="1.9" fill="#fefbb4"/><circle cx="308.2" cy="412.4" r="1.9" fill="#fefbb4"/><circle cx="318.0" cy="399.0" r="1.9" fill="#abdb9a"/><circle cx="322.7" cy="350.0" r="1.9" fill="#3f9ea2"/><circle cx="322.4" cy="356.0" r="1.9" fill="#abdb9a"/><circle cx="313.3" cy="362.0" r="1.9" fill="#fefbb4"/><circle cx="483.2" cy="278.8" r="1.9" fill="#e2503c"/><circle cx="484.6" cy="297.0" r="1.9" fill="#fefbb4"/><circle cx="462.5" cy="246.9" r="1.9" fill="#fbac5e"/><circle cx="444.8" cy="289.6" r="1.9" fill="#fbac5e"/><circle cx="486.8" cy="297.4" r="1.8" fill="#3f9ea2"/><circle cx="442.8" cy="316.2" r="1.8" fill="#3f9ea2"/><circle cx="442.2" cy="244.1" r="1.8" fill="#abdb9a"/><circle cx="454.8" cy="306.4" r="1.8" fill="#abdb9a"/><circle cx="443.6" cy="327.6" r="1.8" fill="#abdb9a"/><circle cx="484.3" cy="279.8" r="1.8" fill="#abdb9a"/><circle cx="431.4" cy="331.3" r="1.8" fill="#fefbb4"/><circle cx="494.2" cy="272.0" r="1.8" fill="#fbac5e"/><circle cx="186.7" cy="320.3" r="1.8" fill="#fefbb4"/><circle cx="397.7" cy="307.6" r="1.8" fill="#abdb9a"/><circle cx="423.7" cy="297.7" r="1.8" fill="#abdb9a"/><circle cx="471.3" cy="278.9" r="1.8" fill="#abdb9a"/><circle cx="447.2" cy="244.8" r="1.8" fill="#fefbb4"/><circle cx="443.3" cy="294.8" r="1.8" fill="#fefbb4"/><circle cx="461.0" cy="323.9" r="1.8" fill="#3f9ea2"/><circle cx="326.2" cy="453.9" r="1.8" fill="#3f9ea2"/><circle cx="415.9" cy="416.2" r="1.8" fill="#abdb9a"/><circle cx="358.1" cy="395.3" r="1.8" fill="#abdb9a"/><circle cx="411.0" cy="430.8" r="1.7" fill="#e2503c"/><circle cx="315.8" cy="395.8" r="1.7" fill="#fefbb4"/><circle cx="321.5" cy="508.0" r="1.7" fill="#abdb9a"/><circle cx="398.2" cy="518.1" r="1.7" fill="#fefbb4"/><circle cx="312.3" cy="508.1" r="1.7" fill="#fefbb4"/><circle cx="388.8" cy="523.0" r="1.7" fill="#fefbb4"/><circle cx="426.4" cy="346.3" r="1.7" fill="#3f9ea2"/><circle cx="448.3" cy="464.8" r="1.7" fill="#abdb9a"/><circle cx="443.0" cy="377.5" r="1.7" fill="#fefbb4"/><circle cx="398.9" cy="514.2" r="1.7" fill="#fefbb4"/><circle cx="408.8" cy="384.3" r="1.7" fill="#abdb9a"/><circle cx="450.7" cy="308.4" r="1.7" fill="#fefbb4"/><circle cx="392.6" cy="407.5" r="1.7" fill="#fefbb4"/><circle cx="353.2" cy="346.4" r="1.7" fill="#fefbb4"/><circle cx="451.1" cy="339.0" r="1.7" fill="#fefbb4"/><circle cx="399.1" cy="381.9" r="1.7" fill="#fefbb4"/><circle cx="446.1" cy="469.9" r="1.7" fill="#fefbb4"/><circle cx="352.1" cy="449.1" r="1.7" fill="#fefbb4"/><circle cx="410.4" cy="520.2" r="1.7" fill="#fefbb4"/><circle cx="494.1" cy="280.3" r="1.7" fill="#abdb9a"/><circle cx="497.4" cy="266.2" r="1.7" fill="#abdb9a"/><circle cx="416.4" cy="406.9" r="1.7" fill="#fefbb4"/><circle cx="380.3" cy="433.1" r="1.7" fill="#fefbb4"/><circle cx="374.1" cy="540.3" r="1.7" fill="#fefbb4"/><circle cx="365.8" cy="532.8" r="1.7" fill="#fefbb4"/><circle cx="441.1" cy="427.1" r="1.7" fill="#fbac5e"/><circle cx="354.2" cy="380.4" r="1.7" fill="#abdb9a"/><circle cx="331.9" cy="500.5" r="1.7" fill="#fbac5e"/><circle cx="340.0" cy="425.9" r="1.7" fill="#3f9ea2"/><circle cx="448.1" cy="471.8" r="1.7" fill="#fbac5e"/><circle cx="319.4" cy="435.3" r="1.7" fill="#fefbb4"/><circle cx="105.1" cy="360.8" r="1.7" fill="#3f9ea2"/><circle cx="381.8" cy="392.4" r="1.7" fill="#fefbb4"/><circle cx="381.7" cy="327.8" r="1.7" fill="#fefbb4"/><circle cx="442.8" cy="445.1" r="1.7" fill="#3f9ea2"/><circle cx="431.2" cy="449.8" r="1.7" fill="#fefbb4"/><circle cx="427.0" cy="423.3" r="1.7" fill="#abdb9a"/><circle cx="443.0" cy="349.5" r="1.7" fill="#abdb9a"/><circle cx="427.9" cy="395.8" r="1.7" fill="#fefbb4"/><circle cx="358.1" cy="357.0" r="1.7" fill="#fefbb4"/><circle cx="408.9" cy="382.1" r="1.7" fill="#fefbb4"/><circle cx="317.4" cy="464.7" r="1.7" fill="#fefbb4"/><circle cx="333.8" cy="388.9" r="1.7" fill="#fefbb4"/><circle cx="480.3" cy="273.8" r="1.7" fill="#fefbb4"/><circle cx="407.0" cy="452.6" r="1.7" fill="#abdb9a"/><circle cx="401.6" cy="523.3" r="1.7" fill="#3f9ea2"/><circle cx="421.9" cy="394.7" r="1.7" fill="#fefbb4"/><circle cx="315.1" cy="503.8" r="1.7" fill="#3f9ea2"/><circle cx="435.7" cy="370.3" r="1.7" fill="#fefbb4"/><circle cx="315.2" cy="374.2" r="1.7" fill="#e2503c"/><circle cx="402.2" cy="420.5" r="1.7" fill="#3f9ea2"/><circle cx="316.3" cy="362.6" r="1.7" fill="#fefbb4"/><circle cx="383.1" cy="333.4" r="1.7" fill="#fefbb4"/><circle cx="300.7" cy="506.6" r="1.6" fill="#fefbb4"/><circle cx="344.8" cy="455.9" r="1.6" fill="#abdb9a"/><circle cx="377.0" cy="410.8" r="1.6" fill="#abdb9a"/><circle cx="338.0" cy="398.9" r="1.6" fill="#fefbb4"/><circle cx="385.4" cy="421.9" r="1.6" fill="#fefbb4"/><circle cx="453.3" cy="448.3" r="1.6" fill="#fefbb4"/><circle cx="374.8" cy="541.7" r="1.6" fill="#abdb9a"/><circle cx="436.8" cy="219.9" r="1.6" fill="#abdb9a"/><circle cx="430.3" cy="492.7" r="1.6" fill="#3f9ea2"/><circle cx="403.6" cy="361.6" r="1.6" fill="#abdb9a"/><circle cx="453.9" cy="341.8" r="1.6" fill="#3f9ea2"/><circle cx="321.8" cy="370.3" r="1.6" fill="#fefbb4"/><circle cx="411.3" cy="254.4" r="1.6" fill="#fbac5e"/><circle cx="398.9" cy="321.2" r="1.6" fill="#3f9ea2"/><circle cx="394.0" cy="323.7" r="1.6" fill="#3f9ea2"/><circle cx="425.6" cy="311.3" r="1.6" fill="#3f9ea2"/><circle cx="355.4" cy="413.5" r="1.6" fill="#fefbb4"/><circle cx="441.8" cy="292.6" r="1.6" fill="#abdb9a"/><circle cx="418.5" cy="398.6" r="1.6" fill="#3f9ea2"/><circle cx="434.3" cy="323.8" r="1.6" fill="#abdb9a"/><circle cx="320.2" cy="420.0" r="1.6" fill="#abdb9a"/><circle cx="323.2" cy="491.4" r="1.6" fill="#abdb9a"/><circle cx="448.4" cy="326.1" r="1.6" fill="#fefbb4"/><circle cx="300.9" cy="446.3" r="1.6" fill="#abdb9a"/><circle cx="444.3" cy="372.4" r="1.6" fill="#3f9ea2"/><circle cx="368.9" cy="393.9" r="1.6" fill="#fefbb4"/><circle cx="423.0" cy="401.9" r="1.6" fill="#e2503c"/><circle cx="395.7" cy="532.1" r="1.6" fill="#fefbb4"/><circle cx="440.5" cy="378.0" r="1.6" fill="#fbac5e"/><circle cx="376.4" cy="385.3" r="1.6" fill="#fefbb4"/><circle cx="403.7" cy="331.6" r="1.6" fill="#fefbb4"/><circle cx="280.3" cy="521.9" r="1.6" fill="#fefbb4"/><circle cx="399.9" cy="412.5" r="1.6" fill="#fefbb4"/><circle cx="423.4" cy="400.7" r="1.6" fill="#abdb9a"/><circle cx="419.2" cy="415.1" r="1.6" fill="#fefbb4"/><circle cx="452.4" cy="462.4" r="1.6" fill="#abdb9a"/><circle cx="394.3" cy="388.4" r="1.6" fill="#fbac5e"/><circle cx="411.7" cy="517.7" r="1.6" fill="#abdb9a"/><circle cx="432.7" cy="482.7" r="1.6" fill="#abdb9a"/><circle cx="340.9" cy="365.3" r="1.6" fill="#fefbb4"/><circle cx="440.4" cy="464.9" r="1.6" fill="#fefbb4"/><circle cx="426.8" cy="385.2" r="1.5" fill="#fefbb4"/><circle cx="355.5" cy="378.6" r="1.5" fill="#abdb9a"/><circle cx="439.6" cy="493.4" r="1.5" fill="#fefbb4"/><circle cx="388.8" cy="520.8" r="1.5" fill="#abdb9a"/><circle cx="386.1" cy="430.8" r="1.5" fill="#fefbb4"/><circle cx="410.6" cy="372.7" r="1.5" fill="#fefbb4"/><circle cx="319.3" cy="368.7" r="1.5" fill="#abdb9a"/><circle cx="445.2" cy="458.9" r="1.5" fill="#3f9ea2"/><circle cx="398.2" cy="417.4" r="1.5" fill="#3f9ea2"/><circle cx="314.7" cy="513.3" r="1.5" fill="#abdb9a"/><circle cx="394.2" cy="360.9" r="1.5" fill="#fefbb4"/><circle cx="303.1" cy="501.8" r="1.5" fill="#3f9ea2"/><circle cx="447.2" cy="434.3" r="1.5" fill="#fefbb4"/><circle cx="340.8" cy="448.5" r="1.5" fill="#3f9ea2"/><circle cx="310.1" cy="500.7" r="1.5" fill="#3f9ea2"/><circle cx="403.8" cy="381.2" r="1.5" fill="#3f9ea2"/><circle cx="396.5" cy="399.1" r="1.5" fill="#abdb9a"/><circle cx="442.8" cy="471.3" r="1.5" fill="#fbac5e"/><circle cx="406.4" cy="376.2" r="1.5" fill="#fefbb4"/><circle cx="376.5" cy="346.9" r="1.5" fill="#fbac5e"/><circle cx="368.0" cy="323.7" r="1.5" fill="#3f9ea2"/><circle cx="404.4" cy="247.0" r="1.5" fill="#fbac5e"/><circle cx="427.6" cy="220.2" r="1.5" fill="#e2503c"/><circle cx="413.0" cy="217.3" r="1.5" fill="#fbac5e"/><circle cx="429.1" cy="240.3" r="1.5" fill="#e2503c"/><circle cx="434.3" cy="245.7" r="1.5" fill="#fbac5e"/><circle cx="401.5" cy="348.6" r="1.5" fill="#abdb9a"/><circle cx="374.0" cy="526.1" r="1.5" fill="#fefbb4"/><circle cx="316.2" cy="466.7" r="1.5" fill="#fefbb4"/><circle cx="394.6" cy="527.3" r="1.5" fill="#fefbb4"/><circle cx="385.8" cy="439.2" r="1.5" fill="#3f9ea2"/><circle cx="421.1" cy="457.0" r="1.5" fill="#fefbb4"/><circle cx="386.3" cy="402.8" r="1.5" fill="#abdb9a"/><circle cx="393.0" cy="527.0" r="1.5" fill="#fefbb4"/><circle cx="446.6" cy="446.3" r="1.5" fill="#abdb9a"/><circle cx="336.8" cy="426.9" r="1.5" fill="#fefbb4"/><circle cx="378.8" cy="352.3" r="1.5" fill="#fbac5e"/><circle cx="421.4" cy="387.0" r="1.5" fill="#abdb9a"/><circle cx="388.1" cy="330.3" r="1.5" fill="#abdb9a"/><circle cx="426.7" cy="405.9" r="1.5" fill="#abdb9a"/><circle cx="433.5" cy="488.0" r="1.5" fill="#abdb9a"/><circle cx="315.3" cy="367.9" r="1.5" fill="#abdb9a"/><circle cx="426.0" cy="443.6" r="1.5" fill="#3f9ea2"/><circle cx="414.2" cy="368.9" r="1.5" fill="#fefbb4"/><circle cx="315.8" cy="363.7" r="1.5" fill="#fefbb4"/><circle cx="436.5" cy="429.5" r="1.5" fill="#fefbb4"/><circle cx="382.0" cy="534.9" r="1.5" fill="#fefbb4"/><circle cx="403.5" cy="417.7" r="1.5" fill="#fefbb4"/><circle cx="357.2" cy="425.5" r="1.5" fill="#abdb9a"/><circle cx="356.2" cy="352.1" r="1.5" fill="#fefbb4"/><circle cx="409.9" cy="348.1" r="1.5" fill="#3f9ea2"/><circle cx="409.1" cy="434.3" r="1.5" fill="#e2503c"/><circle cx="386.7" cy="463.6" r="1.4" fill="#fefbb4"/><circle cx="352.8" cy="456.8" r="1.4" fill="#3f9ea2"/><circle cx="409.1" cy="401.7" r="1.4" fill="#fbac5e"/><circle cx="347.3" cy="345.7" r="1.4" fill="#fefbb4"/><circle cx="424.7" cy="478.3" r="1.4" fill="#e2503c"/><circle cx="392.0" cy="351.3" r="1.4" fill="#abdb9a"/><circle cx="402.9" cy="381.0" r="1.4" fill="#3f9ea2"/><circle cx="173.3" cy="294.0" r="1.4" fill="#abdb9a"/><circle cx="193.0" cy="317.7" r="1.4" fill="#fefbb4"/><circle cx="249.7" cy="359.3" r="1.4" fill="#fefbb4"/><circle cx="246.6" cy="383.7" r="1.4" fill="#fefbb4"/><circle cx="413.8" cy="253.2" r="1.4" fill="#e2503c"/><circle cx="505.7" cy="269.0" r="1.4" fill="#3f9ea2"/><circle cx="447.3" cy="323.2" r="1.4" fill="#abdb9a"/><circle cx="437.8" cy="356.6" r="1.4" fill="#abdb9a"/><circle cx="428.5" cy="338.5" r="1.4" fill="#fbac5e"/><circle cx="432.9" cy="324.2" r="1.3" fill="#abdb9a"/><circle cx="445.0" cy="319.8" r="1.3" fill="#fefbb4"/><circle cx="430.9" cy="289.9" r="1.3" fill="#fefbb4"/><circle cx="504.2" cy="248.4" r="1.3" fill="#abdb9a"/><circle cx="456.3" cy="303.2" r="1.3" fill="#e2503c"/><circle cx="159.7" cy="274.4" r="1.3" fill="#fbac5e"/><circle cx="137.3" cy="284.4" r="1.3" fill="#fbac5e"/><circle cx="139.0" cy="298.7" r="1.3" fill="#e2503c"/><circle cx="149.0" cy="304.7" r="1.3" fill="#fbac5e"/><circle cx="167.7" cy="304.0" r="1.3" fill="#fbac5e"/><circle cx="168.3" cy="320.7" r="1.3" fill="#fbac5e"/><circle cx="161.7" cy="327.3" r="1.3" fill="#fbac5e"/><circle cx="290.7" cy="383.4" r="1.3" fill="#fbac5e"/><circle cx="416.2" cy="211.5" r="1.3" fill="#fbac5e"/><circle cx="438.8" cy="317.7" r="1.3" fill="#e2503c"/><circle cx="438.2" cy="251.4" r="1.3" fill="#fefbb4"/><circle cx="503.1" cy="261.9" r="1.3" fill="#fefbb4"/><circle cx="430.7" cy="223.3" r="1.3" fill="#fefbb4"/><circle cx="482.2" cy="292.3" r="1.2" fill="#fbac5e"/><circle cx="440.7" cy="227.9" r="1.2" fill="#3f9ea2"/><circle cx="434.9" cy="360.7" r="1.2" fill="#fefbb4"/><circle cx="426.1" cy="336.7" r="1.2" fill="#fefbb4"/><circle cx="442.1" cy="239.8" r="1.2" fill="#fbac5e"/><circle cx="421.9" cy="334.4" r="1.2" fill="#fefbb4"/><circle cx="454.9" cy="325.3" r="1.2" fill="#fbac5e"/><circle cx="132.3" cy="292.0" r="1.2" fill="#fbac5e"/><circle cx="462.7" cy="242.0" r="1.2" fill="#fbac5e"/><circle cx="458.9" cy="248.1" r="1.2" fill="#abdb9a"/></g>
<rect x="468.6" y="540.2" width="53.0" height="79.9" fill="#fff" stroke="#2a2a2a" stroke-width="1.1"/>
<clipPath id="insetclip"><rect x="468.6" y="540.2" width="53.0" height="79.9"/></clipPath>
<g clip-path="url(#insetclip)" stroke="#1a1a1a" stroke-width="0.7" stroke-linejoin="round">
<path d="M466,538 L512,538 L508.5,542.2 L502.9,545.9 L497.3,548.7 L489.9,550.5 L482.5,551.4 L481,555 L479,557 L477.5,554.5 L473.2,554.2 L466,552 Z" fill="#b3c9e0"/>
<path d="M479.3,538 L512,538 L508.5,542.2 L502.9,545.9 L497.3,548.7 L489.9,550.5 L482.5,551.4 L480,548 L481.5,545 Z" fill="#7e95b1"/>
<path d="M476,561 L479,558.9 L483,559.5 L483.4,562 L481,565 L477,566.3 L475,564.5 Z" fill="#a9c0da"/>
<path d="M515.5,541.2 L517.7,541.5 L517.2,546 L515.5,550.5 L513.5,549 L512.5,546 L513.5,542.5 Z" fill="#999" stroke="#333" stroke-width="0.5"/>
<line x1="512.6" y1="560.0" x2="511.8" y2="563.2" stroke-width="0.7"/>
<line x1="511.6" y1="572.8" x2="511.2" y2="576.5" stroke-width="0.7"/>
<line x1="479.0" y1="572.8" x2="478.6" y2="576.5" stroke-width="0.7"/>
<line x1="481.8" y1="586.5" x2="481.3" y2="589.0" stroke-width="0.7"/>
<line x1="511.5" y1="586.0" x2="510.9" y2="589.5" stroke-width="0.7"/>
<line x1="474.8" y1="604.8" x2="473.6" y2="607.4" stroke-width="0.7"/>
<line x1="504.0" y1="591.0" x2="506.5" y2="589.5" stroke-width="0.7"/>
</g>
<rect x="486.5" y="569.5" width="1.1" height="1.0" fill="#111"/>
<rect x="488.0" y="571.0" width="1.1" height="1.0" fill="#111"/>
<rect x="489.5" y="570.0" width="1.1" height="1.0" fill="#111"/>
<rect x="495.0" y="572.3" width="1.1" height="1.0" fill="#111"/>
<rect x="502.4" y="570.5" width="1.1" height="1.0" fill="#111"/>
<rect x="506.1" y="575.1" width="1.1" height="1.0" fill="#111"/>
<rect x="498.7" y="579.7" width="1.1" height="1.0" fill="#111"/>
<rect x="495.9" y="589.0" width="1.1" height="1.0" fill="#111"/>
<rect x="500.5" y="592.7" width="1.1" height="1.0" fill="#111"/>
<rect x="489.5" y="595.5" width="1.1" height="1.0" fill="#111"/>
<rect x="492.5" y="597.0" width="1.1" height="1.0" fill="#111"/>
<rect x="495.5" y="597.5" width="1.1" height="1.0" fill="#111"/>
<rect x="497.5" y="599.5" width="1.1" height="1.0" fill="#111"/>
<rect x="499.5" y="598.5" width="1.1" height="1.0" fill="#111"/>
<rect x="501.5" y="600.5" width="1.1" height="1.0" fill="#111"/>
<rect x="494.5" y="601.5" width="1.1" height="1.0" fill="#111"/>
<rect x="490.5" y="600.0" width="1.1" height="1.0" fill="#111"/>
<rect x="478.5" y="602.0" width="1.1" height="1.0" fill="#111"/>
<rect x="481.5" y="601.0" width="1.1" height="1.0" fill="#111"/>
<rect x="484.5" y="601.5" width="1.1" height="1.0" fill="#111"/>
<rect x="489.4" y="609.5" width="1.1" height="1.0" fill="#111"/>
<rect x="488.5" y="615.9" width="1.1" height="1.0" fill="#111"/>
<rect x="483.0" y="561.5" width="1.1" height="1.0" fill="#111"/>
<rect x="485.5" y="563.0" width="1.1" height="1.0" fill="#111"/>
<path d="M188.1,228.1 L196.4,223.5 L196.4,232.6 Z" fill="#eef3fa"/>
<rect x="196.4" y="223.5" width="32.9" height="9.1" fill="#eef3fa"/>
<rect x="229.0" y="223.5" width="32.8" height="9.1" fill="#c8dbed"/>
<rect x="261.5" y="223.5" width="32.8" height="9.1" fill="#a6c4df"/>
<rect x="294.0" y="223.5" width="32.5" height="9.1" fill="#86a6c6"/>
<rect x="326.2" y="223.5" width="33.7" height="9.1" fill="#4d6d91"/>
<path d="M359.6,223.5 L366.8,228.1 L359.6,232.6 Z" fill="#4d6d91"/>
<path d="M188.1,228.1 L196.4,223.5 L359.6,223.5 L366.8,228.1 L359.6,232.6 L196.4,232.6 Z" fill="none" stroke="#8a8a8a" stroke-width="0.7"/>
<text x="196.4" y="244.2" font-size="12.4" text-anchor="middle">20</text>
<text x="229.0" y="244.2" font-size="12.4" text-anchor="middle">50</text>
<text x="261.5" y="244.2" font-size="12.4" text-anchor="middle">100</text>
<text x="294.0" y="244.2" font-size="12.4" text-anchor="middle">200</text>
<text x="326.2" y="244.2" font-size="12.4" text-anchor="middle">400</text>
<text x="359.6" y="244.2" font-size="12.4" text-anchor="middle">800</text>
<text x="278" y="220.6" font-size="12.4" text-anchor="middle">Population density (#/km<tspan font-size="9" dy="-5">2</tspan><tspan dy="5">)</tspan></text>
<text x="76.2" y="509.4" font-size="12.3">Plant capacity(MW)</text>
<text x="194" y="509.4" font-size="12.3">Age</text>
<circle cx="75.6" cy="526.2" r="0.9" fill="#222"/>
<text x="120.3" y="528.8" font-size="12.3" text-anchor="middle">&lt;100</text>
<circle cx="194.3" cy="526.2" r="3.3" fill="#3f9ea2" stroke="#333" stroke-width="0.7"/>
<text x="223.6" y="528.8" font-size="12.3" text-anchor="middle">&lt;5</text>
<circle cx="75.6" cy="546.4" r="1.25" fill="#fff" stroke="#333" stroke-width="0.8"/>
<text x="120.3" y="549.0" font-size="12.3" text-anchor="middle">100~600</text>
<circle cx="194.3" cy="546.4" r="3.3" fill="#abdb9a" stroke="#333" stroke-width="0.7"/>
<text x="223.6" y="549.0" font-size="12.3" text-anchor="middle">5~10</text>
<circle cx="75.6" cy="566.6" r="1.75" fill="#fff" stroke="#333" stroke-width="0.8"/>
<text x="120.3" y="569.2" font-size="12.3" text-anchor="middle">600~1200</text>
<circle cx="194.3" cy="566.6" r="3.3" fill="#fefbb4" stroke="#333" stroke-width="0.7"/>
<text x="223.6" y="569.2" font-size="12.3" text-anchor="middle">10~20</text>
<circle cx="75.6" cy="586.8" r="2.25" fill="#fff" stroke="#333" stroke-width="0.8"/>
<text x="120.3" y="589.4" font-size="12.3" text-anchor="middle">1200~1800</text>
<circle cx="194.3" cy="586.8" r="3.3" fill="#fbac5e" stroke="#333" stroke-width="0.7"/>
<text x="223.6" y="589.4" font-size="12.3" text-anchor="middle">20~30</text>
<circle cx="75.6" cy="607.0" r="4.50" fill="#fff" stroke="#333" stroke-width="0.8"/>
<text x="120.3" y="609.6" font-size="12.3" text-anchor="middle">≥1800</text>
<circle cx="194.3" cy="607.0" r="3.3" fill="#e2503c" stroke="#333" stroke-width="0.7"/>
<text x="223.6" y="609.6" font-size="12.3" text-anchor="middle">≥30</text>
<text x="51.2" y="315.3" font-size="12.4" text-anchor="end">40°N</text>
<text x="51.2" y="430.8" font-size="12.4" text-anchor="end">30°N</text>
<text x="51.2" y="543.0" font-size="12.4" text-anchor="end">20°N</text>
<text x="58.8" y="639.6" font-size="12.4" text-anchor="middle">80°E</text>
<text x="160.5" y="639.6" font-size="12.4" text-anchor="middle">90°E</text>
<text x="262.5" y="639.6" font-size="12.4" text-anchor="middle">100°E</text>
<text x="357.4" y="639.6" font-size="12.4" text-anchor="middle">110°E</text>
<text x="457.7" y="639.6" font-size="12.4" text-anchor="middle">120°E</text>
<text x="-1.5" y="200.2" font-size="33.5" font-weight="bold">a</text>
<rect x="54.8" y="205.2" width="475.1" height="421.4" fill="none" stroke="#666" stroke-width="1.5"/>
<clipPath id="clipb"><path d="M629.5,240.4 L629.5,240.4 L631.9,239.5 L634.3,238.6 L636.7,237.8 L639.1,236.9 L641.5,236.2 L643.9,235.4 L646.3,234.7 L648.7,234.0 L651.1,233.4 L653.5,232.7 L655.9,232.2 L658.3,231.6 L660.7,231.1 L663.1,230.5 L665.5,230.1 L667.9,229.7 L670.3,229.3 L672.7,228.8 L675.1,228.2 L677.5,227.6 L679.9,226.9 L682.3,226.3 L684.7,225.6 L687.1,225.0 L689.5,224.3 L691.9,223.7 L694.3,223.0 L696.7,222.3 L699.1,221.7 L701.5,221.0 L703.9,220.3 L706.2,219.7 L708.6,219.0 L711.0,218.3 L713.4,217.6 L715.8,216.9 L718.2,216.2 L720.6,215.5 L723.0,214.8 L725.4,214.1 L727.8,213.4 L730.2,212.7 L732.6,212.0 L735.0,211.3 L737.4,210.5 L739.8,209.8 L742.2,209.1 L744.6,208.3 L747.0,207.6 L749.4,206.9 L751.8,206.1 L754.2,205.4 L756.6,204.6 L759.0,203.9 L761.4,203.1 L763.8,202.3 L766.2,201.6 L768.6,200.8 L771.0,200.0 L773.4,199.3 L775.8,198.5 L778.2,197.7 L780.6,196.9 L783.0,196.1 L785.4,195.4 L787.8,194.6 L790.2,193.8 L792.6,193.0 L795.0,192.2 L797.4,191.4 L799.8,190.6 L802.2,189.7 L804.6,188.9 L807.0,188.1 L809.4,187.3 L811.8,186.5 L814.2,185.6 L816.6,184.8 L819.0,184.0 L821.4,183.1 L823.8,182.3 L826.2,181.5 L828.6,180.6 L831.0,179.8 L833.4,178.9 L835.8,178.1 L838.2,177.2 L840.6,176.4 L843.0,175.5 L845.4,174.6 L847.8,173.8 L850.2,172.9 L852.6,172.0 L854.9,171.1 L857.3,170.3 L859.7,169.4 L862.1,168.5 L864.5,167.6 L866.9,166.7 L869.3,165.8 L871.7,164.9 L874.1,164.1 L876.5,163.2 L878.9,162.3 L881.3,161.3 L883.7,160.4 L886.1,159.5 L888.5,158.6 L890.9,157.7 L893.3,156.8 L895.7,155.9 L898.1,155.0 L900.5,154.0 L902.9,153.1 L905.3,152.2 L907.7,151.2 L910.1,150.3 L912.5,149.4 L914.9,148.4 L917.3,147.5 L919.7,146.6 L922.1,145.6 L924.5,144.7 L926.9,143.7 L929.3,142.8 L931.7,141.8 L934.1,140.9 L936.5,139.9 L938.9,138.9 L941.3,138.0 L943.7,137.0 L946.1,136.0 L948.5,135.1 L950.9,134.1 L953.3,133.1 L955.7,132.2 L958.1,131.2 L960.5,130.2 L962.9,129.2 L965.3,128.2 L967.7,127.3 L970.1,126.3 L972.5,125.3 L974.9,124.3 L977.3,123.3 L979.7,122.3 L982.1,121.3 L984.5,120.3 L986.9,119.3 L989.3,118.3 L991.7,117.3 L994.1,116.3 L996.5,115.3 L998.9,114.3 L1001.3,113.3 L1003.7,112.3 L1006.0,111.2 L1008.4,110.2 L1010.8,109.2 L1013.2,108.2 L1015.6,107.2 L1018.0,106.2 L1020.4,105.1 L1022.8,104.1 L1025.2,103.1 L1027.6,102.0 L1030.0,101.0 L1032.4,100.0 L1034.8,99.0 L1037.2,97.9 L1039.6,96.9 L1042.0,95.8 L1044.4,94.8 L1046.8,93.8 L1049.2,92.7 L1051.6,91.7 L1054.0,90.6 L1056.4,89.6 L1058.8,88.5 L1061.2,87.5 L1063.6,86.4 L1066.0,85.4 L1068.4,84.3 L1070.8,83.3 L1073.2,82.2 L1075.6,81.2 L1078.0,80.1 L1080.4,79.1 L1082.8,78.0 L1085.2,76.9 L1087.6,75.9 L1090.0,74.8 L1092.4,73.7 L1094.8,72.7 L1097.2,71.6 L1099.6,70.5 L1102.0,69.5 L1104.4,68.4 L1106.8,67.3 L1109.2,66.3 L1111.6,65.2 L1114.0,64.1 L1116.4,63.0 L1118.8,62.0 L1121.2,60.9 L1123.6,59.8 L1126.0,58.7 L1128.4,57.6 L1130.8,56.6 L1133.2,55.5 L1135.6,54.4 L1138.0,53.3 L1140.4,52.2 L1142.8,51.1 L1145.2,50.1 L1147.6,49.0 L1150.0,47.9 L1152.4,46.8 L1154.7,45.7 L1157.1,44.6 L1159.5,43.5 L1161.9,42.4 L1164.3,41.3 L1166.7,40.2 L1169.1,39.2 L1171.5,38.1 L1173.9,37.0 L1176.3,35.9 L1178.7,34.8 L1181.1,33.7 L1183.5,32.6 L1185.5,31.7 L1185.8,31.5 L1186.1,31.4 L1186.4,31.3 L1186.7,31.1 L1187.0,31.0 L1187.3,30.9 L1187.6,30.7 L1187.9,30.6 L1188.2,30.4 L1188.5,30.3 L1188.8,30.2 L1189.1,30.0 L1189.4,29.9 L1189.7,29.8 L1190.0,29.6 L1190.3,29.5 L1190.6,29.3 L1190.9,29.2 L1191.2,29.1 L1191.5,28.9 L1191.8,28.8 L1192.1,28.7 L1192.4,28.5 L1192.7,28.4 L1193.0,28.3 L1193.3,28.1 L1193.6,28.0 L1193.9,27.8 L1194.2,27.7 L1194.5,27.6 L1194.8,27.4 L1195.1,27.3 L1195.4,27.2 L1195.7,27.0 L1196.0,26.9 L1196.3,26.7 L1196.6,26.6 L1196.9,26.5 L1197.2,26.3 L1197.5,26.3 L1197.5,240.4 Z"/></clipPath>
<g clip-path="url(#clipb)"><path fill="#5a82b9" d="M629 19.4h12v221h-12zM643 19.4h1v221h-1zM653 19.4h1v221h-1zM655 19.4h1v221h-1z"/><path fill="#7dafd7" d="M641 19.4h2v221h-2zM644 19.4h1v221h-1zM646 19.4h2v221h-2zM649 19.4h1v221h-1zM652 19.4h1v221h-1zM658 19.4h1v221h-1zM660 19.4h1v221h-1zM663 19.4h1v221h-1zM675 19.4h4v221h-4z"/><path fill="#699bc8" d="M645 19.4h1v221h-1zM651 19.4h1v221h-1z"/><path fill="#73a0cd" d="M648 19.4h1v221h-1zM650 19.4h1v221h-1z"/><path fill="#6491c3" d="M654 19.4h1v221h-1z"/><path fill="#afdcf0" d="M656 19.4h2v221h-2zM659 19.4h1v221h-1zM662 19.4h1v221h-1zM664 19.4h11v221h-11zM682 19.4h1v221h-1zM686 19.4h1v221h-1zM688 19.4h4v221h-4zM695 19.4h1v221h-1zM698 19.4h1v221h-1zM710 19.4h1v221h-1zM720 19.4h1v221h-1zM813 19.4h2v221h-2zM817 19.4h2v221h-2zM901 19.4h1v221h-1z"/><path fill="#fadc96" d="M661 19.4h1v221h-1zM679 19.4h1v221h-1zM683 19.4h1v221h-1zM685 19.4h1v221h-1zM692 19.4h3v221h-3zM696 19.4h2v221h-2zM700 19.4h10v221h-10zM711 19.4h1v221h-1zM713 19.4h7v221h-7zM721 19.4h15v221h-15zM737 19.4h1v221h-1zM740 19.4h12v221h-12zM755 19.4h1v221h-1zM757 19.4h13v221h-13zM773 19.4h3v221h-3zM778 19.4h21v221h-21zM802 19.4h11v221h-11zM816 19.4h1v221h-1zM819 19.4h3v221h-3zM832 19.4h20v221h-20zM853 19.4h3v221h-3zM862 19.4h1v221h-1zM878 19.4h2v221h-2zM882 19.4h2v221h-2zM890 19.4h1v221h-1zM902 19.4h3v221h-3zM912 19.4h2v221h-2zM942 19.4h2v221h-2zM950 19.4h3v221h-3zM956 19.4h3v221h-3zM968 19.4h1v221h-1zM978 19.4h1v221h-1zM992 19.4h3v221h-3zM1025 19.4h1v221h-1zM1052 19.4h1v221h-1zM1128 19.4h3v221h-3zM1152 19.4h3v221h-3zM1156 19.4h2v221h-2zM1164 19.4h6v221h-6zM1186 19.4h7v221h-7z"/><path fill="#96b9c8" d="M680 19.4h1v221h-1zM687 19.4h1v221h-1z"/><path fill="#ebdcaa" d="M681 19.4h1v221h-1zM739 19.4h1v221h-1z"/><path fill="#cddcd2" d="M684 19.4h1v221h-1zM756 19.4h1v221h-1z"/><path fill="#a5d2eb" d="M699 19.4h1v221h-1z"/><path fill="#fad791" d="M712 19.4h1v221h-1zM946 19.4h2v221h-2zM972 19.4h6v221h-6zM1006 19.4h2v221h-2zM1107 19.4h1v221h-1zM1174 19.4h1v221h-1z"/><path fill="#e1dcb9" d="M736 19.4h1v221h-1zM738 19.4h1v221h-1z"/><path fill="#d2cdaf" d="M752 19.4h3v221h-3z"/><path fill="#d7dcc3" d="M770 19.4h2v221h-2z"/><path fill="#e1d7a5" d="M772 19.4h1v221h-1z"/><path fill="#aabebe" d="M776 19.4h2v221h-2z"/><path fill="#fac37d" d="M799 19.4h3v221h-3zM822 19.4h6v221h-6zM988 19.4h2v221h-2zM1053 19.4h3v221h-3z"/><path fill="#facd87" d="M815 19.4h1v221h-1zM1058 19.4h2v221h-2zM1163 19.4h1v221h-1z"/><path fill="#fac882" d="M828 19.4h4v221h-4zM996 19.4h7v221h-7zM1014 19.4h1v221h-1zM1090 19.4h3v221h-3zM1096 19.4h6v221h-6zM1117 19.4h2v221h-2z"/><path fill="#fab46e" d="M852 19.4h1v221h-1zM856 19.4h6v221h-6zM863 19.4h12v221h-12zM877 19.4h1v221h-1zM880 19.4h2v221h-2zM884 19.4h6v221h-6zM891 19.4h10v221h-10zM905 19.4h2v221h-2zM909 19.4h3v221h-3zM914 19.4h28v221h-28zM944 19.4h2v221h-2zM948 19.4h2v221h-2zM953 19.4h3v221h-3zM959 19.4h9v221h-9zM969 19.4h3v221h-3zM979 19.4h7v221h-7zM990 19.4h2v221h-2zM995 19.4h1v221h-1zM1008 19.4h6v221h-6zM1015 19.4h10v221h-10zM1026 19.4h26v221h-26zM1056 19.4h2v221h-2zM1060 19.4h30v221h-30zM1093 19.4h3v221h-3zM1102 19.4h5v221h-5zM1108 19.4h9v221h-9zM1119 19.4h9v221h-9zM1131 19.4h21v221h-21zM1155 19.4h1v221h-1zM1158 19.4h5v221h-5zM1170 19.4h3v221h-3zM1175 19.4h11v221h-11zM1193 19.4h5v221h-5z"/><path fill="#fabe78" d="M875 19.4h2v221h-2zM986 19.4h2v221h-2zM1003 19.4h3v221h-3zM1173 19.4h1v221h-1z"/><path fill="#e1c39b" d="M907 19.4h2v221h-2z"/></g>
<polyline fill="none" stroke="#000" stroke-width="1.6" points="629.5,240.4 631.9,239.5 634.3,238.6 636.7,237.8 639.1,236.9 641.5,236.2 643.9,235.4 646.3,234.7 648.7,234.0 651.1,233.4 653.5,232.7 655.9,232.2 658.3,231.6 660.7,231.1 663.1,230.5 665.5,230.1 667.9,229.7 670.3,229.3 672.7,228.8 675.1,228.2 677.5,227.6 679.9,226.9 682.3,226.3 684.7,225.6 687.1,225.0 689.5,224.3 691.9,223.7 694.3,223.0 696.7,222.3 699.1,221.7 701.5,221.0 703.9,220.3 706.2,219.7 708.6,219.0 711.0,218.3 713.4,217.6 715.8,216.9 718.2,216.2 720.6,215.5 723.0,214.8 725.4,214.1 727.8,213.4 730.2,212.7 732.6,212.0 735.0,211.3 737.4,210.5 739.8,209.8 742.2,209.1 744.6,208.3 747.0,207.6 749.4,206.9 751.8,206.1 754.2,205.4 756.6,204.6 759.0,203.9 761.4,203.1 763.8,202.3 766.2,201.6 768.6,200.8 771.0,200.0 773.4,199.3 775.8,198.5 778.2,197.7 780.6,196.9 783.0,196.1 785.4,195.4 787.8,194.6 790.2,193.8 792.6,193.0 795.0,192.2 797.4,191.4 799.8,190.6 802.2,189.7 804.6,188.9 807.0,188.1 809.4,187.3 811.8,186.5 814.2,185.6 816.6,184.8 819.0,184.0 821.4,183.1 823.8,182.3 826.2,181.5 828.6,180.6 831.0,179.8 833.4,178.9 835.8,178.1 838.2,177.2 840.6,176.4 843.0,175.5 845.4,174.6 847.8,173.8 850.2,172.9 852.6,172.0 854.9,171.1 857.3,170.3 859.7,169.4 862.1,168.5 864.5,167.6 866.9,166.7 869.3,165.8 871.7,164.9 874.1,164.1 876.5,163.2 878.9,162.3 881.3,161.3 883.7,160.4 886.1,159.5 888.5,158.6 890.9,157.7 893.3,156.8 895.7,155.9 898.1,155.0 900.5,154.0 902.9,153.1 905.3,152.2 907.7,151.2 910.1,150.3 912.5,149.4 914.9,148.4 917.3,147.5 919.7,146.6 922.1,145.6 924.5,144.7 926.9,143.7 929.3,142.8 931.7,141.8 934.1,140.9 936.5,139.9 938.9,138.9 941.3,138.0 943.7,137.0 946.1,136.0 948.5,135.1 950.9,134.1 953.3,133.1 955.7,132.2 958.1,131.2 960.5,130.2 962.9,129.2 965.3,128.2 967.7,127.3 970.1,126.3 972.5,125.3 974.9,124.3 977.3,123.3 979.7,122.3 982.1,121.3 984.5,120.3 986.9,119.3 989.3,118.3 991.7,117.3 994.1,116.3 996.5,115.3 998.9,114.3 1001.3,113.3 1003.7,112.3 1006.0,111.2 1008.4,110.2 1010.8,109.2 1013.2,108.2 1015.6,107.2 1018.0,106.2 1020.4,105.1 1022.8,104.1 1025.2,103.1 1027.6,102.0 1030.0,101.0 1032.4,100.0 1034.8,99.0 1037.2,97.9 1039.6,96.9 1042.0,95.8 1044.4,94.8 1046.8,93.8 1049.2,92.7 1051.6,91.7 1054.0,90.6 1056.4,89.6 1058.8,88.5 1061.2,87.5 1063.6,86.4 1066.0,85.4 1068.4,84.3 1070.8,83.3 1073.2,82.2 1075.6,81.2 1078.0,80.1 1080.4,79.1 1082.8,78.0 1085.2,76.9 1087.6,75.9 1090.0,74.8 1092.4,73.7 1094.8,72.7 1097.2,71.6 1099.6,70.5 1102.0,69.5 1104.4,68.4 1106.8,67.3 1109.2,66.3 1111.6,65.2 1114.0,64.1 1116.4,63.0 1118.8,62.0 1121.2,60.9 1123.6,59.8 1126.0,58.7 1128.4,57.6 1130.8,56.6 1133.2,55.5 1135.6,54.4 1138.0,53.3 1140.4,52.2 1142.8,51.1 1145.2,50.1 1147.6,49.0 1150.0,47.9 1152.4,46.8 1154.7,45.7 1157.1,44.6 1159.5,43.5 1161.9,42.4 1164.3,41.3 1166.7,40.2 1169.1,39.2 1171.5,38.1 1173.9,37.0 1176.3,35.9 1178.7,34.8 1181.1,33.7 1183.5,32.6 1185.5,31.7 1185.8,31.5 1186.1,31.4 1186.4,31.3 1186.7,31.1 1187.0,31.0 1187.3,30.9 1187.6,30.7 1187.9,30.6 1188.2,30.4 1188.5,30.3 1188.8,30.2 1189.1,30.0 1189.4,29.9 1189.7,29.8 1190.0,29.6 1190.3,29.5 1190.6,29.3 1190.9,29.2 1191.2,29.1 1191.5,28.9 1191.8,28.8 1192.1,28.7 1192.4,28.5 1192.7,28.4 1193.0,28.3 1193.3,28.1 1193.6,28.0 1193.9,27.8 1194.2,27.7 1194.5,27.6 1194.8,27.4 1195.1,27.3 1195.4,27.2 1195.7,27.0 1196.0,26.9 1196.3,26.7 1196.6,26.6 1196.9,26.5 1197.2,26.3 1197.5,26.3"/>
<line x1="629.5" y1="78.80" x2="1197.5" y2="78.80" stroke="#f00" stroke-width="2" stroke-dasharray="7 3.7"/>
<text x="630" y="76.70" font-size="13.9" fill="#f00">75%</text>
<line x1="629.5" y1="132.70" x2="1197.5" y2="132.70" stroke="#f00" stroke-width="2" stroke-dasharray="7 3.7"/>
<text x="630" y="130.60" font-size="13.9" fill="#f00">50%</text>
<rect x="629.5" y="19.4" width="568.0" height="221.0" fill="none" stroke="#2a2a2a" stroke-width="1"/>
<line x1="623.5" y1="240.40" x2="629.5" y2="240.40" stroke="#2a2a2a" stroke-width="1"/>
<text x="621.5" y="245.40" font-size="14" text-anchor="end">0</text>
<line x1="623.5" y1="166.73" x2="629.5" y2="166.73" stroke="#2a2a2a" stroke-width="1"/>
<text x="621.5" y="171.73" font-size="14" text-anchor="end">40</text>
<line x1="623.5" y1="93.07" x2="629.5" y2="93.07" stroke="#2a2a2a" stroke-width="1"/>
<text x="621.5" y="98.07" font-size="14" text-anchor="end">80</text>
<line x1="623.5" y1="19.40" x2="629.5" y2="19.40" stroke="#2a2a2a" stroke-width="1"/>
<text x="621.5" y="24.40" font-size="14" text-anchor="end">120</text>
<line x1="629.50" y1="240.4" x2="629.50" y2="246.9" stroke="#2a2a2a" stroke-width="1"/>
<text x="629.50" y="258.40" font-size="14" text-anchor="middle">0</text>
<line x1="749.42" y1="240.4" x2="749.42" y2="246.9" stroke="#2a2a2a" stroke-width="1"/>
<text x="749.42" y="258.40" font-size="14" text-anchor="middle">200</text>
<line x1="869.34" y1="240.4" x2="869.34" y2="246.9" stroke="#2a2a2a" stroke-width="1"/>
<text x="869.34" y="258.40" font-size="14" text-anchor="middle">400</text>
<line x1="989.26" y1="240.4" x2="989.26" y2="246.9" stroke="#2a2a2a" stroke-width="1"/>
<text x="989.26" y="258.40" font-size="14" text-anchor="middle">600</text>
<line x1="1109.18" y1="240.4" x2="1109.18" y2="246.9" stroke="#2a2a2a" stroke-width="1"/>
<text x="1109.18" y="258.40" font-size="14" text-anchor="middle">800</text>
<text transform="translate(595.4,129.90) rotate(-90)" font-size="13.7" text-anchor="middle">Cumulative remaining assets (trillion RMB)</text>
<clipPath id="clipc"><path d="M629.5,505.9 L629.5,505.9 L631.9,505.9 L634.3,505.8 L636.7,505.8 L639.1,505.7 L641.5,505.6 L643.9,505.5 L646.3,505.4 L648.7,505.2 L651.1,505.1 L653.5,504.9 L655.9,504.7 L658.3,504.5 L660.7,504.2 L663.1,504.0 L665.5,503.7 L667.9,503.4 L670.3,503.1 L672.7,502.8 L675.1,502.4 L677.5,502.1 L679.9,501.8 L682.3,501.5 L684.7,501.1 L687.1,500.8 L689.5,500.4 L691.9,500.0 L694.3,499.6 L696.7,499.1 L699.1,498.7 L701.5,498.2 L703.9,497.8 L706.2,497.3 L708.6,496.9 L711.0,496.4 L713.4,496.0 L715.8,495.5 L718.2,495.0 L720.6,494.6 L723.0,494.1 L725.4,493.6 L727.8,493.1 L730.2,492.6 L732.6,492.1 L735.0,491.6 L737.4,491.0 L739.8,490.5 L742.2,490.0 L744.6,489.5 L747.0,488.9 L749.4,488.4 L751.8,487.8 L754.2,487.3 L756.6,486.7 L759.0,486.2 L761.4,485.6 L763.8,485.0 L766.2,484.4 L768.6,483.8 L771.0,483.2 L773.4,482.6 L775.8,482.0 L778.2,481.4 L780.6,480.8 L783.0,480.1 L785.4,479.5 L787.8,478.9 L790.2,478.2 L792.6,477.5 L795.0,476.9 L797.4,476.2 L799.8,475.5 L802.2,474.8 L804.6,474.1 L807.0,473.5 L809.4,472.8 L811.8,472.1 L814.2,471.4 L816.6,470.7 L819.0,470.0 L821.4,469.3 L823.8,468.5 L826.2,467.8 L828.6,467.1 L831.0,466.4 L833.4,465.7 L835.8,465.0 L838.2,464.3 L840.6,463.6 L843.0,462.9 L845.4,462.1 L847.8,461.4 L850.2,460.7 L852.6,460.0 L854.9,459.2 L857.3,458.5 L859.7,457.8 L862.1,457.0 L864.5,456.3 L866.9,455.5 L869.3,454.8 L871.7,454.0 L874.1,453.3 L876.5,452.6 L878.9,451.8 L881.3,451.1 L883.7,450.3 L886.1,449.5 L888.5,448.8 L890.9,448.0 L893.3,447.3 L895.7,446.5 L898.1,445.8 L900.5,445.0 L902.9,444.2 L905.3,443.5 L907.7,442.7 L910.1,441.9 L912.5,441.1 L914.9,440.4 L917.3,439.6 L919.7,438.8 L922.1,438.0 L924.5,437.2 L926.9,436.4 L929.3,435.6 L931.7,434.8 L934.1,434.0 L936.5,433.2 L938.9,432.4 L941.3,431.6 L943.7,430.7 L946.1,429.9 L948.5,429.1 L950.9,428.3 L953.3,427.4 L955.7,426.6 L958.1,425.7 L960.5,424.9 L962.9,424.1 L965.3,423.2 L967.7,422.4 L970.1,421.5 L972.5,420.6 L974.9,419.8 L977.3,418.9 L979.7,418.0 L982.1,417.1 L984.5,416.3 L986.9,415.4 L989.3,414.5 L991.7,413.6 L994.1,412.7 L996.5,411.8 L998.9,410.9 L1001.3,410.0 L1003.7,409.1 L1006.0,408.2 L1008.4,407.2 L1010.8,406.3 L1013.2,405.4 L1015.6,404.4 L1018.0,403.5 L1020.4,402.5 L1022.8,401.6 L1025.2,400.6 L1027.6,399.7 L1030.0,398.7 L1032.4,397.7 L1034.8,396.8 L1037.2,395.8 L1039.6,394.8 L1042.0,393.8 L1044.4,392.8 L1046.8,391.8 L1049.2,390.8 L1051.6,389.8 L1054.0,388.8 L1056.4,387.8 L1058.8,386.8 L1061.2,385.8 L1063.6,384.8 L1066.0,383.8 L1068.4,382.8 L1070.8,381.7 L1073.2,380.7 L1075.6,379.7 L1078.0,378.7 L1080.4,377.6 L1082.8,376.6 L1085.2,375.5 L1087.6,374.5 L1090.0,373.4 L1092.4,372.4 L1094.8,371.3 L1097.2,370.2 L1099.6,369.1 L1102.0,368.0 L1104.4,367.0 L1106.8,365.9 L1109.2,364.8 L1111.6,363.7 L1114.0,362.6 L1116.4,361.5 L1118.8,360.4 L1121.2,359.3 L1123.6,358.3 L1126.0,357.2 L1128.4,356.2 L1130.8,355.1 L1133.2,354.1 L1135.6,353.0 L1138.0,351.9 L1140.4,350.8 L1142.8,349.7 L1145.2,348.5 L1147.6,347.3 L1150.0,346.0 L1152.4,344.7 L1154.7,343.4 L1157.1,342.0 L1159.5,340.7 L1161.9,339.2 L1164.3,337.8 L1166.7,336.3 L1169.1,334.7 L1171.5,333.2 L1173.9,331.6 L1176.3,329.9 L1178.7,328.2 L1181.1,326.4 L1183.5,324.6 L1185.5,323.0 L1185.8,322.8 L1186.1,322.5 L1186.4,322.3 L1186.7,322.0 L1187.0,321.8 L1187.3,321.5 L1187.6,321.3 L1187.9,321.0 L1188.2,320.8 L1188.5,320.6 L1188.8,320.3 L1189.1,320.1 L1189.4,319.9 L1189.7,319.6 L1190.0,319.4 L1190.3,319.2 L1190.6,319.0 L1190.9,318.7 L1191.2,318.5 L1191.5,318.3 L1191.8,318.1 L1192.1,317.8 L1192.4,317.6 L1192.7,317.3 L1193.0,317.0 L1193.3,316.8 L1193.6,316.5 L1193.9,316.2 L1194.2,315.8 L1194.5,315.5 L1194.8,315.2 L1195.1,314.8 L1195.4,314.4 L1195.7,313.9 L1196.0,313.4 L1196.3,312.8 L1196.6,312.1 L1196.9,311.5 L1197.2,310.8 L1197.5,310.5 L1197.5,505.9 Z"/></clipPath>
<g clip-path="url(#clipc)"><path fill="#9ca2a8" d="M629 284.9h1v221h-1zM905 284.9h1v221h-1zM936 284.9h1v221h-1zM1008 284.9h1v221h-1zM1145 284.9h1v221h-1zM1194 284.9h1v221h-1z"/><path fill="#bac0ba" d="M630 284.9h1v221h-1zM656 284.9h2v221h-2zM691 284.9h1v221h-1zM702 284.9h1v221h-1zM723 284.9h1v221h-1zM736 284.9h1v221h-1zM738 284.9h1v221h-1zM750 284.9h1v221h-1zM832 284.9h1v221h-1zM855 284.9h1v221h-1zM857 284.9h1v221h-1zM864 284.9h1v221h-1zM882 284.9h1v221h-1zM888 284.9h1v221h-1zM897 284.9h1v221h-1zM903 284.9h1v221h-1zM910 284.9h1v221h-1zM919 284.9h1v221h-1zM949 284.9h1v221h-1zM983 284.9h1v221h-1zM1019 284.9h1v221h-1zM1028 284.9h1v221h-1zM1065 284.9h1v221h-1zM1069 284.9h1v221h-1zM1072 284.9h1v221h-1zM1079 284.9h1v221h-1zM1116 284.9h1v221h-1zM1124 284.9h2v221h-2zM1127 284.9h1v221h-1zM1132 284.9h1v221h-1zM1140 284.9h1v221h-1zM1152 284.9h1v221h-1zM1157 284.9h1v221h-1zM1160 284.9h1v221h-1zM1173 284.9h1v221h-1z"/><path fill="#ccccc6" d="M631 284.9h1v221h-1zM644 284.9h1v221h-1zM684 284.9h1v221h-1zM739 284.9h1v221h-1zM748 284.9h1v221h-1zM771 284.9h1v221h-1zM819 284.9h1v221h-1zM937 284.9h1v221h-1zM1073 284.9h1v221h-1zM1122 284.9h1v221h-1zM1182 284.9h1v221h-1z"/><path fill="#e4cca8" d="M632 284.9h1v221h-1zM649 284.9h1v221h-1zM662 284.9h1v221h-1zM669 284.9h1v221h-1zM704 284.9h1v221h-1zM709 284.9h1v221h-1zM722 284.9h1v221h-1zM724 284.9h1v221h-1zM740 284.9h1v221h-1zM749 284.9h1v221h-1zM758 284.9h1v221h-1zM761 284.9h1v221h-1zM783 284.9h1v221h-1zM794 284.9h1v221h-1zM826 284.9h1v221h-1zM834 284.9h2v221h-2zM865 284.9h1v221h-1zM924 284.9h1v221h-1zM934 284.9h1v221h-1zM943 284.9h1v221h-1zM952 284.9h1v221h-1zM961 284.9h1v221h-1zM964 284.9h1v221h-1zM974 284.9h1v221h-1zM988 284.9h1v221h-1zM998 284.9h1v221h-1zM1001 284.9h1v221h-1zM1118 284.9h1v221h-1zM1123 284.9h1v221h-1zM1134 284.9h1v221h-1zM1156 284.9h1v221h-1zM1172 284.9h1v221h-1zM1181 284.9h1v221h-1z"/><path fill="#e4deb4" d="M633 284.9h1v221h-1zM653 284.9h1v221h-1zM745 284.9h1v221h-1zM822 284.9h1v221h-1zM858 284.9h1v221h-1zM867 284.9h1v221h-1zM915 284.9h1v221h-1zM958 284.9h1v221h-1zM984 284.9h1v221h-1zM1011 284.9h1v221h-1zM1071 284.9h1v221h-1zM1112 284.9h1v221h-1zM1119 284.9h1v221h-1zM1185 284.9h1v221h-1z"/><path fill="#9caeba" d="M634 284.9h1v221h-1zM681 284.9h1v221h-1zM930 284.9h1v221h-1zM1155 284.9h1v221h-1zM1171 284.9h1v221h-1z"/><path fill="#fcc07e" d="M635 284.9h2v221h-2zM638 284.9h2v221h-2zM654 284.9h1v221h-1zM666 284.9h1v221h-1zM676 284.9h1v221h-1zM678 284.9h1v221h-1zM680 284.9h1v221h-1zM685 284.9h1v221h-1zM693 284.9h1v221h-1zM697 284.9h1v221h-1zM699 284.9h1v221h-1zM703 284.9h1v221h-1zM713 284.9h1v221h-1zM719 284.9h1v221h-1zM741 284.9h1v221h-1zM746 284.9h2v221h-2zM751 284.9h2v221h-2zM762 284.9h1v221h-1zM765 284.9h1v221h-1zM770 284.9h1v221h-1zM785 284.9h1v221h-1zM789 284.9h1v221h-1zM808 284.9h1v221h-1zM811 284.9h1v221h-1zM817 284.9h1v221h-1zM823 284.9h1v221h-1zM831 284.9h1v221h-1zM837 284.9h1v221h-1zM840 284.9h2v221h-2zM843 284.9h1v221h-1zM846 284.9h1v221h-1zM852 284.9h2v221h-2zM862 284.9h2v221h-2zM866 284.9h1v221h-1zM869 284.9h1v221h-1zM873 284.9h2v221h-2zM891 284.9h2v221h-2zM901 284.9h2v221h-2zM922 284.9h1v221h-1zM926 284.9h1v221h-1zM928 284.9h1v221h-1zM932 284.9h1v221h-1zM938 284.9h1v221h-1zM940 284.9h1v221h-1zM951 284.9h1v221h-1zM965 284.9h1v221h-1zM976 284.9h1v221h-1zM978 284.9h1v221h-1zM980 284.9h1v221h-1zM986 284.9h1v221h-1zM989 284.9h1v221h-1zM1006 284.9h1v221h-1zM1018 284.9h1v221h-1zM1027 284.9h1v221h-1zM1036 284.9h1v221h-1zM1042 284.9h1v221h-1zM1048 284.9h1v221h-1zM1057 284.9h1v221h-1zM1075 284.9h1v221h-1zM1097 284.9h1v221h-1zM1100 284.9h1v221h-1zM1117 284.9h1v221h-1zM1120 284.9h1v221h-1zM1148 284.9h1v221h-1zM1153 284.9h1v221h-1zM1162 284.9h1v221h-1z"/><path fill="#d2ccae" d="M637 284.9h1v221h-1zM648 284.9h1v221h-1zM695 284.9h1v221h-1zM714 284.9h1v221h-1zM774 284.9h1v221h-1zM810 284.9h1v221h-1zM845 284.9h1v221h-1zM854 284.9h1v221h-1zM908 284.9h1v221h-1zM931 284.9h1v221h-1zM939 284.9h1v221h-1zM1005 284.9h1v221h-1zM1013 284.9h1v221h-1zM1016 284.9h1v221h-1zM1021 284.9h1v221h-1zM1032 284.9h1v221h-1zM1086 284.9h1v221h-1zM1101 284.9h1v221h-1zM1105 284.9h1v221h-1zM1126 284.9h1v221h-1z"/><path fill="#aeaeb4" d="M640 284.9h1v221h-1zM652 284.9h1v221h-1zM664 284.9h1v221h-1zM821 284.9h1v221h-1zM967 284.9h1v221h-1zM1000 284.9h1v221h-1zM1014 284.9h1v221h-1zM1167 284.9h1v221h-1z"/><path fill="#a2ccea" d="M641 284.9h2v221h-2zM671 284.9h2v221h-2zM729 284.9h1v221h-1zM775 284.9h1v221h-1zM966 284.9h1v221h-1zM1034 284.9h1v221h-1zM1094 284.9h1v221h-1zM1188 284.9h1v221h-1z"/><path fill="#90a2ae" d="M643 284.9h1v221h-1z"/><path fill="#fcde96" d="M645 284.9h1v221h-1zM797 284.9h1v221h-1zM871 284.9h1v221h-1zM906 284.9h1v221h-1zM909 284.9h1v221h-1zM913 284.9h1v221h-1zM1038 284.9h1v221h-1zM1053 284.9h1v221h-1zM1058 284.9h1v221h-1zM1107 284.9h1v221h-1zM1135 284.9h1v221h-1z"/><path fill="#a8c0c0" d="M646 284.9h2v221h-2zM706 284.9h1v221h-1zM814 284.9h1v221h-1zM827 284.9h1v221h-1zM879 284.9h1v221h-1zM950 284.9h1v221h-1zM1077 284.9h1v221h-1zM1081 284.9h1v221h-1zM1146 284.9h1v221h-1zM1158 284.9h1v221h-1z"/><path fill="#e4c09c" d="M650 284.9h1v221h-1zM658 284.9h1v221h-1zM663 284.9h1v221h-1zM665 284.9h1v221h-1zM687 284.9h1v221h-1zM694 284.9h1v221h-1zM715 284.9h1v221h-1zM764 284.9h1v221h-1zM790 284.9h1v221h-1zM792 284.9h1v221h-1zM803 284.9h1v221h-1zM816 284.9h1v221h-1zM849 284.9h1v221h-1zM877 284.9h1v221h-1zM884 284.9h1v221h-1zM907 284.9h1v221h-1zM916 284.9h1v221h-1zM929 284.9h1v221h-1zM944 284.9h2v221h-2zM953 284.9h1v221h-1zM957 284.9h1v221h-1zM981 284.9h1v221h-1zM995 284.9h1v221h-1zM1010 284.9h1v221h-1zM1012 284.9h1v221h-1zM1047 284.9h1v221h-1zM1064 284.9h1v221h-1zM1074 284.9h1v221h-1zM1091 284.9h1v221h-1zM1095 284.9h1v221h-1zM1099 284.9h1v221h-1zM1138 284.9h1v221h-1zM1164 284.9h1v221h-1zM1175 284.9h1v221h-1z"/><path fill="#a8b4b4" d="M651 284.9h1v221h-1zM767 284.9h1v221h-1zM773 284.9h1v221h-1zM780 284.9h1v221h-1zM782 284.9h1v221h-1zM809 284.9h1v221h-1zM856 284.9h1v221h-1zM914 284.9h1v221h-1zM970 284.9h1v221h-1zM977 284.9h1v221h-1zM991 284.9h1v221h-1zM1037 284.9h1v221h-1zM1070 284.9h1v221h-1zM1088 284.9h1v221h-1zM1093 284.9h1v221h-1zM1098 284.9h1v221h-1zM1141 284.9h1v221h-1zM1143 284.9h1v221h-1zM1147 284.9h1v221h-1zM1176 284.9h1v221h-1zM1189 284.9h1v221h-1z"/><path fill="#bacccc" d="M655 284.9h1v221h-1zM735 284.9h1v221h-1zM737 284.9h1v221h-1zM815 284.9h1v221h-1zM878 284.9h1v221h-1zM911 284.9h1v221h-1zM921 284.9h1v221h-1zM1031 284.9h1v221h-1zM1040 284.9h1v221h-1zM1068 284.9h1v221h-1zM1168 284.9h1v221h-1z"/><path fill="#d2b490" d="M659 284.9h1v221h-1zM712 284.9h1v221h-1zM717 284.9h1v221h-1zM743 284.9h1v221h-1zM754 284.9h1v221h-1zM763 284.9h1v221h-1zM784 284.9h1v221h-1zM786 284.9h1v221h-1zM791 284.9h1v221h-1zM802 284.9h1v221h-1zM836 284.9h1v221h-1zM847 284.9h2v221h-2zM880 284.9h1v221h-1zM887 284.9h1v221h-1zM894 284.9h1v221h-1zM925 284.9h1v221h-1zM927 284.9h1v221h-1zM946 284.9h2v221h-2zM954 284.9h1v221h-1zM960 284.9h1v221h-1zM971 284.9h1v221h-1zM990 284.9h1v221h-1zM1003 284.9h1v221h-1zM1024 284.9h1v221h-1zM1035 284.9h1v221h-1zM1039 284.9h1v221h-1zM1046 284.9h1v221h-1zM1049 284.9h1v221h-1zM1063 284.9h1v221h-1zM1066 284.9h1v221h-1zM1078 284.9h1v221h-1zM1080 284.9h1v221h-1zM1103 284.9h1v221h-1zM1106 284.9h1v221h-1zM1109 284.9h1v221h-1zM1121 284.9h1v221h-1zM1130 284.9h2v221h-2zM1144 284.9h1v221h-1zM1149 284.9h2v221h-2zM1166 284.9h1v221h-1zM1184 284.9h1v221h-1z"/><path fill="#d2c09c" d="M660 284.9h2v221h-2zM675 284.9h1v221h-1zM677 284.9h1v221h-1zM690 284.9h1v221h-1zM698 284.9h1v221h-1zM721 284.9h1v221h-1zM727 284.9h1v221h-1zM730 284.9h1v221h-1zM732 284.9h1v221h-1zM744 284.9h1v221h-1zM753 284.9h1v221h-1zM756 284.9h2v221h-2zM759 284.9h2v221h-2zM768 284.9h1v221h-1zM772 284.9h1v221h-1zM779 284.9h1v221h-1zM793 284.9h1v221h-1zM796 284.9h1v221h-1zM801 284.9h1v221h-1zM806 284.9h1v221h-1zM833 284.9h1v221h-1zM838 284.9h1v221h-1zM844 284.9h1v221h-1zM851 284.9h1v221h-1zM872 284.9h1v221h-1zM875 284.9h2v221h-2zM885 284.9h2v221h-2zM889 284.9h1v221h-1zM904 284.9h1v221h-1zM912 284.9h1v221h-1zM923 284.9h1v221h-1zM933 284.9h1v221h-1zM959 284.9h1v221h-1zM963 284.9h1v221h-1zM969 284.9h1v221h-1zM972 284.9h2v221h-2zM979 284.9h1v221h-1zM982 284.9h1v221h-1zM994 284.9h1v221h-1zM999 284.9h1v221h-1zM1004 284.9h1v221h-1zM1009 284.9h1v221h-1zM1029 284.9h1v221h-1zM1043 284.9h2v221h-2zM1054 284.9h1v221h-1zM1083 284.9h2v221h-2zM1089 284.9h1v221h-1zM1104 284.9h1v221h-1zM1108 284.9h1v221h-1zM1115 284.9h1v221h-1zM1129 284.9h1v221h-1zM1133 284.9h1v221h-1zM1139 284.9h1v221h-1zM1159 284.9h1v221h-1zM1163 284.9h1v221h-1zM1169 284.9h1v221h-1z"/><path fill="#c6a28a" d="M667 284.9h1v221h-1zM682 284.9h1v221h-1zM696 284.9h1v221h-1zM716 284.9h1v221h-1zM800 284.9h1v221h-1zM861 284.9h1v221h-1z"/><path fill="#fcb46c" d="M668 284.9h1v221h-1zM670 284.9h1v221h-1zM674 284.9h1v221h-1zM679 284.9h1v221h-1zM686 284.9h1v221h-1zM688 284.9h1v221h-1zM701 284.9h1v221h-1zM705 284.9h1v221h-1zM726 284.9h1v221h-1zM766 284.9h1v221h-1zM769 284.9h1v221h-1zM778 284.9h1v221h-1zM781 284.9h1v221h-1zM787 284.9h2v221h-2zM804 284.9h1v221h-1zM812 284.9h2v221h-2zM818 284.9h1v221h-1zM828 284.9h1v221h-1zM850 284.9h1v221h-1zM859 284.9h1v221h-1zM870 284.9h1v221h-1zM890 284.9h1v221h-1zM899 284.9h1v221h-1zM941 284.9h1v221h-1zM956 284.9h1v221h-1zM975 284.9h1v221h-1zM987 284.9h1v221h-1zM992 284.9h2v221h-2zM996 284.9h2v221h-2zM1017 284.9h1v221h-1zM1020 284.9h1v221h-1zM1022 284.9h1v221h-1zM1025 284.9h1v221h-1zM1033 284.9h1v221h-1zM1041 284.9h1v221h-1zM1052 284.9h1v221h-1zM1059 284.9h1v221h-1zM1061 284.9h1v221h-1zM1102 284.9h1v221h-1zM1111 284.9h1v221h-1zM1128 284.9h1v221h-1z"/><path fill="#fcd28a" d="M673 284.9h1v221h-1zM683 284.9h1v221h-1zM689 284.9h1v221h-1zM692 284.9h1v221h-1zM700 284.9h1v221h-1zM707 284.9h1v221h-1zM710 284.9h1v221h-1zM720 284.9h1v221h-1zM728 284.9h1v221h-1zM734 284.9h1v221h-1zM742 284.9h1v221h-1zM755 284.9h1v221h-1zM777 284.9h1v221h-1zM799 284.9h1v221h-1zM807 284.9h1v221h-1zM820 284.9h1v221h-1zM824 284.9h1v221h-1zM829 284.9h1v221h-1zM842 284.9h1v221h-1zM860 284.9h1v221h-1zM883 284.9h1v221h-1zM893 284.9h1v221h-1zM896 284.9h1v221h-1zM898 284.9h1v221h-1zM917 284.9h1v221h-1zM920 284.9h1v221h-1zM935 284.9h1v221h-1zM948 284.9h1v221h-1zM955 284.9h1v221h-1zM968 284.9h1v221h-1zM985 284.9h1v221h-1zM1002 284.9h1v221h-1zM1026 284.9h1v221h-1zM1045 284.9h1v221h-1zM1050 284.9h1v221h-1zM1056 284.9h1v221h-1zM1060 284.9h1v221h-1zM1062 284.9h1v221h-1zM1067 284.9h1v221h-1zM1085 284.9h1v221h-1zM1090 284.9h1v221h-1zM1110 284.9h1v221h-1zM1114 284.9h1v221h-1zM1136 284.9h1v221h-1z"/><path fill="#ccded2" d="M708 284.9h1v221h-1zM731 284.9h1v221h-1zM825 284.9h1v221h-1zM839 284.9h1v221h-1zM868 284.9h1v221h-1zM1087 284.9h1v221h-1zM1096 284.9h1v221h-1zM1174 284.9h1v221h-1zM1179 284.9h1v221h-1zM1187 284.9h1v221h-1z"/><path fill="#90c0de" d="M711 284.9h1v221h-1zM942 284.9h1v221h-1zM1015 284.9h1v221h-1zM1151 284.9h1v221h-1zM1183 284.9h1v221h-1zM1186 284.9h1v221h-1z"/><path fill="#c6ae96" d="M718 284.9h1v221h-1zM733 284.9h1v221h-1zM795 284.9h1v221h-1zM805 284.9h1v221h-1zM881 284.9h1v221h-1zM895 284.9h1v221h-1zM918 284.9h1v221h-1zM1023 284.9h1v221h-1zM1030 284.9h1v221h-1zM1082 284.9h1v221h-1zM1113 284.9h1v221h-1zM1137 284.9h1v221h-1zM1154 284.9h1v221h-1zM1165 284.9h1v221h-1z"/><path fill="#aec0c0" d="M725 284.9h1v221h-1zM900 284.9h1v221h-1z"/><path fill="#84aed8" d="M776 284.9h1v221h-1zM1051 284.9h1v221h-1zM1092 284.9h1v221h-1zM1178 284.9h1v221h-1z"/><path fill="#6690c6" d="M798 284.9h1v221h-1zM1196 284.9h1v221h-1z"/><path fill="#72a2cc" d="M830 284.9h1v221h-1zM962 284.9h1v221h-1zM1161 284.9h1v221h-1zM1190 284.9h1v221h-1zM1193 284.9h1v221h-1zM1195 284.9h1v221h-1zM1197 284.9h1v221h-1z"/><path fill="#96bade" d="M1007 284.9h1v221h-1z"/><path fill="#c6c0a2" d="M1055 284.9h1v221h-1zM1076 284.9h1v221h-1z"/><path fill="#aed8f0" d="M1142 284.9h1v221h-1zM1170 284.9h1v221h-1z"/><path fill="#7eaed2" d="M1177 284.9h1v221h-1zM1180 284.9h1v221h-1zM1191 284.9h2v221h-2z"/></g>
<polyline fill="none" stroke="#000" stroke-width="1.6" points="629.5,505.9 631.9,505.9 634.3,505.8 636.7,505.8 639.1,505.7 641.5,505.6 643.9,505.5 646.3,505.4 648.7,505.2 651.1,505.1 653.5,504.9 655.9,504.7 658.3,504.5 660.7,504.2 663.1,504.0 665.5,503.7 667.9,503.4 670.3,503.1 672.7,502.8 675.1,502.4 677.5,502.1 679.9,501.8 682.3,501.5 684.7,501.1 687.1,500.8 689.5,500.4 691.9,500.0 694.3,499.6 696.7,499.1 699.1,498.7 701.5,498.2 703.9,497.8 706.2,497.3 708.6,496.9 711.0,496.4 713.4,496.0 715.8,495.5 718.2,495.0 720.6,494.6 723.0,494.1 725.4,493.6 727.8,493.1 730.2,492.6 732.6,492.1 735.0,491.6 737.4,491.0 739.8,490.5 742.2,490.0 744.6,489.5 747.0,488.9 749.4,488.4 751.8,487.8 754.2,487.3 756.6,486.7 759.0,486.2 761.4,485.6 763.8,485.0 766.2,484.4 768.6,483.8 771.0,483.2 773.4,482.6 775.8,482.0 778.2,481.4 780.6,480.8 783.0,480.1 785.4,479.5 787.8,478.9 790.2,478.2 792.6,477.5 795.0,476.9 797.4,476.2 799.8,475.5 802.2,474.8 804.6,474.1 807.0,473.5 809.4,472.8 811.8,472.1 814.2,471.4 816.6,470.7 819.0,470.0 821.4,469.3 823.8,468.5 826.2,467.8 828.6,467.1 831.0,466.4 833.4,465.7 835.8,465.0 838.2,464.3 840.6,463.6 843.0,462.9 845.4,462.1 847.8,461.4 850.2,460.7 852.6,460.0 854.9,459.2 857.3,458.5 859.7,457.8 862.1,457.0 864.5,456.3 866.9,455.5 869.3,454.8 871.7,454.0 874.1,453.3 876.5,452.6 878.9,451.8 881.3,451.1 883.7,450.3 886.1,449.5 888.5,448.8 890.9,448.0 893.3,447.3 895.7,446.5 898.1,445.8 900.5,445.0 902.9,444.2 905.3,443.5 907.7,442.7 910.1,441.9 912.5,441.1 914.9,440.4 917.3,439.6 919.7,438.8 922.1,438.0 924.5,437.2 926.9,436.4 929.3,435.6 931.7,434.8 934.1,434.0 936.5,433.2 938.9,432.4 941.3,431.6 943.7,430.7 946.1,429.9 948.5,429.1 950.9,428.3 953.3,427.4 955.7,426.6 958.1,425.7 960.5,424.9 962.9,424.1 965.3,423.2 967.7,422.4 970.1,421.5 972.5,420.6 974.9,419.8 977.3,418.9 979.7,418.0 982.1,417.1 984.5,416.3 986.9,415.4 989.3,414.5 991.7,413.6 994.1,412.7 996.5,411.8 998.9,410.9 1001.3,410.0 1003.7,409.1 1006.0,408.2 1008.4,407.2 1010.8,406.3 1013.2,405.4 1015.6,404.4 1018.0,403.5 1020.4,402.5 1022.8,401.6 1025.2,400.6 1027.6,399.7 1030.0,398.7 1032.4,397.7 1034.8,396.8 1037.2,395.8 1039.6,394.8 1042.0,393.8 1044.4,392.8 1046.8,391.8 1049.2,390.8 1051.6,389.8 1054.0,388.8 1056.4,387.8 1058.8,386.8 1061.2,385.8 1063.6,384.8 1066.0,383.8 1068.4,382.8 1070.8,381.7 1073.2,380.7 1075.6,379.7 1078.0,378.7 1080.4,377.6 1082.8,376.6 1085.2,375.5 1087.6,374.5 1090.0,373.4 1092.4,372.4 1094.8,371.3 1097.2,370.2 1099.6,369.1 1102.0,368.0 1104.4,367.0 1106.8,365.9 1109.2,364.8 1111.6,363.7 1114.0,362.6 1116.4,361.5 1118.8,360.4 1121.2,359.3 1123.6,358.3 1126.0,357.2 1128.4,356.2 1130.8,355.1 1133.2,354.1 1135.6,353.0 1138.0,351.9 1140.4,350.8 1142.8,349.7 1145.2,348.5 1147.6,347.3 1150.0,346.0 1152.4,344.7 1154.7,343.4 1157.1,342.0 1159.5,340.7 1161.9,339.2 1164.3,337.8 1166.7,336.3 1169.1,334.7 1171.5,333.2 1173.9,331.6 1176.3,329.9 1178.7,328.2 1181.1,326.4 1183.5,324.6 1185.5,323.0 1185.8,322.8 1186.1,322.5 1186.4,322.3 1186.7,322.0 1187.0,321.8 1187.3,321.5 1187.6,321.3 1187.9,321.0 1188.2,320.8 1188.5,320.6 1188.8,320.3 1189.1,320.1 1189.4,319.9 1189.7,319.6 1190.0,319.4 1190.3,319.2 1190.6,319.0 1190.9,318.7 1191.2,318.5 1191.5,318.3 1191.8,318.1 1192.1,317.8 1192.4,317.6 1192.7,317.3 1193.0,317.0 1193.3,316.8 1193.6,316.5 1193.9,316.2 1194.2,315.8 1194.5,315.5 1194.8,315.2 1195.1,314.8 1195.4,314.4 1195.7,313.9 1196.0,313.4 1196.3,312.8 1196.6,312.1 1196.9,311.5 1197.2,310.8 1197.5,310.5"/>
<line x1="629.5" y1="359.50" x2="1197.5" y2="359.50" stroke="#f00" stroke-width="2" stroke-dasharray="7 3.7"/>
<text x="630" y="357.40" font-size="13.9" fill="#f00">75%</text>
<line x1="629.5" y1="408.30" x2="1197.5" y2="408.30" stroke="#f00" stroke-width="2" stroke-dasharray="7 3.7"/>
<text x="630" y="406.20" font-size="13.9" fill="#f00">50%</text>
<rect x="629.5" y="284.9" width="568.0" height="221.0" fill="none" stroke="#2a2a2a" stroke-width="1"/>
<line x1="623.5" y1="505.90" x2="629.5" y2="505.90" stroke="#2a2a2a" stroke-width="1"/>
<text x="621.5" y="510.90" font-size="14" text-anchor="end">0</text>
<line x1="623.5" y1="450.65" x2="629.5" y2="450.65" stroke="#2a2a2a" stroke-width="1"/>
<text x="621.5" y="455.65" font-size="14" text-anchor="end">1</text>
<line x1="623.5" y1="395.40" x2="629.5" y2="395.40" stroke="#2a2a2a" stroke-width="1"/>
<text x="621.5" y="400.40" font-size="14" text-anchor="end">2</text>
<line x1="623.5" y1="340.15" x2="629.5" y2="340.15" stroke="#2a2a2a" stroke-width="1"/>
<text x="621.5" y="345.15" font-size="14" text-anchor="end">3</text>
<line x1="623.5" y1="284.90" x2="629.5" y2="284.90" stroke="#2a2a2a" stroke-width="1"/>
<text x="621.5" y="289.90" font-size="14" text-anchor="end">4</text>
<line x1="629.50" y1="505.9" x2="629.50" y2="512.4" stroke="#2a2a2a" stroke-width="1"/>
<text x="629.50" y="523.90" font-size="14" text-anchor="middle">0</text>
<line x1="749.42" y1="505.9" x2="749.42" y2="512.4" stroke="#2a2a2a" stroke-width="1"/>
<text x="749.42" y="523.90" font-size="14" text-anchor="middle">200</text>
<line x1="869.34" y1="505.9" x2="869.34" y2="512.4" stroke="#2a2a2a" stroke-width="1"/>
<text x="869.34" y="523.90" font-size="14" text-anchor="middle">400</text>
<line x1="989.26" y1="505.9" x2="989.26" y2="512.4" stroke="#2a2a2a" stroke-width="1"/>
<text x="989.26" y="523.90" font-size="14" text-anchor="middle">600</text>
<line x1="1109.18" y1="505.9" x2="1109.18" y2="512.4" stroke="#2a2a2a" stroke-width="1"/>
<text x="1109.18" y="523.90" font-size="14" text-anchor="middle">800</text>
<text transform="translate(595.4,395.40) rotate(-90)" font-size="13.7" text-anchor="middle">Cumulative CO<tspan font-size="10" dy="4">2</tspan><tspan dy="-4"> emissions (Gt)</tspan></text>
<clipPath id="clipd"><path d="M629.5,771.4 L629.5,771.4 L631.9,771.4 L634.3,771.4 L636.7,771.4 L639.1,771.4 L641.5,771.4 L643.9,771.4 L646.3,771.4 L648.7,771.4 L651.1,771.3 L653.5,771.3 L655.9,771.3 L658.3,771.3 L660.7,771.3 L663.1,771.3 L665.5,771.3 L667.9,771.2 L670.3,771.2 L672.7,771.2 L675.1,771.2 L677.5,771.2 L679.9,771.2 L682.3,771.1 L684.7,771.1 L687.1,771.1 L689.5,771.1 L691.9,771.0 L694.3,771.0 L696.7,771.0 L699.1,770.9 L701.5,770.9 L703.9,770.9 L706.2,770.8 L708.6,770.7 L711.0,770.7 L713.4,770.6 L715.8,770.6 L718.2,770.5 L720.6,770.4 L723.0,770.3 L725.4,770.3 L727.8,770.2 L730.2,770.1 L732.6,770.0 L735.0,769.9 L737.4,769.8 L739.8,769.7 L742.2,769.7 L744.6,769.6 L747.0,769.5 L749.4,769.4 L751.8,769.3 L754.2,769.1 L756.6,769.0 L759.0,768.9 L761.4,768.7 L763.8,768.6 L766.2,768.4 L768.6,768.2 L771.0,768.1 L773.4,767.9 L775.8,767.7 L778.2,767.5 L780.6,767.3 L783.0,767.1 L785.4,766.9 L787.8,766.7 L790.2,766.5 L792.6,766.3 L795.0,766.1 L797.4,765.9 L799.8,765.7 L802.2,765.5 L804.6,765.3 L807.0,765.0 L809.4,764.8 L811.8,764.6 L814.2,764.4 L816.6,764.2 L819.0,764.0 L821.4,763.8 L823.8,763.6 L826.2,763.4 L828.6,763.2 L831.0,762.9 L833.4,762.7 L835.8,762.5 L838.2,762.2 L840.6,762.0 L843.0,761.8 L845.4,761.5 L847.8,761.3 L850.2,761.0 L852.6,760.8 L854.9,760.5 L857.3,760.3 L859.7,760.0 L862.1,759.7 L864.5,759.4 L866.9,759.2 L869.3,758.9 L871.7,758.6 L874.1,758.3 L876.5,758.0 L878.9,757.6 L881.3,757.3 L883.7,756.9 L886.1,756.6 L888.5,756.2 L890.9,755.9 L893.3,755.5 L895.7,755.1 L898.1,754.7 L900.5,754.3 L902.9,753.9 L905.3,753.5 L907.7,753.1 L910.1,752.7 L912.5,752.3 L914.9,751.9 L917.3,751.5 L919.7,751.1 L922.1,750.7 L924.5,750.3 L926.9,749.9 L929.3,749.5 L931.7,749.1 L934.1,748.7 L936.5,748.3 L938.9,747.9 L941.3,747.5 L943.7,747.1 L946.1,746.7 L948.5,746.3 L950.9,745.9 L953.3,745.5 L955.7,745.0 L958.1,744.6 L960.5,744.2 L962.9,743.7 L965.3,743.3 L967.7,742.8 L970.1,742.3 L972.5,741.8 L974.9,741.3 L977.3,740.8 L979.7,740.3 L982.1,739.7 L984.5,739.2 L986.9,738.6 L989.3,738.0 L991.7,737.4 L994.1,736.7 L996.5,736.1 L998.9,735.5 L1001.3,734.8 L1003.7,734.2 L1006.0,733.5 L1008.4,732.9 L1010.8,732.2 L1013.2,731.5 L1015.6,730.8 L1018.0,730.1 L1020.4,729.4 L1022.8,728.7 L1025.2,728.0 L1027.6,727.3 L1030.0,726.6 L1032.4,725.8 L1034.8,725.1 L1037.2,724.3 L1039.6,723.6 L1042.0,722.8 L1044.4,722.1 L1046.8,721.3 L1049.2,720.6 L1051.6,719.8 L1054.0,719.0 L1056.4,718.3 L1058.8,717.5 L1061.2,716.8 L1063.6,716.0 L1066.0,715.2 L1068.4,714.4 L1070.8,713.5 L1073.2,712.7 L1075.6,711.8 L1078.0,710.9 L1080.4,709.9 L1082.8,709.0 L1085.2,707.9 L1087.6,706.9 L1090.0,705.8 L1092.4,704.7 L1094.8,703.5 L1097.2,702.3 L1099.6,701.1 L1102.0,699.9 L1104.4,698.7 L1106.8,697.4 L1109.2,696.2 L1111.6,694.9 L1114.0,693.6 L1116.4,692.2 L1118.8,690.9 L1121.2,689.5 L1123.6,688.1 L1126.0,686.7 L1128.4,685.2 L1130.8,683.7 L1133.2,682.1 L1135.6,680.5 L1138.0,678.9 L1140.4,677.2 L1142.8,675.4 L1145.2,673.4 L1147.6,671.4 L1150.0,669.4 L1152.4,667.2 L1154.7,665.0 L1157.1,662.7 L1159.5,660.2 L1161.9,657.8 L1164.3,655.2 L1166.7,652.5 L1169.1,649.7 L1171.5,646.7 L1173.9,643.6 L1176.3,640.3 L1178.7,636.8 L1181.1,633.2 L1183.5,629.3 L1185.5,625.7 L1185.8,625.1 L1186.1,624.5 L1186.4,623.9 L1186.7,623.3 L1187.0,622.7 L1187.3,622.0 L1187.6,621.4 L1187.9,620.7 L1188.2,620.1 L1188.5,619.4 L1188.8,618.7 L1189.1,618.0 L1189.4,617.4 L1189.7,616.6 L1190.0,615.9 L1190.3,615.2 L1190.6,614.4 L1190.9,613.6 L1191.2,612.8 L1191.5,611.9 L1191.8,611.0 L1192.1,610.0 L1192.4,609.1 L1192.7,608.0 L1193.0,606.9 L1193.3,605.8 L1193.6,604.6 L1193.9,603.4 L1194.2,602.1 L1194.5,600.8 L1194.8,599.3 L1195.1,597.7 L1195.4,595.9 L1195.7,593.8 L1196.0,591.5 L1196.3,588.7 L1196.6,585.6 L1196.9,581.2 L1197.2,573.5 L1197.5,570.3 L1197.5,771.4 Z"/></clipPath>
<g clip-path="url(#clipd)"><path fill="#fcc07e" d="M629 550.4h1v221h-1zM644 550.4h1v221h-1zM650 550.4h1v221h-1zM654 550.4h1v221h-1zM657 550.4h1v221h-1zM659 550.4h1v221h-1zM667 550.4h1v221h-1zM671 550.4h1v221h-1zM673 550.4h2v221h-2zM679 550.4h1v221h-1zM683 550.4h1v221h-1zM694 550.4h2v221h-2zM699 550.4h1v221h-1zM708 550.4h1v221h-1zM729 550.4h1v221h-1zM742 550.4h1v221h-1zM750 550.4h1v221h-1zM753 550.4h2v221h-2zM761 550.4h1v221h-1zM764 550.4h1v221h-1zM767 550.4h1v221h-1zM770 550.4h1v221h-1zM772 550.4h2v221h-2zM784 550.4h1v221h-1zM786 550.4h1v221h-1zM790 550.4h1v221h-1zM796 550.4h1v221h-1zM820 550.4h1v221h-1zM830 550.4h1v221h-1zM832 550.4h1v221h-1zM840 550.4h1v221h-1zM854 550.4h1v221h-1zM856 550.4h1v221h-1zM864 550.4h1v221h-1zM873 550.4h1v221h-1zM876 550.4h1v221h-1zM879 550.4h1v221h-1zM882 550.4h1v221h-1zM891 550.4h1v221h-1zM893 550.4h3v221h-3zM904 550.4h2v221h-2zM910 550.4h1v221h-1zM917 550.4h1v221h-1zM921 550.4h1v221h-1zM925 550.4h1v221h-1zM941 550.4h2v221h-2zM967 550.4h1v221h-1zM977 550.4h1v221h-1zM983 550.4h1v221h-1zM985 550.4h2v221h-2zM994 550.4h1v221h-1zM998 550.4h1v221h-1zM1001 550.4h1v221h-1zM1003 550.4h1v221h-1zM1005 550.4h1v221h-1zM1007 550.4h1v221h-1zM1018 550.4h1v221h-1zM1022 550.4h3v221h-3zM1045 550.4h1v221h-1zM1047 550.4h2v221h-2zM1052 550.4h1v221h-1zM1085 550.4h1v221h-1zM1088 550.4h1v221h-1zM1115 550.4h1v221h-1z"/><path fill="#fcd28a" d="M630 550.4h1v221h-1zM643 550.4h1v221h-1zM664 550.4h1v221h-1zM666 550.4h1v221h-1zM668 550.4h1v221h-1zM670 550.4h1v221h-1zM676 550.4h1v221h-1zM700 550.4h1v221h-1zM714 550.4h1v221h-1zM716 550.4h1v221h-1zM720 550.4h3v221h-3zM736 550.4h1v221h-1zM748 550.4h1v221h-1zM769 550.4h1v221h-1zM779 550.4h3v221h-3zM788 550.4h1v221h-1zM799 550.4h1v221h-1zM802 550.4h1v221h-1zM805 550.4h1v221h-1zM807 550.4h3v221h-3zM816 550.4h1v221h-1zM821 550.4h2v221h-2zM825 550.4h1v221h-1zM835 550.4h1v221h-1zM857 550.4h1v221h-1zM866 550.4h1v221h-1zM878 550.4h1v221h-1zM880 550.4h2v221h-2zM892 550.4h1v221h-1zM920 550.4h1v221h-1zM927 550.4h2v221h-2zM930 550.4h1v221h-1zM945 550.4h1v221h-1zM958 550.4h1v221h-1zM968 550.4h1v221h-1zM997 550.4h1v221h-1zM1011 550.4h1v221h-1zM1025 550.4h1v221h-1zM1027 550.4h1v221h-1zM1029 550.4h1v221h-1zM1034 550.4h1v221h-1zM1043 550.4h2v221h-2zM1054 550.4h1v221h-1zM1098 550.4h1v221h-1zM1126 550.4h1v221h-1zM1144 550.4h1v221h-1z"/><path fill="#e4c09c" d="M631 550.4h1v221h-1zM652 550.4h1v221h-1zM675 550.4h1v221h-1zM677 550.4h1v221h-1zM680 550.4h1v221h-1zM685 550.4h1v221h-1zM687 550.4h1v221h-1zM696 550.4h1v221h-1zM730 550.4h1v221h-1zM732 550.4h1v221h-1zM768 550.4h1v221h-1zM791 550.4h1v221h-1zM793 550.4h1v221h-1zM800 550.4h1v221h-1zM823 550.4h1v221h-1zM839 550.4h1v221h-1zM848 550.4h1v221h-1zM853 550.4h1v221h-1zM871 550.4h1v221h-1zM903 550.4h1v221h-1zM911 550.4h1v221h-1zM914 550.4h1v221h-1zM946 550.4h1v221h-1zM956 550.4h1v221h-1zM1041 550.4h1v221h-1zM1046 550.4h1v221h-1zM1049 550.4h1v221h-1zM1056 550.4h1v221h-1zM1061 550.4h1v221h-1zM1066 550.4h1v221h-1zM1074 550.4h1v221h-1zM1079 550.4h1v221h-1zM1087 550.4h1v221h-1zM1108 550.4h1v221h-1zM1118 550.4h1v221h-1z"/><path fill="#c6ae96" d="M632 550.4h1v221h-1zM743 550.4h1v221h-1zM922 550.4h1v221h-1zM999 550.4h1v221h-1zM1032 550.4h1v221h-1zM1095 550.4h2v221h-2zM1135 550.4h1v221h-1z"/><path fill="#e4deb4" d="M633 550.4h1v221h-1zM693 550.4h1v221h-1zM797 550.4h1v221h-1zM806 550.4h1v221h-1zM851 550.4h1v221h-1zM869 550.4h1v221h-1zM874 550.4h1v221h-1zM957 550.4h1v221h-1zM1091 550.4h1v221h-1zM1110 550.4h1v221h-1zM1125 550.4h1v221h-1z"/><path fill="#d2c09c" d="M634 550.4h1v221h-1zM639 550.4h1v221h-1zM647 550.4h1v221h-1zM655 550.4h1v221h-1zM661 550.4h1v221h-1zM672 550.4h1v221h-1zM701 550.4h1v221h-1zM707 550.4h1v221h-1zM712 550.4h1v221h-1zM737 550.4h1v221h-1zM746 550.4h2v221h-2zM751 550.4h2v221h-2zM760 550.4h1v221h-1zM771 550.4h1v221h-1zM782 550.4h2v221h-2zM804 550.4h1v221h-1zM813 550.4h2v221h-2zM824 550.4h1v221h-1zM838 550.4h1v221h-1zM844 550.4h1v221h-1zM847 550.4h1v221h-1zM850 550.4h1v221h-1zM852 550.4h1v221h-1zM861 550.4h1v221h-1zM863 550.4h1v221h-1zM887 550.4h1v221h-1zM916 550.4h1v221h-1zM924 550.4h1v221h-1zM948 550.4h1v221h-1zM959 550.4h1v221h-1zM974 550.4h1v221h-1zM981 550.4h1v221h-1zM984 550.4h1v221h-1zM988 550.4h1v221h-1zM991 550.4h2v221h-2zM1008 550.4h1v221h-1zM1030 550.4h1v221h-1zM1036 550.4h2v221h-2zM1059 550.4h1v221h-1zM1064 550.4h1v221h-1zM1072 550.4h1v221h-1zM1076 550.4h1v221h-1zM1097 550.4h1v221h-1zM1112 550.4h1v221h-1zM1120 550.4h1v221h-1zM1133 550.4h1v221h-1zM1152 550.4h1v221h-1zM1165 550.4h2v221h-2zM1175 550.4h1v221h-1zM1180 550.4h1v221h-1z"/><path fill="#fcde96" d="M635 550.4h1v221h-1zM662 550.4h1v221h-1zM669 550.4h1v221h-1zM728 550.4h1v221h-1zM745 550.4h1v221h-1zM757 550.4h1v221h-1zM785 550.4h1v221h-1zM855 550.4h1v221h-1zM900 550.4h1v221h-1zM975 550.4h1v221h-1zM1101 550.4h1v221h-1z"/><path fill="#e4cca8" d="M636 550.4h1v221h-1zM649 550.4h1v221h-1zM686 550.4h1v221h-1zM703 550.4h2v221h-2zM709 550.4h1v221h-1zM718 550.4h2v221h-2zM726 550.4h1v221h-1zM733 550.4h1v221h-1zM738 550.4h1v221h-1zM740 550.4h1v221h-1zM744 550.4h1v221h-1zM776 550.4h2v221h-2zM787 550.4h1v221h-1zM792 550.4h1v221h-1zM795 550.4h1v221h-1zM811 550.4h1v221h-1zM818 550.4h1v221h-1zM827 550.4h1v221h-1zM837 550.4h1v221h-1zM858 550.4h2v221h-2zM868 550.4h1v221h-1zM897 550.4h1v221h-1zM906 550.4h1v221h-1zM923 550.4h1v221h-1zM938 550.4h1v221h-1zM955 550.4h1v221h-1zM966 550.4h1v221h-1zM973 550.4h1v221h-1zM1026 550.4h1v221h-1zM1038 550.4h1v221h-1zM1042 550.4h1v221h-1zM1069 550.4h1v221h-1zM1080 550.4h1v221h-1zM1083 550.4h1v221h-1zM1094 550.4h1v221h-1zM1102 550.4h1v221h-1zM1111 550.4h1v221h-1zM1113 550.4h1v221h-1zM1190 550.4h1v221h-1z"/><path fill="#d2b490" d="M637 550.4h1v221h-1zM641 550.4h2v221h-2zM681 550.4h1v221h-1zM689 550.4h2v221h-2zM702 550.4h1v221h-1zM731 550.4h1v221h-1zM763 550.4h1v221h-1zM766 550.4h1v221h-1zM789 550.4h1v221h-1zM834 550.4h1v221h-1zM867 550.4h1v221h-1zM901 550.4h1v221h-1zM932 550.4h2v221h-2zM940 550.4h1v221h-1zM943 550.4h1v221h-1zM952 550.4h1v221h-1zM954 550.4h1v221h-1zM964 550.4h1v221h-1zM979 550.4h1v221h-1zM993 550.4h1v221h-1zM995 550.4h1v221h-1zM1004 550.4h1v221h-1zM1010 550.4h1v221h-1zM1015 550.4h1v221h-1zM1017 550.4h1v221h-1zM1075 550.4h1v221h-1zM1078 550.4h1v221h-1zM1173 550.4h1v221h-1z"/><path fill="#d2ccae" d="M638 550.4h1v221h-1zM645 550.4h1v221h-1zM663 550.4h1v221h-1zM682 550.4h1v221h-1zM759 550.4h1v221h-1zM762 550.4h1v221h-1zM841 550.4h1v221h-1zM913 550.4h1v221h-1zM1006 550.4h1v221h-1zM1035 550.4h1v221h-1zM1082 550.4h1v221h-1zM1084 550.4h1v221h-1zM1138 550.4h1v221h-1zM1184 550.4h1v221h-1z"/><path fill="#bac0ba" d="M640 550.4h1v221h-1zM653 550.4h1v221h-1zM705 550.4h1v221h-1zM725 550.4h1v221h-1zM775 550.4h1v221h-1zM875 550.4h1v221h-1zM929 550.4h1v221h-1zM978 550.4h1v221h-1zM982 550.4h1v221h-1zM1012 550.4h2v221h-2zM1028 550.4h1v221h-1zM1050 550.4h1v221h-1zM1067 550.4h1v221h-1zM1089 550.4h1v221h-1zM1092 550.4h2v221h-2zM1100 550.4h1v221h-1zM1155 550.4h1v221h-1zM1169 550.4h1v221h-1zM1174 550.4h1v221h-1z"/><path fill="#72a2cc" d="M646 550.4h1v221h-1zM1057 550.4h1v221h-1zM1068 550.4h1v221h-1zM1127 550.4h1v221h-1zM1143 550.4h1v221h-1zM1171 550.4h1v221h-1zM1192 550.4h1v221h-1zM1195 550.4h1v221h-1z"/><path fill="#a8c0c0" d="M648 550.4h1v221h-1zM697 550.4h2v221h-2zM815 550.4h1v221h-1zM885 550.4h1v221h-1zM888 550.4h1v221h-1zM918 550.4h1v221h-1zM931 550.4h1v221h-1zM1109 550.4h1v221h-1zM1121 550.4h1v221h-1zM1128 550.4h1v221h-1zM1159 550.4h1v221h-1z"/><path fill="#9ca2a8" d="M651 550.4h1v221h-1zM691 550.4h1v221h-1zM944 550.4h1v221h-1zM963 550.4h1v221h-1zM1071 550.4h1v221h-1zM1081 550.4h1v221h-1zM1129 550.4h1v221h-1zM1146 550.4h1v221h-1zM1168 550.4h1v221h-1zM1188 550.4h1v221h-1z"/><path fill="#90a2ae" d="M656 550.4h1v221h-1zM1139 550.4h1v221h-1z"/><path fill="#fcb46c" d="M658 550.4h1v221h-1zM678 550.4h1v221h-1zM688 550.4h1v221h-1zM710 550.4h1v221h-1zM713 550.4h1v221h-1zM715 550.4h1v221h-1zM717 550.4h1v221h-1zM723 550.4h1v221h-1zM739 550.4h1v221h-1zM741 550.4h1v221h-1zM749 550.4h1v221h-1zM755 550.4h1v221h-1zM794 550.4h1v221h-1zM798 550.4h1v221h-1zM812 550.4h1v221h-1zM819 550.4h1v221h-1zM826 550.4h1v221h-1zM828 550.4h2v221h-2zM831 550.4h1v221h-1zM833 550.4h1v221h-1zM836 550.4h1v221h-1zM842 550.4h2v221h-2zM849 550.4h1v221h-1zM862 550.4h1v221h-1zM865 550.4h1v221h-1zM870 550.4h1v221h-1zM884 550.4h1v221h-1zM896 550.4h1v221h-1zM899 550.4h1v221h-1zM908 550.4h2v221h-2zM912 550.4h1v221h-1zM935 550.4h1v221h-1zM937 550.4h1v221h-1zM949 550.4h1v221h-1zM951 550.4h1v221h-1zM962 550.4h1v221h-1zM969 550.4h1v221h-1zM987 550.4h1v221h-1zM996 550.4h1v221h-1zM1014 550.4h1v221h-1zM1020 550.4h2v221h-2zM1117 550.4h1v221h-1zM1122 550.4h1v221h-1z"/><path fill="#a8b4b4" d="M660 550.4h1v221h-1zM692 550.4h1v221h-1zM724 550.4h1v221h-1zM765 550.4h1v221h-1zM774 550.4h1v221h-1zM810 550.4h1v221h-1zM846 550.4h1v221h-1zM860 550.4h1v221h-1zM872 550.4h1v221h-1zM890 550.4h1v221h-1zM934 550.4h1v221h-1zM947 550.4h1v221h-1zM960 550.4h2v221h-2zM971 550.4h1v221h-1zM990 550.4h1v221h-1zM1002 550.4h1v221h-1zM1016 550.4h1v221h-1zM1019 550.4h1v221h-1zM1039 550.4h1v221h-1zM1053 550.4h1v221h-1zM1058 550.4h1v221h-1zM1070 550.4h1v221h-1zM1099 550.4h1v221h-1zM1124 550.4h1v221h-1zM1130 550.4h1v221h-1zM1150 550.4h1v221h-1zM1153 550.4h1v221h-1zM1158 550.4h1v221h-1zM1162 550.4h1v221h-1zM1172 550.4h1v221h-1zM1178 550.4h1v221h-1zM1182 550.4h1v221h-1z"/><path fill="#c6a28a" d="M665 550.4h1v221h-1zM711 550.4h1v221h-1zM883 550.4h1v221h-1zM936 550.4h1v221h-1zM950 550.4h1v221h-1zM972 550.4h1v221h-1zM980 550.4h1v221h-1zM1103 550.4h2v221h-2z"/><path fill="#ccccc6" d="M684 550.4h1v221h-1zM706 550.4h1v221h-1zM735 550.4h1v221h-1zM1033 550.4h1v221h-1zM1106 550.4h1v221h-1zM1116 550.4h1v221h-1zM1123 550.4h1v221h-1z"/><path fill="#bacccc" d="M727 550.4h1v221h-1zM734 550.4h1v221h-1zM778 550.4h1v221h-1zM902 550.4h1v221h-1zM919 550.4h1v221h-1zM939 550.4h1v221h-1zM989 550.4h1v221h-1zM1051 550.4h1v221h-1zM1062 550.4h1v221h-1zM1119 550.4h1v221h-1z"/><path fill="#aeaeb4" d="M756 550.4h1v221h-1zM889 550.4h1v221h-1zM1000 550.4h1v221h-1zM1031 550.4h1v221h-1zM1055 550.4h1v221h-1zM1137 550.4h1v221h-1zM1147 550.4h1v221h-1z"/><path fill="#ccded2" d="M758 550.4h1v221h-1zM877 550.4h1v221h-1zM915 550.4h1v221h-1zM1065 550.4h1v221h-1zM1086 550.4h1v221h-1zM1140 550.4h1v221h-1zM1154 550.4h1v221h-1z"/><path fill="#90c0de" d="M801 550.4h1v221h-1zM817 550.4h1v221h-1zM1105 550.4h1v221h-1zM1141 550.4h2v221h-2zM1157 550.4h1v221h-1zM1160 550.4h1v221h-1zM1181 550.4h1v221h-1zM1183 550.4h1v221h-1zM1187 550.4h1v221h-1z"/><path fill="#c6c0a2" d="M803 550.4h1v221h-1zM1009 550.4h1v221h-1z"/><path fill="#aec0c0" d="M845 550.4h1v221h-1zM965 550.4h1v221h-1zM1077 550.4h1v221h-1zM1148 550.4h2v221h-2z"/><path fill="#9caeba" d="M886 550.4h1v221h-1zM970 550.4h1v221h-1zM976 550.4h1v221h-1zM1040 550.4h1v221h-1zM1060 550.4h1v221h-1zM1114 550.4h1v221h-1zM1164 550.4h1v221h-1zM1176 550.4h1v221h-1zM1179 550.4h1v221h-1z"/><path fill="#6690c6" d="M898 550.4h1v221h-1zM953 550.4h1v221h-1zM1191 550.4h1v221h-1zM1196 550.4h2v221h-2z"/><path fill="#789ccc" d="M907 550.4h1v221h-1z"/><path fill="#7eaed2" d="M926 550.4h1v221h-1zM1163 550.4h1v221h-1zM1167 550.4h1v221h-1zM1170 550.4h1v221h-1zM1177 550.4h1v221h-1zM1193 550.4h1v221h-1z"/><path fill="#a2ccea" d="M1063 550.4h1v221h-1zM1090 550.4h1v221h-1zM1151 550.4h1v221h-1zM1185 550.4h2v221h-2z"/><path fill="#aed8f0" d="M1073 550.4h1v221h-1zM1134 550.4h1v221h-1zM1156 550.4h1v221h-1zM1161 550.4h1v221h-1z"/><path fill="#96bade" d="M1107 550.4h1v221h-1zM1136 550.4h1v221h-1z"/><path fill="#84aed8" d="M1131 550.4h2v221h-2zM1189 550.4h1v221h-1z"/><path fill="#9090a2" d="M1145 550.4h1v221h-1z"/><path fill="#5a84ba" d="M1194 550.4h1v221h-1z"/></g>
<polyline fill="none" stroke="#000" stroke-width="1.6" points="629.5,771.4 631.9,771.4 634.3,771.4 636.7,771.4 639.1,771.4 641.5,771.4 643.9,771.4 646.3,771.4 648.7,771.4 651.1,771.3 653.5,771.3 655.9,771.3 658.3,771.3 660.7,771.3 663.1,771.3 665.5,771.3 667.9,771.2 670.3,771.2 672.7,771.2 675.1,771.2 677.5,771.2 679.9,771.2 682.3,771.1 684.7,771.1 687.1,771.1 689.5,771.1 691.9,771.0 694.3,771.0 696.7,771.0 699.1,770.9 701.5,770.9 703.9,770.9 706.2,770.8 708.6,770.7 711.0,770.7 713.4,770.6 715.8,770.6 718.2,770.5 720.6,770.4 723.0,770.3 725.4,770.3 727.8,770.2 730.2,770.1 732.6,770.0 735.0,769.9 737.4,769.8 739.8,769.7 742.2,769.7 744.6,769.6 747.0,769.5 749.4,769.4 751.8,769.3 754.2,769.1 756.6,769.0 759.0,768.9 761.4,768.7 763.8,768.6 766.2,768.4 768.6,768.2 771.0,768.1 773.4,767.9 775.8,767.7 778.2,767.5 780.6,767.3 783.0,767.1 785.4,766.9 787.8,766.7 790.2,766.5 792.6,766.3 795.0,766.1 797.4,765.9 799.8,765.7 802.2,765.5 804.6,765.3 807.0,765.0 809.4,764.8 811.8,764.6 814.2,764.4 816.6,764.2 819.0,764.0 821.4,763.8 823.8,763.6 826.2,763.4 828.6,763.2 831.0,762.9 833.4,762.7 835.8,762.5 838.2,762.2 840.6,762.0 843.0,761.8 845.4,761.5 847.8,761.3 850.2,761.0 852.6,760.8 854.9,760.5 857.3,760.3 859.7,760.0 862.1,759.7 864.5,759.4 866.9,759.2 869.3,758.9 871.7,758.6 874.1,758.3 876.5,758.0 878.9,757.6 881.3,757.3 883.7,756.9 886.1,756.6 888.5,756.2 890.9,755.9 893.3,755.5 895.7,755.1 898.1,754.7 900.5,754.3 902.9,753.9 905.3,753.5 907.7,753.1 910.1,752.7 912.5,752.3 914.9,751.9 917.3,751.5 919.7,751.1 922.1,750.7 924.5,750.3 926.9,749.9 929.3,749.5 931.7,749.1 934.1,748.7 936.5,748.3 938.9,747.9 941.3,747.5 943.7,747.1 946.1,746.7 948.5,746.3 950.9,745.9 953.3,745.5 955.7,745.0 958.1,744.6 960.5,744.2 962.9,743.7 965.3,743.3 967.7,742.8 970.1,742.3 972.5,741.8 974.9,741.3 977.3,740.8 979.7,740.3 982.1,739.7 984.5,739.2 986.9,738.6 989.3,738.0 991.7,737.4 994.1,736.7 996.5,736.1 998.9,735.5 1001.3,734.8 1003.7,734.2 1006.0,733.5 1008.4,732.9 1010.8,732.2 1013.2,731.5 1015.6,730.8 1018.0,730.1 1020.4,729.4 1022.8,728.7 1025.2,728.0 1027.6,727.3 1030.0,726.6 1032.4,725.8 1034.8,725.1 1037.2,724.3 1039.6,723.6 1042.0,722.8 1044.4,722.1 1046.8,721.3 1049.2,720.6 1051.6,719.8 1054.0,719.0 1056.4,718.3 1058.8,717.5 1061.2,716.8 1063.6,716.0 1066.0,715.2 1068.4,714.4 1070.8,713.5 1073.2,712.7 1075.6,711.8 1078.0,710.9 1080.4,709.9 1082.8,709.0 1085.2,707.9 1087.6,706.9 1090.0,705.8 1092.4,704.7 1094.8,703.5 1097.2,702.3 1099.6,701.1 1102.0,699.9 1104.4,698.7 1106.8,697.4 1109.2,696.2 1111.6,694.9 1114.0,693.6 1116.4,692.2 1118.8,690.9 1121.2,689.5 1123.6,688.1 1126.0,686.7 1128.4,685.2 1130.8,683.7 1133.2,682.1 1135.6,680.5 1138.0,678.9 1140.4,677.2 1142.8,675.4 1145.2,673.4 1147.6,671.4 1150.0,669.4 1152.4,667.2 1154.7,665.0 1157.1,662.7 1159.5,660.2 1161.9,657.8 1164.3,655.2 1166.7,652.5 1169.1,649.7 1171.5,646.7 1173.9,643.6 1176.3,640.3 1178.7,636.8 1181.1,633.2 1183.5,629.3 1185.5,625.7 1185.8,625.1 1186.1,624.5 1186.4,623.9 1186.7,623.3 1187.0,622.7 1187.3,622.0 1187.6,621.4 1187.9,620.7 1188.2,620.1 1188.5,619.4 1188.8,618.7 1189.1,618.0 1189.4,617.4 1189.7,616.6 1190.0,615.9 1190.3,615.2 1190.6,614.4 1190.9,613.6 1191.2,612.8 1191.5,611.9 1191.8,611.0 1192.1,610.0 1192.4,609.1 1192.7,608.0 1193.0,606.9 1193.3,605.8 1193.6,604.6 1193.9,603.4 1194.2,602.1 1194.5,600.8 1194.8,599.3 1195.1,597.7 1195.4,595.9 1195.7,593.8 1196.0,591.5 1196.3,588.7 1196.6,585.6 1196.9,581.2 1197.2,573.5 1197.5,570.3"/>
<line x1="629.5" y1="621.90" x2="1197.5" y2="621.90" stroke="#f00" stroke-width="2" stroke-dasharray="7 3.7"/>
<text x="630" y="619.80" font-size="13.9" fill="#f00">75%</text>
<line x1="629.5" y1="671.40" x2="1197.5" y2="671.40" stroke="#f00" stroke-width="2" stroke-dasharray="7 3.7"/>
<text x="630" y="669.30" font-size="13.9" fill="#f00">50%</text>
<rect x="629.5" y="550.4" width="568.0" height="221.0" fill="none" stroke="#2a2a2a" stroke-width="1"/>
<line x1="623.5" y1="771.40" x2="629.5" y2="771.40" stroke="#2a2a2a" stroke-width="1"/>
<text x="621.5" y="776.40" font-size="14" text-anchor="end">0</text>
<line x1="623.5" y1="727.20" x2="629.5" y2="727.20" stroke="#2a2a2a" stroke-width="1"/>
<text x="621.5" y="732.20" font-size="14" text-anchor="end">2</text>
<line x1="623.5" y1="683.00" x2="629.5" y2="683.00" stroke="#2a2a2a" stroke-width="1"/>
<text x="621.5" y="688.00" font-size="14" text-anchor="end">4</text>
<line x1="623.5" y1="638.80" x2="629.5" y2="638.80" stroke="#2a2a2a" stroke-width="1"/>
<text x="621.5" y="643.80" font-size="14" text-anchor="end">6</text>
<line x1="623.5" y1="594.60" x2="629.5" y2="594.60" stroke="#2a2a2a" stroke-width="1"/>
<text x="621.5" y="599.60" font-size="14" text-anchor="end">8</text>
<line x1="623.5" y1="550.40" x2="629.5" y2="550.40" stroke="#2a2a2a" stroke-width="1"/>
<text x="621.5" y="555.40" font-size="14" text-anchor="end">10</text>
<line x1="629.50" y1="771.4" x2="629.50" y2="777.9" stroke="#2a2a2a" stroke-width="1"/>
<text x="629.50" y="789.40" font-size="14" text-anchor="middle">0</text>
<line x1="749.42" y1="771.4" x2="749.42" y2="777.9" stroke="#2a2a2a" stroke-width="1"/>
<text x="749.42" y="789.40" font-size="14" text-anchor="middle">200</text>
<line x1="869.34" y1="771.4" x2="869.34" y2="777.9" stroke="#2a2a2a" stroke-width="1"/>
<text x="869.34" y="789.40" font-size="14" text-anchor="middle">400</text>
<line x1="989.26" y1="771.4" x2="989.26" y2="777.9" stroke="#2a2a2a" stroke-width="1"/>
<text x="989.26" y="789.40" font-size="14" text-anchor="middle">600</text>
<line x1="1109.18" y1="771.4" x2="1109.18" y2="777.9" stroke="#2a2a2a" stroke-width="1"/>
<text x="1109.18" y="789.40" font-size="14" text-anchor="middle">800</text>
<text transform="translate(595.4,660.90) rotate(-90)" font-size="13.7" text-anchor="middle">Cumulative PM<tspan font-size="10" dy="4">2.5</tspan><tspan dy="-4">-related deaths (10</tspan><tspan font-size="8" dy="-5">4</tspan><tspan dy="5"> #)</tspan></text>
<text x="553.2" y="24.2" font-size="33.5" font-weight="bold">b</text>
<text x="553.8" y="290.1" font-size="33.5" font-weight="bold">c</text>
<text x="553.2" y="561.4" font-size="33.5" font-weight="bold">d</text>
<text x="913.75" y="804.5" font-size="13.6" text-anchor="middle">Cumulative installed capacity (GW)</text>
<rect x="658" y="686.3" width="23" height="8" fill="#4673b3"/>
<text x="690" y="694.5" font-size="11.2">&lt;50 MW</text>
<rect x="658" y="702.4" width="23" height="8" fill="#70a8d0"/>
<text x="690" y="710.6" font-size="11.2">50~100 MW</text>
<rect x="658" y="718.5" width="23" height="8" fill="#a8d6f0"/>
<text x="690" y="726.7" font-size="11.2">100~300 MW</text>
<rect x="658" y="734.6" width="23" height="8" fill="#fcda8c"/>
<text x="690" y="742.8" font-size="11.2">300~600 MW</text>
<rect x="658" y="750.7" width="23" height="8" fill="#fbab5f"/>
<text x="690" y="758.9" font-size="11.2">≥600 MW</text></svg></body></html>
